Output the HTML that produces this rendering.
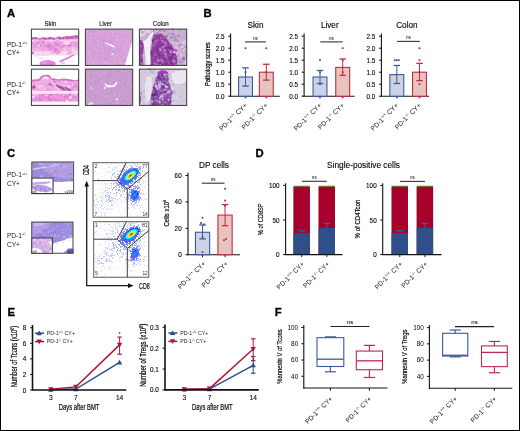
<!DOCTYPE html>
<html><head><meta charset="utf-8"><style>
html,body{margin:0;padding:0;background:#fff;}
svg{display:block;font-family:"Liberation Sans", sans-serif;will-change:transform;}
</style></head><body>
<svg width="520" height="431" viewBox="0 0 520 431">
<defs><filter id="nz" x="0" y="0" width="100%" height="100%"><feTurbulence type="fractalNoise" baseFrequency="0.42" numOctaves="2" seed="4"/><feColorMatrix type="matrix" values="0 0 0 0 1  0 0 0 0 1  0 0 0 0 1  1.6 0 0 0 -0.75"/></filter><filter id="nzd" x="0" y="0" width="100%" height="100%"><feTurbulence type="fractalNoise" baseFrequency="0.7" numOctaves="2" seed="9"/><feColorMatrix type="matrix" values="0 0 0 0 0.35  0 0 0 0 0.05  0 0 0 0 0.4  1.8 0 0 0 -0.95"/></filter><clipPath id="c1"><rect x="30.9" y="28.6" width="48.3" height="37.4"/></clipPath><clipPath id="c2"><rect x="84.9" y="28.6" width="48.3" height="37.4"/></clipPath><clipPath id="d2"><path d="M84.9,28.6 L133.2,28.6 L133.2,38.1 L124.5,66 L84.9,66 Z"/></clipPath><clipPath id="c3"><rect x="138.9" y="28.6" width="48.3" height="37.4"/></clipPath><clipPath id="c4"><rect x="30.9" y="68.6" width="48.3" height="37.4"/></clipPath><clipPath id="c5"><rect x="84.9" y="68.6" width="48.3" height="37.4"/></clipPath><clipPath id="d5"><path d="M84.9,68.6 L133.2,68.6 L133.2,106 L84.9,106 Z"/></clipPath><clipPath id="c6"><rect x="138.9" y="68.6" width="48.3" height="37.4"/></clipPath><clipPath id="c7"><rect x="31.3" y="161.5" width="42.8" height="32.6"/></clipPath><clipPath id="c8"><rect x="31.3" y="177.5" width="22.3" height="16.6"/></clipPath><clipPath id="c9"><rect x="31.2" y="221.6" width="42.3" height="32.2"/></clipPath><clipPath id="c10"><rect x="31.2" y="237.3" width="21.7" height="16.6"/></clipPath></defs>
<rect x="0" y="0" width="520" height="431" fill="#fff"/>
<text x="7" y="17" font-size="11.3" text-anchor="start" font-weight="bold" fill="#000" stroke="#000" stroke-width="0.3">A</text>
<text x="203.5" y="17.4" font-size="11.3" text-anchor="start" font-weight="bold" fill="#000" stroke="#000" stroke-width="0.3">B</text>
<text x="7" y="157.1" font-size="11.3" text-anchor="start" font-weight="bold" fill="#000" stroke="#000" stroke-width="0.3">C</text>
<text x="255.4" y="157.2" font-size="11.3" text-anchor="start" font-weight="bold" fill="#000" stroke="#000" stroke-width="0.3">D</text>
<text x="7.4" y="316.2" font-size="11.3" text-anchor="start" font-weight="bold" fill="#000" stroke="#000" stroke-width="0.3">E</text>
<text x="274.8" y="316.3" font-size="11.3" text-anchor="start" font-weight="bold" fill="#000" stroke="#000" stroke-width="0.3">F</text>
<line x1="230.6" y1="33.4" x2="230.6" y2="96.7" stroke="#111" stroke-width="1.1"/>
<line x1="230.1" y1="96.2" x2="279.8" y2="96.2" stroke="#111" stroke-width="1.1"/>
<line x1="228.1" y1="96.2" x2="230.6" y2="96.2" stroke="#111" stroke-width="1"/>
<text x="224.6" y="98.75" font-size="6.7" text-anchor="end" textLength="8.85" lengthAdjust="spacingAndGlyphs" stroke="#111" stroke-width="0.12">0.0</text>
<line x1="228.1" y1="84.2" x2="230.6" y2="84.2" stroke="#111" stroke-width="1"/>
<text x="224.6" y="86.75" font-size="6.7" text-anchor="end" textLength="8.85" lengthAdjust="spacingAndGlyphs" stroke="#111" stroke-width="0.12">0.5</text>
<line x1="228.1" y1="72.2" x2="230.6" y2="72.2" stroke="#111" stroke-width="1"/>
<text x="224.6" y="74.75" font-size="6.7" text-anchor="end" textLength="8.85" lengthAdjust="spacingAndGlyphs" stroke="#111" stroke-width="0.12">1.0</text>
<line x1="228.1" y1="60.2" x2="230.6" y2="60.2" stroke="#111" stroke-width="1"/>
<text x="224.6" y="62.75" font-size="6.7" text-anchor="end" textLength="8.85" lengthAdjust="spacingAndGlyphs" stroke="#111" stroke-width="0.12">1.5</text>
<line x1="228.1" y1="48.2" x2="230.6" y2="48.2" stroke="#111" stroke-width="1"/>
<text x="224.6" y="50.75" font-size="6.7" text-anchor="end" textLength="8.85" lengthAdjust="spacingAndGlyphs" stroke="#111" stroke-width="0.12">2.0</text>
<line x1="228.1" y1="36.2" x2="230.6" y2="36.2" stroke="#111" stroke-width="1"/>
<text x="224.6" y="38.75" font-size="6.7" text-anchor="end" textLength="8.85" lengthAdjust="spacingAndGlyphs" stroke="#111" stroke-width="0.12">2.5</text>
<text x="255.5" y="27.8" font-size="8.2" text-anchor="middle" stroke="#111" stroke-width="0.12">Skin</text>
<rect x="238.55" y="77" width="13.9" height="19.2" fill="#cdd2e6" stroke="#3b5b9b" stroke-width="1.1"/>
<line x1="245.5" y1="86.12" x2="245.5" y2="67.88" stroke="#3b5b9b" stroke-width="1"/>
<line x1="242.25" y1="86.12" x2="248.75" y2="86.12" stroke="#3b5b9b" stroke-width="1.3"/>
<line x1="242.25" y1="67.88" x2="248.75" y2="67.88" stroke="#3b5b9b" stroke-width="1.3"/>
<rect x="244.6" y="47.3" width="1.8" height="1.8" fill="#3b5b9b"/>
<rect x="244.6" y="71.3" width="1.8" height="1.8" fill="#3b5b9b"/>
<rect x="244.6" y="96.5" width="1.8" height="1.8" fill="#3b5b9b"/>
<rect x="259.35" y="72.2" width="13.9" height="24" fill="#e9c4bf" stroke="#bf2e48" stroke-width="1.1"/>
<line x1="266.3" y1="80.12" x2="266.3" y2="64.28" stroke="#bf2e48" stroke-width="1"/>
<line x1="263.05" y1="80.12" x2="269.55" y2="80.12" stroke="#bf2e48" stroke-width="1.3"/>
<line x1="263.05" y1="64.28" x2="269.55" y2="64.28" stroke="#bf2e48" stroke-width="1.3"/>
<rect x="265.4" y="47.3" width="1.8" height="1.8" fill="#bf2e48"/>
<rect x="265.4" y="71.3" width="1.8" height="1.8" fill="#bf2e48"/>
<rect x="265.4" y="96.5" width="1.8" height="1.8" fill="#bf2e48"/>
<line x1="245" y1="41.9" x2="265.9" y2="41.9" stroke="#333" stroke-width="1.1"/>
<text x="255.45" y="39.7" font-size="4.6" text-anchor="middle">ns</text>
<text x="247.5" y="105.8" font-size="6.7" text-anchor="end" fill="#111" transform="rotate(-45 247.5 105.8)">PD-1<tspan font-size="4.02" dy="-2.68">+/+</tspan><tspan dy="2.68"> CY+</tspan></text>
<text x="268.3" y="105.8" font-size="6.7" text-anchor="end" fill="#111" transform="rotate(-45 268.3 105.8)">PD-1<tspan font-size="4.02" dy="-2.68">-/-</tspan><tspan dy="2.68"> CY+</tspan></text>
<line x1="304.1" y1="33.4" x2="304.1" y2="96.7" stroke="#111" stroke-width="1.1"/>
<line x1="303.6" y1="96.2" x2="354.6" y2="96.2" stroke="#111" stroke-width="1.1"/>
<line x1="301.6" y1="96.2" x2="304.1" y2="96.2" stroke="#111" stroke-width="1"/>
<text x="298.1" y="98.75" font-size="6.7" text-anchor="end" textLength="8.85" lengthAdjust="spacingAndGlyphs" stroke="#111" stroke-width="0.12">0.0</text>
<line x1="301.6" y1="84.2" x2="304.1" y2="84.2" stroke="#111" stroke-width="1"/>
<text x="298.1" y="86.75" font-size="6.7" text-anchor="end" textLength="8.85" lengthAdjust="spacingAndGlyphs" stroke="#111" stroke-width="0.12">0.5</text>
<line x1="301.6" y1="72.2" x2="304.1" y2="72.2" stroke="#111" stroke-width="1"/>
<text x="298.1" y="74.75" font-size="6.7" text-anchor="end" textLength="8.85" lengthAdjust="spacingAndGlyphs" stroke="#111" stroke-width="0.12">1.0</text>
<line x1="301.6" y1="60.2" x2="304.1" y2="60.2" stroke="#111" stroke-width="1"/>
<text x="298.1" y="62.75" font-size="6.7" text-anchor="end" textLength="8.85" lengthAdjust="spacingAndGlyphs" stroke="#111" stroke-width="0.12">1.5</text>
<line x1="301.6" y1="48.2" x2="304.1" y2="48.2" stroke="#111" stroke-width="1"/>
<text x="298.1" y="50.75" font-size="6.7" text-anchor="end" textLength="8.85" lengthAdjust="spacingAndGlyphs" stroke="#111" stroke-width="0.12">2.0</text>
<line x1="301.6" y1="36.2" x2="304.1" y2="36.2" stroke="#111" stroke-width="1"/>
<text x="298.1" y="38.75" font-size="6.7" text-anchor="end" textLength="8.85" lengthAdjust="spacingAndGlyphs" stroke="#111" stroke-width="0.12">2.5</text>
<text x="329.75" y="27.8" font-size="8.2" text-anchor="middle" stroke="#111" stroke-width="0.12">Liver</text>
<rect x="313.05" y="77" width="13.9" height="19.2" fill="#cdd2e6" stroke="#3b5b9b" stroke-width="1.1"/>
<line x1="320" y1="83.48" x2="320" y2="70.52" stroke="#3b5b9b" stroke-width="1"/>
<line x1="316.75" y1="83.48" x2="323.25" y2="83.48" stroke="#3b5b9b" stroke-width="1.3"/>
<line x1="316.75" y1="70.52" x2="323.25" y2="70.52" stroke="#3b5b9b" stroke-width="1.3"/>
<rect x="319.1" y="59.3" width="1.8" height="1.8" fill="#3b5b9b"/>
<rect x="319.1" y="71.3" width="1.8" height="1.8" fill="#3b5b9b"/>
<rect x="319.1" y="83.3" width="1.8" height="1.8" fill="#3b5b9b"/>
<rect x="319.1" y="96.5" width="1.8" height="1.8" fill="#3b5b9b"/>
<rect x="335.75" y="67.4" width="13.9" height="28.8" fill="#e9c4bf" stroke="#bf2e48" stroke-width="1.1"/>
<line x1="342.7" y1="75.32" x2="342.7" y2="59" stroke="#bf2e48" stroke-width="1"/>
<line x1="339.45" y1="75.32" x2="345.95" y2="75.32" stroke="#bf2e48" stroke-width="1.3"/>
<line x1="339.45" y1="59" x2="345.95" y2="59" stroke="#bf2e48" stroke-width="1.3"/>
<rect x="341.8" y="47.3" width="1.8" height="1.8" fill="#bf2e48"/>
<rect x="341.8" y="59.3" width="1.8" height="1.8" fill="#bf2e48"/>
<rect x="341.8" y="71.3" width="1.8" height="1.8" fill="#bf2e48"/>
<rect x="341.8" y="96.5" width="1.8" height="1.8" fill="#bf2e48"/>
<line x1="320.3" y1="41.9" x2="342.6" y2="41.9" stroke="#333" stroke-width="1.1"/>
<text x="331.45" y="39.7" font-size="4.6" text-anchor="middle">ns</text>
<text x="322" y="105.8" font-size="6.7" text-anchor="end" fill="#111" transform="rotate(-45 322 105.8)">PD-1<tspan font-size="4.02" dy="-2.68">+/+</tspan><tspan dy="2.68"> CY+</tspan></text>
<text x="344.7" y="105.8" font-size="6.7" text-anchor="end" fill="#111" transform="rotate(-45 344.7 105.8)">PD-1<tspan font-size="4.02" dy="-2.68">-/-</tspan><tspan dy="2.68"> CY+</tspan></text>
<line x1="381.4" y1="33.4" x2="381.4" y2="96.7" stroke="#111" stroke-width="1.1"/>
<line x1="380.9" y1="96.2" x2="429" y2="96.2" stroke="#111" stroke-width="1.1"/>
<line x1="378.9" y1="96.2" x2="381.4" y2="96.2" stroke="#111" stroke-width="1"/>
<text x="375.4" y="98.75" font-size="6.7" text-anchor="end" textLength="8.85" lengthAdjust="spacingAndGlyphs" stroke="#111" stroke-width="0.12">0.0</text>
<line x1="378.9" y1="84.2" x2="381.4" y2="84.2" stroke="#111" stroke-width="1"/>
<text x="375.4" y="86.75" font-size="6.7" text-anchor="end" textLength="8.85" lengthAdjust="spacingAndGlyphs" stroke="#111" stroke-width="0.12">0.5</text>
<line x1="378.9" y1="72.2" x2="381.4" y2="72.2" stroke="#111" stroke-width="1"/>
<text x="375.4" y="74.75" font-size="6.7" text-anchor="end" textLength="8.85" lengthAdjust="spacingAndGlyphs" stroke="#111" stroke-width="0.12">1.0</text>
<line x1="378.9" y1="60.2" x2="381.4" y2="60.2" stroke="#111" stroke-width="1"/>
<text x="375.4" y="62.75" font-size="6.7" text-anchor="end" textLength="8.85" lengthAdjust="spacingAndGlyphs" stroke="#111" stroke-width="0.12">1.5</text>
<line x1="378.9" y1="48.2" x2="381.4" y2="48.2" stroke="#111" stroke-width="1"/>
<text x="375.4" y="50.75" font-size="6.7" text-anchor="end" textLength="8.85" lengthAdjust="spacingAndGlyphs" stroke="#111" stroke-width="0.12">2.0</text>
<line x1="378.9" y1="36.2" x2="381.4" y2="36.2" stroke="#111" stroke-width="1"/>
<text x="375.4" y="38.75" font-size="6.7" text-anchor="end" textLength="8.85" lengthAdjust="spacingAndGlyphs" stroke="#111" stroke-width="0.12">2.5</text>
<text x="406.9" y="27.8" font-size="8.2" text-anchor="middle" stroke="#111" stroke-width="0.12">Colon</text>
<rect x="389.85" y="74.6" width="13.9" height="21.6" fill="#cdd2e6" stroke="#3b5b9b" stroke-width="1.1"/>
<line x1="396.8" y1="83.48" x2="396.8" y2="65.48" stroke="#3b5b9b" stroke-width="1"/>
<line x1="393.55" y1="83.48" x2="400.05" y2="83.48" stroke="#3b5b9b" stroke-width="1.3"/>
<line x1="393.55" y1="65.48" x2="400.05" y2="65.48" stroke="#3b5b9b" stroke-width="1.3"/>
<rect x="393.9" y="59.3" width="1.8" height="1.8" fill="#3b5b9b"/>
<rect x="395.9" y="59.3" width="1.8" height="1.8" fill="#3b5b9b"/>
<rect x="397.9" y="59.3" width="1.8" height="1.8" fill="#3b5b9b"/>
<rect x="395.9" y="96.5" width="1.8" height="1.8" fill="#3b5b9b"/>
<rect x="412.55" y="72.2" width="13.9" height="24" fill="#e9c4bf" stroke="#bf2e48" stroke-width="1.1"/>
<line x1="419.5" y1="80.6" x2="419.5" y2="63.32" stroke="#bf2e48" stroke-width="1"/>
<line x1="416.25" y1="80.6" x2="422.75" y2="80.6" stroke="#bf2e48" stroke-width="1.3"/>
<line x1="416.25" y1="63.32" x2="422.75" y2="63.32" stroke="#bf2e48" stroke-width="1.3"/>
<rect x="418.6" y="47.3" width="1.8" height="1.8" fill="#bf2e48"/>
<rect x="418.6" y="59.3" width="1.8" height="1.8" fill="#bf2e48"/>
<rect x="418.6" y="71.3" width="1.8" height="1.8" fill="#bf2e48"/>
<rect x="418.6" y="83.3" width="1.8" height="1.8" fill="#bf2e48"/>
<rect x="418.6" y="96.5" width="1.8" height="1.8" fill="#bf2e48"/>
<line x1="397.1" y1="41.4" x2="419.8" y2="41.4" stroke="#333" stroke-width="1.1"/>
<text x="408.45" y="39.2" font-size="4.6" text-anchor="middle">ns</text>
<text x="398.8" y="105.8" font-size="6.7" text-anchor="end" fill="#111" transform="rotate(-45 398.8 105.8)">PD-1<tspan font-size="4.02" dy="-2.68">+/+</tspan><tspan dy="2.68"> CY+</tspan></text>
<text x="421.5" y="105.8" font-size="6.7" text-anchor="end" fill="#111" transform="rotate(-45 421.5 105.8)">PD-1<tspan font-size="4.02" dy="-2.68">-/-</tspan><tspan dy="2.68"> CY+</tspan></text>
<text x="210.2" y="64.1" font-size="7.5" text-anchor="middle" textLength="43.6" lengthAdjust="spacingAndGlyphs" transform="rotate(-90 210.2 64.1)" stroke="#111" stroke-width="0.25">Pathology scores</text>
<text x="44.6" y="25.6" font-size="6.8" text-anchor="start" textLength="11.6" lengthAdjust="spacingAndGlyphs" stroke="#111" stroke-width="0.1">Skin</text>
<text x="99.3" y="25.6" font-size="6.8" text-anchor="start" textLength="12.6" lengthAdjust="spacingAndGlyphs" stroke="#111" stroke-width="0.1">Liver</text>
<text x="152.7" y="25.6" font-size="6.8" text-anchor="start" textLength="16.1" lengthAdjust="spacingAndGlyphs" stroke="#111" stroke-width="0.1">Colon</text>
<text x="6.9" y="47.2" font-size="6.6" fill="#111">PD-1<tspan font-size="4" dy="-2.8">+/+</tspan></text>
<text x="6.9" y="54.8" font-size="6.6" text-anchor="start">CY+</text>
<text x="6.9" y="87" font-size="6.6" fill="#111">PD-1<tspan font-size="4" dy="-2.8">-/-</tspan></text>
<text x="6.9" y="94.6" font-size="6.6" text-anchor="start">CY+</text>
<g clip-path="url(#c1)">
<rect x="30.9" y="28.6" width="48.3" height="37.4" fill="#ffffff"/><path d="M30.9,37.6 L33.9,37 L36.9,37.4 L39.9,38.2 L42.9,37.2 L46.9,37.8 L50.9,37 L54.9,38 L57.9,36.6 L61.9,37.2 L65.9,36 L69.9,36.4 L73.9,35.6 L76.9,35.2 L79.2,35.8 L79.2,55.6 L30.9,55.6 Z" fill="#f7d6f0"/><path d="M30.9,37.6 L33.9,37 L36.9,37.4 L39.9,38.2 L42.9,37.2 L46.9,37.8 L50.9,37 L54.9,38 L57.9,36.6 L61.9,37.2 L65.9,36 L69.9,36.4 L73.9,35.6 L76.9,35.2 L79.2,35.8 L79.2,50.6 L60.9,51.1 L30.9,51.6 Z" fill="#f0b2e2"/><path d="M30.9,41.6 L79.2,41.1 L79.2,48.1 L30.9,48.6 Z" fill="#e99cdc" opacity="0.9"/><path d="M30.9,37.6 L33.9,37 L36.9,37.4 L39.9,38.2 L42.9,37.2 L46.9,37.8 L50.9,37 L54.9,38 L57.9,36.6 L61.9,37.2 L65.9,36 L69.9,36.4 L73.9,35.6 L76.9,35.2 L79.2,35.8 L79.2,38.4 L74.9,38.8 L70.9,39 L66.9,39.2 L61.9,39.6 L57.9,39.2 L54.9,40 L50.9,39.4 L46.9,40 L42.9,39.4 L39.9,40.2 L36.9,39.6 L33.9,39.4 L30.9,39.8 Z" fill="#d070c6"/><ellipse cx="31.9" cy="38.4" rx="1.2" ry="0.9" fill="#a844a6" opacity="0.75"/><ellipse cx="35.9" cy="38.2" rx="1.5" ry="0.9" fill="#a844a6" opacity="0.75"/><ellipse cx="40.9" cy="38.8" rx="1" ry="0.9" fill="#a844a6" opacity="0.75"/><ellipse cx="44.9" cy="38.6" rx="1.2" ry="0.9" fill="#a844a6" opacity="0.75"/><ellipse cx="49.9" cy="38.2" rx="1.4" ry="0.9" fill="#a844a6" opacity="0.75"/><ellipse cx="53.9" cy="39" rx="1" ry="0.9" fill="#a844a6" opacity="0.75"/><ellipse cx="59.9" cy="38.2" rx="1.5" ry="0.9" fill="#a844a6" opacity="0.75"/><ellipse cx="63.9" cy="37.8" rx="1.2" ry="0.9" fill="#a844a6" opacity="0.75"/><ellipse cx="67.9" cy="37.4" rx="1.8" ry="0.9" fill="#a844a6" opacity="0.75"/><ellipse cx="71.9" cy="37.2" rx="1.6" ry="0.9" fill="#a844a6" opacity="0.75"/><ellipse cx="75.9" cy="36.6" rx="1.8" ry="0.9" fill="#a844a6" opacity="0.75"/><ellipse cx="34.9" cy="45.1" rx="1.7" ry="0.9" fill="#b46cc6" opacity="0.6"/><ellipse cx="39.9" cy="46.1" rx="1.7" ry="0.9" fill="#b46cc6" opacity="0.6"/><ellipse cx="45.9" cy="45.4" rx="1.7" ry="0.9" fill="#b46cc6" opacity="0.6"/><ellipse cx="51.9" cy="46.2" rx="1.7" ry="0.9" fill="#b46cc6" opacity="0.6"/><ellipse cx="57.9" cy="45.2" rx="1.7" ry="0.9" fill="#b46cc6" opacity="0.6"/><ellipse cx="63.9" cy="46" rx="1.7" ry="0.9" fill="#b46cc6" opacity="0.6"/><ellipse cx="69.9" cy="45.4" rx="1.7" ry="0.9" fill="#b46cc6" opacity="0.6"/><ellipse cx="74.9" cy="46.2" rx="1.7" ry="0.9" fill="#b46cc6" opacity="0.6"/><ellipse cx="37.9" cy="42.8" rx="1.7" ry="0.9" fill="#b46cc6" opacity="0.6"/><ellipse cx="55.9" cy="42.6" rx="1.7" ry="0.9" fill="#b46cc6" opacity="0.6"/><ellipse cx="70.9" cy="43" rx="1.7" ry="0.9" fill="#b46cc6" opacity="0.6"/><rect x="30.9" y="39.8" width="48.3" height="1.6" fill="#f6d0ee" opacity="0.8"/><ellipse cx="46.54" cy="49.52" rx="1.22" ry="1.2" fill="#f8dcf2" opacity="0.59" transform="rotate(-19 46.54 49.52)"/><ellipse cx="55.64" cy="49.11" rx="2.21" ry="1.9" fill="#d878d0" opacity="0.83" transform="rotate(-11 55.64 49.11)"/><ellipse cx="67.64" cy="45.19" rx="1.53" ry="0.78" fill="#e48ad8" opacity="0.64" transform="rotate(-7 67.64 45.19)"/><ellipse cx="40.07" cy="41.98" rx="2.98" ry="1.72" fill="#e48ad8" opacity="0.84" transform="rotate(-25 40.07 41.98)"/><ellipse cx="42.96" cy="41.96" rx="1.69" ry="1.36" fill="#d878d0" opacity="0.6" transform="rotate(-25 42.96 41.96)"/><ellipse cx="43.04" cy="42.93" rx="1.26" ry="0.41" fill="#e48ad8" opacity="0.6" transform="rotate(-12 43.04 42.93)"/><ellipse cx="53.97" cy="51.94" rx="2.39" ry="1.24" fill="#e48ad8" opacity="0.57" transform="rotate(-6 53.97 51.94)"/><ellipse cx="41.33" cy="48.81" rx="2.15" ry="1.06" fill="#e48ad8" opacity="0.74" transform="rotate(-6 41.33 48.81)"/><ellipse cx="67.87" cy="43.73" rx="2.69" ry="0.72" fill="#f8dcf2" opacity="0.58" transform="rotate(-15 67.87 43.73)"/><ellipse cx="64.76" cy="47.67" rx="2.21" ry="1.06" fill="#f8dcf2" opacity="0.59" transform="rotate(-21 64.76 47.67)"/><ellipse cx="78.37" cy="47.6" rx="2.13" ry="0.74" fill="#e48ad8" opacity="0.57" transform="rotate(-5 78.37 47.6)"/><ellipse cx="52.18" cy="52.75" rx="2.05" ry="0.91" fill="#eeb0e4" opacity="0.69" transform="rotate(-15 52.18 52.75)"/><ellipse cx="61.01" cy="48.41" rx="2.99" ry="0.76" fill="#eeb0e4" opacity="0.58" transform="rotate(-16 61.01 48.41)"/><ellipse cx="62.05" cy="47.62" rx="2.54" ry="1.19" fill="#e48ad8" opacity="0.52" transform="rotate(-12 62.05 47.62)"/><ellipse cx="34.01" cy="43.57" rx="2.4" ry="1.84" fill="#eeb0e4" opacity="0.74" transform="rotate(-8 34.01 43.57)"/><ellipse cx="71.03" cy="49.09" rx="1.3" ry="0.7" fill="#d878d0" opacity="0.61" transform="rotate(-8 71.03 49.09)"/><ellipse cx="56.5" cy="44.55" rx="2.9" ry="0.77" fill="#d878d0" opacity="0.63" transform="rotate(-12 56.5 44.55)"/><ellipse cx="63.39" cy="43.64" rx="3.16" ry="1.04" fill="#eeb0e4" opacity="0.71" transform="rotate(-23 63.39 43.64)"/><ellipse cx="66.85" cy="43.67" rx="1.52" ry="1.23" fill="#eeb0e4" opacity="0.64" transform="rotate(-11 66.85 43.67)"/><ellipse cx="62.89" cy="46.82" rx="2.43" ry="0.84" fill="#e48ad8" opacity="0.69" transform="rotate(-11 62.89 46.82)"/><ellipse cx="42.34" cy="50" rx="1.54" ry="1.52" fill="#e48ad8" opacity="0.63" transform="rotate(-25 42.34 50)"/><ellipse cx="54.18" cy="50.81" rx="1.46" ry="1.2" fill="#e48ad8" opacity="0.84" transform="rotate(-10 54.18 50.81)"/><ellipse cx="48.82" cy="45.98" rx="2.46" ry="2.22" fill="#d878d0" opacity="0.7" transform="rotate(-15 48.82 45.98)"/><ellipse cx="69.99" cy="52.24" rx="2.62" ry="1.37" fill="#d878d0" opacity="0.57" transform="rotate(-6 69.99 52.24)"/><ellipse cx="67.93" cy="53.52" rx="2.27" ry="1.06" fill="#e48ad8" opacity="0.52" transform="rotate(-16 67.93 53.52)"/><ellipse cx="49.55" cy="48.62" rx="2.49" ry="1.89" fill="#d878d0" opacity="0.77" transform="rotate(-24 49.55 48.62)"/><ellipse cx="58.43" cy="52.63" rx="1.66" ry="0.77" fill="#d878d0" opacity="0.61" transform="rotate(-15 58.43 52.63)"/><ellipse cx="66.07" cy="47.46" rx="1.34" ry="1.23" fill="#eeb0e4" opacity="0.79" transform="rotate(-13 66.07 47.46)"/><ellipse cx="57.51" cy="41.38" rx="1.78" ry="1.04" fill="#d878d0" opacity="0.67" transform="rotate(-9 57.51 41.38)"/><ellipse cx="57.8" cy="51.79" rx="2.88" ry="2.66" fill="#d878d0" opacity="0.6" transform="rotate(-23 57.8 51.79)"/><ellipse cx="38.75" cy="45.86" rx="1.37" ry="1.23" fill="#f8dcf2" opacity="0.69" transform="rotate(-18 38.75 45.86)"/><ellipse cx="36.35" cy="54.52" rx="2.54" ry="2.42" fill="#f8dcf2" opacity="0.73" transform="rotate(-9 36.35 54.52)"/><ellipse cx="68.61" cy="42.52" rx="2.41" ry="1.71" fill="#f8dcf2" opacity="0.8" transform="rotate(-14 68.61 42.52)"/><ellipse cx="41.09" cy="49.63" rx="1.29" ry="0.5" fill="#e48ad8" opacity="0.77" transform="rotate(-13 41.09 49.63)"/><ellipse cx="41.86" cy="49.17" rx="1.69" ry="0.71" fill="#eeb0e4" opacity="0.7" transform="rotate(-22 41.86 49.17)"/><ellipse cx="40.53" cy="50.08" rx="1.6" ry="0.6" fill="#f8dcf2" opacity="0.84" transform="rotate(-5 40.53 50.08)"/><ellipse cx="70.13" cy="53.75" rx="1.55" ry="1.03" fill="#eeb0e4" opacity="0.79" transform="rotate(-14 70.13 53.75)"/><ellipse cx="73.25" cy="47.74" rx="2.18" ry="2.11" fill="#f8dcf2" opacity="0.56" transform="rotate(-17 73.25 47.74)"/><ellipse cx="72.48" cy="50.34" rx="1.93" ry="1.26" fill="#f8dcf2" opacity="0.61" transform="rotate(-16 72.48 50.34)"/><ellipse cx="32.61" cy="43.68" rx="1.75" ry="1.57" fill="#e48ad8" opacity="0.65" transform="rotate(-8 32.61 43.68)"/><ellipse cx="52.41" cy="47.89" rx="3.09" ry="2.73" fill="#e48ad8" opacity="0.81" transform="rotate(-19 52.41 47.89)"/><ellipse cx="56.88" cy="40.49" rx="2.34" ry="2.22" fill="#eeb0e4" opacity="0.71" transform="rotate(-25 56.88 40.49)"/><ellipse cx="55.72" cy="46.76" rx="2.04" ry="0.87" fill="#eeb0e4" opacity="0.77" transform="rotate(-14 55.72 46.76)"/><ellipse cx="66.68" cy="40.1" rx="1.63" ry="0.5" fill="#e48ad8" opacity="0.82" transform="rotate(-23 66.68 40.1)"/><ellipse cx="66" cy="42.85" rx="2.52" ry="2.2" fill="#f8dcf2" opacity="0.82" transform="rotate(-14 66 42.85)"/><path d="M30.9,51.8 L33.6,52 L33.9,53.9 L30.9,54.1 Z" fill="#b050b8" opacity="0.8"/><path d="M35.9,49.6 L44.9,49.1 L52.9,50.1 L44.9,50.8 Z" fill="#e8a0dc" opacity="0.8"/><path d="M34.9,54.6 L42.9,54.1 L50.9,55.1 L40.9,55.6 Z" fill="#f2c4ea" opacity="0.8"/><path d="M58.9,61.1 L66.9,57.6 L72.9,54.4 L74.9,53.9 L73.9,55.4 L67.9,59.1 L59.9,62.4 Z" fill="#e068cc" opacity="0.95"/><path d="M39.5,66 L39.9,62.1 L43.9,60.4 L48.9,60 L52.9,60.9 L55.4,62.6 L55.9,66 Z" fill="#e67ed8"/><ellipse cx="62.9" cy="63.1" rx="2.5" ry="1" fill="#f0b0e4" opacity="0.8"/><ellipse cx="40.9" cy="58.1" rx="4" ry="0.6" fill="#f4c8ee" opacity="0.8"/><ellipse cx="70.9" cy="61.1" rx="3" ry="0.6" fill="#f4c8ee" opacity="0.8"/>
<rect x="30.9" y="28.6" width="48.3" height="37.4" filter="url(#nz)" opacity="0.6"/>
</g>
<rect x="31.45" y="29.15" width="47.2" height="36.3" fill="none" stroke="#4a4a4a" stroke-width="1.1"/>
<g clip-path="url(#c2)">
<rect x="84.9" y="28.6" width="48.3" height="37.4" fill="#d9a2dc"/><ellipse cx="100.9" cy="48.6" rx="14" ry="12" fill="#d29cd8" opacity="0.6"/><path d="M133.2,38.1 L133.2,66 L124.5,66 Z" fill="#ffffff"/><path d="M104.5,42.2 L109.9,44.1 L113.9,45.8 L114.9,47 L113.5,47.4 L109.4,45.2 L104.5,43 Z" fill="#ffffff"/><ellipse cx="112.2" cy="53.9" rx="0.9" ry="0.9" fill="#ffffff"/>
<rect x="84.9" y="28.6" width="48.3" height="37.4" filter="url(#nz)" opacity="0.35"/>
<rect x="84.9" y="28.6" width="48.3" height="37.4" filter="url(#nzd)" opacity="0.35" clip-path="url(#d2)"/>
</g>
<rect x="85.45" y="29.15" width="47.2" height="36.3" fill="none" stroke="#4a4a4a" stroke-width="1.1"/>
<g clip-path="url(#c3)">
<rect x="138.9" y="28.6" width="48.3" height="37.4" fill="#c8aed0"/><ellipse cx="157.66" cy="32.81" rx="0.88" ry="0.8" fill="#9a6aae" opacity="0.84" transform="rotate(8 157.66 32.81)"/><ellipse cx="175.61" cy="33.71" rx="1.24" ry="0.99" fill="#e8e0ec" opacity="0.53" transform="rotate(151 175.61 33.71)"/><ellipse cx="156.09" cy="29.36" rx="1.73" ry="1.34" fill="#9a6aae" opacity="0.53" transform="rotate(100 156.09 29.36)"/><ellipse cx="185.61" cy="59.97" rx="1.03" ry="0.72" fill="#e8e0ec" opacity="0.46" transform="rotate(135 185.61 59.97)"/><ellipse cx="182.68" cy="52.95" rx="0.86" ry="0.8" fill="#dccfe2" opacity="0.53" transform="rotate(164 182.68 52.95)"/><ellipse cx="180.99" cy="46.63" rx="0.92" ry="0.67" fill="#b890c4" opacity="0.61" transform="rotate(165 180.99 46.63)"/><ellipse cx="175.22" cy="40.43" rx="0.86" ry="0.78" fill="#a57ab8" opacity="0.77" transform="rotate(78 175.22 40.43)"/><ellipse cx="183.65" cy="49.54" rx="1.72" ry="1.62" fill="#dccfe2" opacity="0.49" transform="rotate(49 183.65 49.54)"/><ellipse cx="175.87" cy="39.25" rx="0.97" ry="0.91" fill="#9a6aae" opacity="0.5" transform="rotate(51 175.87 39.25)"/><ellipse cx="180.36" cy="45.23" rx="1.55" ry="1.29" fill="#a57ab8" opacity="0.56" transform="rotate(163 180.36 45.23)"/><ellipse cx="182.2" cy="46.39" rx="1.2" ry="1.1" fill="#dccfe2" opacity="0.79" transform="rotate(156 182.2 46.39)"/><ellipse cx="182.21" cy="46.75" rx="1.56" ry="1.33" fill="#e8e0ec" opacity="0.84" transform="rotate(6 182.21 46.75)"/><ellipse cx="186.69" cy="41.64" rx="0.61" ry="0.47" fill="#dccfe2" opacity="0.63" transform="rotate(11 186.69 41.64)"/><ellipse cx="183.32" cy="58.11" rx="1.74" ry="1.65" fill="#9a6aae" opacity="0.67" transform="rotate(142 183.32 58.11)"/><ellipse cx="176.74" cy="48.21" rx="1.63" ry="1.27" fill="#b890c4" opacity="0.53" transform="rotate(157 176.74 48.21)"/><ellipse cx="168.91" cy="33.6" rx="0.75" ry="0.69" fill="#9a6aae" opacity="0.83" transform="rotate(176 168.91 33.6)"/><ellipse cx="178.03" cy="36.37" rx="0.89" ry="0.86" fill="#9a6aae" opacity="0.62" transform="rotate(78 178.03 36.37)"/><ellipse cx="171.48" cy="37.68" rx="1.53" ry="1.38" fill="#a57ab8" opacity="0.46" transform="rotate(157 171.48 37.68)"/><ellipse cx="181.3" cy="38.85" rx="1.24" ry="0.98" fill="#dccfe2" opacity="0.53" transform="rotate(8 181.3 38.85)"/><ellipse cx="180.94" cy="42.97" rx="0.84" ry="0.59" fill="#dccfe2" opacity="0.57" transform="rotate(94 180.94 42.97)"/><ellipse cx="186.14" cy="61.69" rx="1.43" ry="1.37" fill="#e8e0ec" opacity="0.82" transform="rotate(71 186.14 61.69)"/><ellipse cx="175.48" cy="44.22" rx="0.68" ry="0.47" fill="#e8e0ec" opacity="0.78" transform="rotate(0 175.48 44.22)"/><ellipse cx="183.56" cy="64.85" rx="0.89" ry="0.6" fill="#b890c4" opacity="0.76" transform="rotate(24 183.56 64.85)"/><ellipse cx="169.79" cy="40.05" rx="1.16" ry="1.14" fill="#dccfe2" opacity="0.57" transform="rotate(99 169.79 40.05)"/><ellipse cx="166.55" cy="36.58" rx="1.66" ry="1.52" fill="#a57ab8" opacity="0.78" transform="rotate(62 166.55 36.58)"/><ellipse cx="185.8" cy="37.55" rx="1.62" ry="1.26" fill="#dccfe2" opacity="0.56" transform="rotate(27 185.8 37.55)"/><ellipse cx="180.22" cy="30.91" rx="0.9" ry="0.73" fill="#e8e0ec" opacity="0.51" transform="rotate(12 180.22 30.91)"/><ellipse cx="184.95" cy="37.03" rx="1.63" ry="1.36" fill="#a57ab8" opacity="0.46" transform="rotate(121 184.95 37.03)"/><ellipse cx="183.8" cy="59.53" rx="1.47" ry="1.11" fill="#9a6aae" opacity="0.85" transform="rotate(119 183.8 59.53)"/><ellipse cx="182.37" cy="30.73" rx="1.28" ry="1.24" fill="#dccfe2" opacity="0.7" transform="rotate(51 182.37 30.73)"/><ellipse cx="180.91" cy="56.1" rx="1.69" ry="1.53" fill="#dccfe2" opacity="0.62" transform="rotate(142 180.91 56.1)"/><ellipse cx="161.73" cy="32" rx="0.67" ry="0.63" fill="#dccfe2" opacity="0.8" transform="rotate(50 161.73 32)"/><ellipse cx="185.81" cy="44.35" rx="0.98" ry="0.71" fill="#e8e0ec" opacity="0.78" transform="rotate(107 185.81 44.35)"/><ellipse cx="164.65" cy="35.57" rx="0.87" ry="0.63" fill="#9a6aae" opacity="0.5" transform="rotate(27 164.65 35.57)"/><ellipse cx="177.2" cy="40.2" rx="1.4" ry="1.11" fill="#9a6aae" opacity="0.48" transform="rotate(24 177.2 40.2)"/><ellipse cx="182.75" cy="46.43" rx="0.77" ry="0.61" fill="#9a6aae" opacity="0.47" transform="rotate(153 182.75 46.43)"/><ellipse cx="163.46" cy="30.81" rx="0.99" ry="0.87" fill="#b890c4" opacity="0.78" transform="rotate(178 163.46 30.81)"/><ellipse cx="183.23" cy="49.22" rx="1.31" ry="1.2" fill="#dccfe2" opacity="0.51" transform="rotate(77 183.23 49.22)"/><ellipse cx="179.89" cy="50.83" rx="1.25" ry="1.18" fill="#dccfe2" opacity="0.75" transform="rotate(165 179.89 50.83)"/><ellipse cx="173.94" cy="34.15" rx="1.76" ry="1.42" fill="#b890c4" opacity="0.74" transform="rotate(36 173.94 34.15)"/><ellipse cx="176.3" cy="50.46" rx="1.56" ry="1.26" fill="#9a6aae" opacity="0.78" transform="rotate(86 176.3 50.46)"/><ellipse cx="179.05" cy="55.55" rx="1.18" ry="0.87" fill="#9a6aae" opacity="0.73" transform="rotate(118 179.05 55.55)"/><ellipse cx="173.19" cy="41.53" rx="1.63" ry="1.5" fill="#a57ab8" opacity="0.75" transform="rotate(162 173.19 41.53)"/><ellipse cx="155.13" cy="29.3" rx="0.66" ry="0.66" fill="#b890c4" opacity="0.52" transform="rotate(18 155.13 29.3)"/><ellipse cx="166.62" cy="32.28" rx="0.72" ry="0.49" fill="#dccfe2" opacity="0.51" transform="rotate(9 166.62 32.28)"/><ellipse cx="179.22" cy="55.99" rx="0.72" ry="0.52" fill="#b890c4" opacity="0.64" transform="rotate(91 179.22 55.99)"/><ellipse cx="186.95" cy="52.83" rx="1.77" ry="1.58" fill="#b890c4" opacity="0.55" transform="rotate(54 186.95 52.83)"/><ellipse cx="172.38" cy="34.16" rx="1.43" ry="1.24" fill="#a57ab8" opacity="0.81" transform="rotate(71 172.38 34.16)"/><ellipse cx="175.54" cy="46.95" rx="1.01" ry="0.69" fill="#e8e0ec" opacity="0.73" transform="rotate(59 175.54 46.95)"/><ellipse cx="185.73" cy="38.56" rx="1.66" ry="1.25" fill="#e8e0ec" opacity="0.53" transform="rotate(106 185.73 38.56)"/><ellipse cx="185.5" cy="46.26" rx="0.7" ry="0.59" fill="#b890c4" opacity="0.83" transform="rotate(118 185.5 46.26)"/><ellipse cx="171.86" cy="28.63" rx="1.2" ry="0.78" fill="#e8e0ec" opacity="0.83" transform="rotate(72 171.86 28.63)"/><ellipse cx="178.74" cy="43.45" rx="0.7" ry="0.51" fill="#e8e0ec" opacity="0.69" transform="rotate(100 178.74 43.45)"/><ellipse cx="178.3" cy="48.64" rx="1.01" ry="0.73" fill="#dccfe2" opacity="0.73" transform="rotate(160 178.3 48.64)"/><ellipse cx="182.43" cy="29.56" rx="1.08" ry="0.69" fill="#b890c4" opacity="0.49" transform="rotate(29 182.43 29.56)"/><ellipse cx="185.61" cy="46.08" rx="1.41" ry="1.29" fill="#9a6aae" opacity="0.48" transform="rotate(94 185.61 46.08)"/><ellipse cx="185.48" cy="51.27" rx="1.05" ry="1" fill="#a57ab8" opacity="0.51" transform="rotate(145 185.48 51.27)"/><ellipse cx="169.6" cy="39.99" rx="1.13" ry="0.81" fill="#a57ab8" opacity="0.75" transform="rotate(97 169.6 39.99)"/><ellipse cx="170.84" cy="30.72" rx="0.64" ry="0.45" fill="#dccfe2" opacity="0.5" transform="rotate(142 170.84 30.72)"/><ellipse cx="155.66" cy="31" rx="1.61" ry="1.2" fill="#dccfe2" opacity="0.58" transform="rotate(94 155.66 31)"/><ellipse cx="180.93" cy="65.86" rx="0.66" ry="0.45" fill="#e8e0ec" opacity="0.79" transform="rotate(138 180.93 65.86)"/><ellipse cx="187.2" cy="47.17" rx="1.38" ry="1.27" fill="#9a6aae" opacity="0.68" transform="rotate(165 187.2 47.17)"/><ellipse cx="181.2" cy="59.11" rx="1.44" ry="1.34" fill="#b890c4" opacity="0.66" transform="rotate(159 181.2 59.11)"/><ellipse cx="160.51" cy="30.71" rx="1.7" ry="1.43" fill="#b890c4" opacity="0.8" transform="rotate(28 160.51 30.71)"/><ellipse cx="176.59" cy="43.27" rx="1.3" ry="0.85" fill="#dccfe2" opacity="0.64" transform="rotate(135 176.59 43.27)"/><ellipse cx="180.16" cy="53.34" rx="1.32" ry="1.02" fill="#dccfe2" opacity="0.49" transform="rotate(143 180.16 53.34)"/><ellipse cx="184.09" cy="59.09" rx="0.9" ry="0.73" fill="#9a6aae" opacity="0.72" transform="rotate(150 184.09 59.09)"/><ellipse cx="180.42" cy="54.93" rx="1.01" ry="0.94" fill="#dccfe2" opacity="0.72" transform="rotate(101 180.42 54.93)"/><ellipse cx="170.79" cy="42.52" rx="1.66" ry="1.16" fill="#e8e0ec" opacity="0.68" transform="rotate(164 170.79 42.52)"/><ellipse cx="180.2" cy="61.77" rx="1.57" ry="1.31" fill="#a57ab8" opacity="0.8" transform="rotate(9 180.2 61.77)"/><ellipse cx="176.9" cy="47.84" rx="1.32" ry="0.95" fill="#dccfe2" opacity="0.83" transform="rotate(111 176.9 47.84)"/><ellipse cx="172.84" cy="28.91" rx="1.33" ry="1.23" fill="#9a6aae" opacity="0.85" transform="rotate(144 172.84 28.91)"/><ellipse cx="186.69" cy="50.88" rx="1.5" ry="1.06" fill="#e8e0ec" opacity="0.73" transform="rotate(121 186.69 50.88)"/><ellipse cx="178.18" cy="35.25" rx="1.33" ry="1.24" fill="#a57ab8" opacity="0.54" transform="rotate(21 178.18 35.25)"/><ellipse cx="183.67" cy="42.98" rx="1.12" ry="0.92" fill="#e8e0ec" opacity="0.72" transform="rotate(136 183.67 42.98)"/><ellipse cx="171.65" cy="37.51" rx="1.69" ry="1.32" fill="#a57ab8" opacity="0.65" transform="rotate(64 171.65 37.51)"/><ellipse cx="181.81" cy="61.45" rx="1.48" ry="1.41" fill="#b890c4" opacity="0.74" transform="rotate(86 181.81 61.45)"/><ellipse cx="177.65" cy="52.63" rx="1.04" ry="0.72" fill="#dccfe2" opacity="0.71" transform="rotate(165 177.65 52.63)"/><ellipse cx="179.44" cy="45.04" rx="1.48" ry="1.23" fill="#b890c4" opacity="0.67" transform="rotate(172 179.44 45.04)"/><ellipse cx="185.83" cy="39.33" rx="1.16" ry="0.92" fill="#a57ab8" opacity="0.73" transform="rotate(130 185.83 39.33)"/><ellipse cx="181.59" cy="38.11" rx="1.09" ry="1.07" fill="#dccfe2" opacity="0.46" transform="rotate(48 181.59 38.11)"/><ellipse cx="176.9" cy="39.28" rx="0.77" ry="0.51" fill="#9a6aae" opacity="0.46" transform="rotate(121 176.9 39.28)"/><ellipse cx="181.65" cy="57.1" rx="0.89" ry="0.65" fill="#dccfe2" opacity="0.56" transform="rotate(36 181.65 57.1)"/><ellipse cx="183.55" cy="47.08" rx="0.76" ry="0.63" fill="#e8e0ec" opacity="0.79" transform="rotate(49 183.55 47.08)"/><ellipse cx="178.93" cy="51.08" rx="0.94" ry="0.91" fill="#dccfe2" opacity="0.65" transform="rotate(167 178.93 51.08)"/><ellipse cx="183.38" cy="48.48" rx="0.66" ry="0.48" fill="#a57ab8" opacity="0.69" transform="rotate(52 183.38 48.48)"/><ellipse cx="180.5" cy="30.37" rx="1.49" ry="0.99" fill="#9a6aae" opacity="0.45" transform="rotate(91 180.5 30.37)"/><ellipse cx="186.55" cy="44.9" rx="1.69" ry="1.48" fill="#e8e0ec" opacity="0.52" transform="rotate(117 186.55 44.9)"/><ellipse cx="173.22" cy="41.99" rx="1.53" ry="1.43" fill="#dccfe2" opacity="0.69" transform="rotate(34 173.22 41.99)"/><ellipse cx="186.89" cy="54.03" rx="0.89" ry="0.71" fill="#e8e0ec" opacity="0.84" transform="rotate(96 186.89 54.03)"/><ellipse cx="182.89" cy="48.5" rx="1.28" ry="0.84" fill="#b890c4" opacity="0.81" transform="rotate(125 182.89 48.5)"/><ellipse cx="185.16" cy="41.69" rx="1.63" ry="1.63" fill="#dccfe2" opacity="0.75" transform="rotate(116 185.16 41.69)"/><ellipse cx="183.78" cy="64.91" rx="1.09" ry="0.96" fill="#b890c4" opacity="0.68" transform="rotate(13 183.78 64.91)"/><ellipse cx="180.63" cy="64.32" rx="1.07" ry="0.69" fill="#b890c4" opacity="0.84" transform="rotate(163 180.63 64.32)"/><ellipse cx="185.39" cy="63.53" rx="0.84" ry="0.83" fill="#e8e0ec" opacity="0.84" transform="rotate(113 185.39 63.53)"/><ellipse cx="179.88" cy="37.26" rx="0.72" ry="0.67" fill="#9a6aae" opacity="0.52" transform="rotate(24 179.88 37.26)"/><ellipse cx="164.77" cy="30.92" rx="1.59" ry="1.32" fill="#a57ab8" opacity="0.66" transform="rotate(156 164.77 30.92)"/><ellipse cx="178.62" cy="58.27" rx="1.05" ry="0.85" fill="#b890c4" opacity="0.74" transform="rotate(41 178.62 58.27)"/><ellipse cx="184.14" cy="60.76" rx="1.07" ry="0.7" fill="#9a6aae" opacity="0.53" transform="rotate(98 184.14 60.76)"/><ellipse cx="177.15" cy="37.46" rx="1.06" ry="0.82" fill="#dccfe2" opacity="0.72" transform="rotate(18 177.15 37.46)"/><ellipse cx="171.34" cy="41.69" rx="0.74" ry="0.59" fill="#b890c4" opacity="0.65" transform="rotate(7 171.34 41.69)"/><ellipse cx="182.09" cy="38.05" rx="1.46" ry="0.93" fill="#a57ab8" opacity="0.46" transform="rotate(141 182.09 38.05)"/><ellipse cx="184.28" cy="60.18" rx="0.66" ry="0.62" fill="#a57ab8" opacity="0.67" transform="rotate(75 184.28 60.18)"/><ellipse cx="186.92" cy="28.88" rx="1.53" ry="1.29" fill="#dccfe2" opacity="0.79" transform="rotate(111 186.92 28.88)"/><ellipse cx="153.75" cy="30.85" rx="1.01" ry="0.74" fill="#9a6aae" opacity="0.58" transform="rotate(83 153.75 30.85)"/><ellipse cx="162.25" cy="28.84" rx="1.35" ry="1.18" fill="#b890c4" opacity="0.57" transform="rotate(115 162.25 28.84)"/><ellipse cx="187.05" cy="55.3" rx="1.48" ry="1.13" fill="#9a6aae" opacity="0.55" transform="rotate(147 187.05 55.3)"/><ellipse cx="168.62" cy="34.06" rx="1.56" ry="1.24" fill="#b890c4" opacity="0.56" transform="rotate(93 168.62 34.06)"/><ellipse cx="183.33" cy="41.81" rx="0.99" ry="0.79" fill="#e8e0ec" opacity="0.65" transform="rotate(78 183.33 41.81)"/><ellipse cx="175.32" cy="37.62" rx="1.74" ry="1.66" fill="#a57ab8" opacity="0.5" transform="rotate(52 175.32 37.62)"/><path d="M138.9,28.6 L152.9,28.6 L150.9,31.6 L146.9,34.6 L142.9,36.6 L138.9,37.6 Z" fill="#ddd0e2" opacity="0.9"/><ellipse cx="139.98" cy="30.52" rx="0.87" ry="0.84" fill="#f2eef4" opacity="0.51" transform="rotate(9 139.98 30.52)"/><ellipse cx="140.3" cy="33.18" rx="1.36" ry="1.12" fill="#f2eef4" opacity="0.65" transform="rotate(0 140.3 33.18)"/><ellipse cx="146.25" cy="32.97" rx="1.3" ry="0.91" fill="#f2eef4" opacity="0.88" transform="rotate(51 146.25 32.97)"/><ellipse cx="145.15" cy="31.61" rx="0.63" ry="0.52" fill="#c8a8d4" opacity="0.56" transform="rotate(5 145.15 31.61)"/><ellipse cx="146.68" cy="30.64" rx="1.02" ry="0.92" fill="#f2eef4" opacity="0.57" transform="rotate(76 146.68 30.64)"/><ellipse cx="146.86" cy="33.78" rx="1.29" ry="1.09" fill="#b088c0" opacity="0.62" transform="rotate(20 146.86 33.78)"/><ellipse cx="142.32" cy="32.21" rx="1.49" ry="1.17" fill="#b088c0" opacity="0.82" transform="rotate(2 142.32 32.21)"/><ellipse cx="148.73" cy="29.42" rx="0.66" ry="0.57" fill="#b088c0" opacity="0.72" transform="rotate(37 148.73 29.42)"/><ellipse cx="144.28" cy="30.34" rx="0.63" ry="0.4" fill="#c8a8d4" opacity="0.78" transform="rotate(92 144.28 30.34)"/><ellipse cx="146.25" cy="33.18" rx="0.8" ry="0.62" fill="#c8a8d4" opacity="0.65" transform="rotate(130 146.25 33.18)"/><ellipse cx="140.7" cy="34.76" rx="0.92" ry="0.7" fill="#c8a8d4" opacity="0.6" transform="rotate(0 140.7 34.76)"/><ellipse cx="145.89" cy="29.57" rx="0.6" ry="0.57" fill="#b088c0" opacity="0.81" transform="rotate(80 145.89 29.57)"/><ellipse cx="149.79" cy="32.35" rx="0.8" ry="0.62" fill="#f2eef4" opacity="0.67" transform="rotate(93 149.79 32.35)"/><ellipse cx="140.72" cy="34.83" rx="0.84" ry="0.74" fill="#f2eef4" opacity="0.65" transform="rotate(8 140.72 34.83)"/><ellipse cx="151.27" cy="29.03" rx="1.14" ry="0.8" fill="#c8a8d4" opacity="0.81" transform="rotate(96 151.27 29.03)"/><ellipse cx="141.99" cy="32.2" rx="0.77" ry="0.67" fill="#b088c0" opacity="0.59" transform="rotate(113 141.99 32.2)"/><ellipse cx="139.71" cy="34.73" rx="0.62" ry="0.5" fill="#f2eef4" opacity="0.51" transform="rotate(17 139.71 34.73)"/><ellipse cx="140.71" cy="29.36" rx="1.39" ry="1.13" fill="#c8a8d4" opacity="0.85" transform="rotate(163 140.71 29.36)"/><path d="M150.5,66 L150.9,58.6 L150.4,53.6 L151.7,46.6 L152.4,40.6 L153.4,35.3 L154.9,33.8 L157.4,34.4 L158.9,33.4 L161.9,33.8 L163.9,36.1 L165.9,37.6 L167.9,40.6 L169.9,43.1 L171.9,45.6 L173.9,49.1 L175.9,50.6 L175.4,53.6 L176.9,56.6 L177.4,60.6 L176.9,66 Z" fill="#8a3a9c"/><ellipse cx="165.8" cy="54.01" rx="1.76" ry="1.28" fill="#d08ad0" opacity="0.85" transform="rotate(136 165.8 54.01)"/><ellipse cx="168" cy="53.52" rx="1.35" ry="1.34" fill="#7a2a90" opacity="0.69" transform="rotate(72 168 53.52)"/><ellipse cx="158.53" cy="43.48" rx="1.34" ry="0.87" fill="#7a2a90" opacity="0.84" transform="rotate(173 158.53 43.48)"/><ellipse cx="161.91" cy="61" rx="1.91" ry="1.59" fill="#d08ad0" opacity="0.6" transform="rotate(14 161.91 61)"/><ellipse cx="159.02" cy="62.34" rx="1.99" ry="1.99" fill="#6a2080" opacity="0.8" transform="rotate(31 159.02 62.34)"/><ellipse cx="168.04" cy="58.49" rx="1.37" ry="1.02" fill="#b058bc" opacity="0.71" transform="rotate(77 168.04 58.49)"/><ellipse cx="165.39" cy="46.08" rx="1.59" ry="1.52" fill="#b058bc" opacity="0.85" transform="rotate(174 165.39 46.08)"/><ellipse cx="165.51" cy="37.44" rx="0.89" ry="0.6" fill="#b058bc" opacity="0.5" transform="rotate(104 165.51 37.44)"/><ellipse cx="157.84" cy="40.01" rx="0.95" ry="0.83" fill="#c070c8" opacity="0.74" transform="rotate(91 157.84 40.01)"/><ellipse cx="166.32" cy="48.21" rx="1.82" ry="1.47" fill="#6a2080" opacity="0.69" transform="rotate(97 166.32 48.21)"/><ellipse cx="170.86" cy="45.19" rx="1.57" ry="1.12" fill="#7a2a90" opacity="0.75" transform="rotate(80 170.86 45.19)"/><ellipse cx="173.96" cy="60.91" rx="1.82" ry="1.76" fill="#d08ad0" opacity="0.74" transform="rotate(8 173.96 60.91)"/><ellipse cx="169.05" cy="62.27" rx="1.91" ry="1.4" fill="#b058bc" opacity="0.67" transform="rotate(129 169.05 62.27)"/><ellipse cx="161.37" cy="48.8" rx="1.51" ry="1.37" fill="#c070c8" opacity="0.51" transform="rotate(101 161.37 48.8)"/><ellipse cx="158.98" cy="64.6" rx="0.92" ry="0.9" fill="#d08ad0" opacity="0.63" transform="rotate(73 158.98 64.6)"/><ellipse cx="169.95" cy="44.93" rx="1.26" ry="1.22" fill="#b058bc" opacity="0.87" transform="rotate(94 169.95 44.93)"/><ellipse cx="170.66" cy="52.52" rx="1.36" ry="1.29" fill="#d08ad0" opacity="0.86" transform="rotate(3 170.66 52.52)"/><ellipse cx="156.55" cy="36.41" rx="1.05" ry="0.89" fill="#7a2a90" opacity="0.55" transform="rotate(48 156.55 36.41)"/><ellipse cx="155.77" cy="53.25" rx="0.78" ry="0.69" fill="#6a2080" opacity="0.73" transform="rotate(135 155.77 53.25)"/><ellipse cx="175.15" cy="59.93" rx="0.88" ry="0.56" fill="#6a2080" opacity="0.74" transform="rotate(53 175.15 59.93)"/><ellipse cx="153.44" cy="45.35" rx="1.74" ry="1.57" fill="#b058bc" opacity="0.89" transform="rotate(171 153.44 45.35)"/><ellipse cx="167.11" cy="44.05" rx="0.87" ry="0.65" fill="#b058bc" opacity="0.65" transform="rotate(115 167.11 44.05)"/><ellipse cx="157.72" cy="61.68" rx="1.39" ry="1.3" fill="#b058bc" opacity="0.54" transform="rotate(106 157.72 61.68)"/><ellipse cx="164.7" cy="37.88" rx="1.33" ry="1.06" fill="#b058bc" opacity="0.76" transform="rotate(60 164.7 37.88)"/><ellipse cx="154.43" cy="39.47" rx="1.66" ry="1.18" fill="#7a2a90" opacity="0.83" transform="rotate(2 154.43 39.47)"/><ellipse cx="163.79" cy="52.93" rx="1.44" ry="1.42" fill="#b058bc" opacity="0.59" transform="rotate(10 163.79 52.93)"/><ellipse cx="158.12" cy="46.24" rx="0.74" ry="0.48" fill="#5e1c78" opacity="0.76" transform="rotate(98 158.12 46.24)"/><ellipse cx="159.35" cy="59.81" rx="0.75" ry="0.54" fill="#5e1c78" opacity="0.71" transform="rotate(98 159.35 59.81)"/><ellipse cx="167.04" cy="57.91" rx="1.8" ry="1.46" fill="#5e1c78" opacity="0.85" transform="rotate(110 167.04 57.91)"/><ellipse cx="173.55" cy="56.49" rx="1.07" ry="0.82" fill="#b058bc" opacity="0.75" transform="rotate(60 173.55 56.49)"/><ellipse cx="166.26" cy="56.44" rx="1.19" ry="0.95" fill="#d08ad0" opacity="0.66" transform="rotate(25 166.26 56.44)"/><ellipse cx="160.36" cy="47.77" rx="1.06" ry="0.99" fill="#6a2080" opacity="0.57" transform="rotate(98 160.36 47.77)"/><ellipse cx="159.3" cy="63.11" rx="1.78" ry="1.2" fill="#5e1c78" opacity="0.54" transform="rotate(34 159.3 63.11)"/><ellipse cx="154.37" cy="63.28" rx="1.35" ry="1.25" fill="#c070c8" opacity="0.9" transform="rotate(144 154.37 63.28)"/><ellipse cx="164.74" cy="45.87" rx="1.46" ry="1.35" fill="#c070c8" opacity="0.7" transform="rotate(129 164.74 45.87)"/><ellipse cx="166.5" cy="63.38" rx="1.58" ry="1.23" fill="#6a2080" opacity="0.62" transform="rotate(123 166.5 63.38)"/><ellipse cx="158.59" cy="60.36" rx="1.91" ry="1.82" fill="#d08ad0" opacity="0.58" transform="rotate(115 158.59 60.36)"/><ellipse cx="151.46" cy="64.75" rx="1.03" ry="0.81" fill="#7a2a90" opacity="0.87" transform="rotate(89 151.46 64.75)"/><ellipse cx="162.05" cy="41.3" rx="1.64" ry="1.42" fill="#d08ad0" opacity="0.8" transform="rotate(151 162.05 41.3)"/><ellipse cx="159.27" cy="54.59" rx="1.16" ry="0.85" fill="#6a2080" opacity="0.57" transform="rotate(131 159.27 54.59)"/><ellipse cx="161.68" cy="43.72" rx="1.87" ry="1.48" fill="#7a2a90" opacity="0.77" transform="rotate(65 161.68 43.72)"/><ellipse cx="159.87" cy="64.74" rx="1.47" ry="1.22" fill="#c070c8" opacity="0.8" transform="rotate(171 159.87 64.74)"/><ellipse cx="152.82" cy="48.03" rx="1.09" ry="0.82" fill="#7a2a90" opacity="0.63" transform="rotate(45 152.82 48.03)"/><ellipse cx="160.87" cy="38.13" rx="1.1" ry="0.98" fill="#c070c8" opacity="0.82" transform="rotate(95 160.87 38.13)"/><ellipse cx="159.88" cy="57.85" rx="1.07" ry="0.94" fill="#6a2080" opacity="0.62" transform="rotate(151 159.88 57.85)"/><ellipse cx="170.16" cy="61.3" rx="0.94" ry="0.64" fill="#c070c8" opacity="0.76" transform="rotate(105 170.16 61.3)"/><ellipse cx="156.86" cy="64.87" rx="1.83" ry="1.55" fill="#c070c8" opacity="0.71" transform="rotate(51 156.86 64.87)"/><ellipse cx="168.69" cy="49.37" rx="0.86" ry="0.74" fill="#7a2a90" opacity="0.58" transform="rotate(86 168.69 49.37)"/><ellipse cx="165.23" cy="42.46" rx="1.5" ry="1.2" fill="#d08ad0" opacity="0.64" transform="rotate(70 165.23 42.46)"/><ellipse cx="155.09" cy="55.08" rx="0.81" ry="0.67" fill="#d08ad0" opacity="0.51" transform="rotate(43 155.09 55.08)"/><ellipse cx="171.06" cy="51.32" rx="1.22" ry="1.05" fill="#d08ad0" opacity="0.69" transform="rotate(51 171.06 51.32)"/><ellipse cx="169.68" cy="57.7" rx="1.92" ry="1.65" fill="#7a2a90" opacity="0.8" transform="rotate(97 169.68 57.7)"/><ellipse cx="151.24" cy="51.22" rx="0.73" ry="0.58" fill="#6a2080" opacity="0.86" transform="rotate(38 151.24 51.22)"/><ellipse cx="169.1" cy="49.64" rx="1.08" ry="0.93" fill="#b058bc" opacity="0.8" transform="rotate(132 169.1 49.64)"/><ellipse cx="170.84" cy="63.05" rx="0.97" ry="0.66" fill="#6a2080" opacity="0.63" transform="rotate(63 170.84 63.05)"/><ellipse cx="153.13" cy="40.76" rx="1.22" ry="0.97" fill="#6a2080" opacity="0.78" transform="rotate(92 153.13 40.76)"/><ellipse cx="157.44" cy="44.41" rx="1.36" ry="0.88" fill="#b058bc" opacity="0.56" transform="rotate(70 157.44 44.41)"/><ellipse cx="155.71" cy="41.34" rx="1.99" ry="1.73" fill="#c070c8" opacity="0.55" transform="rotate(139 155.71 41.34)"/><ellipse cx="169.7" cy="60.03" rx="1.43" ry="1.22" fill="#6a2080" opacity="0.51" transform="rotate(140 169.7 60.03)"/><ellipse cx="160.99" cy="41.75" rx="1.17" ry="1.12" fill="#5e1c78" opacity="0.7" transform="rotate(133 160.99 41.75)"/><ellipse cx="159.44" cy="38.92" rx="0.73" ry="0.71" fill="#7a2a90" opacity="0.6" transform="rotate(135 159.44 38.92)"/><ellipse cx="173.43" cy="51.92" rx="1.26" ry="1.15" fill="#c070c8" opacity="0.66" transform="rotate(126 173.43 51.92)"/><ellipse cx="173.42" cy="50.58" rx="1.26" ry="0.86" fill="#b058bc" opacity="0.83" transform="rotate(44 173.42 50.58)"/><ellipse cx="160.6" cy="53.57" rx="0.86" ry="0.63" fill="#b058bc" opacity="0.81" transform="rotate(47 160.6 53.57)"/><ellipse cx="170.74" cy="62.94" rx="1.47" ry="1.14" fill="#7a2a90" opacity="0.88" transform="rotate(57 170.74 62.94)"/><ellipse cx="164.63" cy="50.26" rx="1.68" ry="1.39" fill="#d08ad0" opacity="0.71" transform="rotate(130 164.63 50.26)"/><ellipse cx="172.59" cy="54.9" rx="1.68" ry="1.6" fill="#7a2a90" opacity="0.83" transform="rotate(41 172.59 54.9)"/><ellipse cx="166.37" cy="44.65" rx="1.5" ry="1.29" fill="#b058bc" opacity="0.5" transform="rotate(1 166.37 44.65)"/><ellipse cx="176.76" cy="63.66" rx="1.45" ry="0.98" fill="#b058bc" opacity="0.53" transform="rotate(52 176.76 63.66)"/><ellipse cx="167.12" cy="58.03" rx="1.9" ry="1.42" fill="#b058bc" opacity="0.86" transform="rotate(69 167.12 58.03)"/><ellipse cx="169.68" cy="48" rx="1.83" ry="1.62" fill="#6a2080" opacity="0.81" transform="rotate(5 169.68 48)"/><ellipse cx="157.36" cy="65.67" rx="1.71" ry="1.16" fill="#b058bc" opacity="0.85" transform="rotate(122 157.36 65.67)"/><ellipse cx="152.57" cy="40.07" rx="1.84" ry="1.23" fill="#5e1c78" opacity="0.53" transform="rotate(122 152.57 40.07)"/><ellipse cx="159.31" cy="57.74" rx="0.76" ry="0.52" fill="#7a2a90" opacity="0.9" transform="rotate(15 159.31 57.74)"/><ellipse cx="150.44" cy="53.55" rx="0.88" ry="0.83" fill="#7a2a90" opacity="0.78" transform="rotate(100 150.44 53.55)"/><ellipse cx="174.94" cy="63.86" rx="0.92" ry="0.6" fill="#7a2a90" opacity="0.69" transform="rotate(119 174.94 63.86)"/><ellipse cx="162.34" cy="46.92" rx="1.65" ry="1.26" fill="#c070c8" opacity="0.85" transform="rotate(172 162.34 46.92)"/><ellipse cx="170.3" cy="57.35" rx="0.87" ry="0.76" fill="#5e1c78" opacity="0.86" transform="rotate(95 170.3 57.35)"/><ellipse cx="158.02" cy="50.23" rx="1.88" ry="1.32" fill="#5e1c78" opacity="0.64" transform="rotate(167 158.02 50.23)"/><ellipse cx="159.41" cy="65.44" rx="1.22" ry="1.04" fill="#6a2080" opacity="0.53" transform="rotate(86 159.41 65.44)"/><ellipse cx="153.07" cy="38.39" rx="1.23" ry="1.05" fill="#c070c8" opacity="0.61" transform="rotate(88 153.07 38.39)"/><ellipse cx="155.69" cy="34.98" rx="1.18" ry="1.14" fill="#b058bc" opacity="0.53" transform="rotate(177 155.69 34.98)"/><ellipse cx="161.2" cy="45.73" rx="1.24" ry="0.94" fill="#6a2080" opacity="0.62" transform="rotate(169 161.2 45.73)"/><ellipse cx="161.1" cy="58.36" rx="0.72" ry="0.55" fill="#d08ad0" opacity="0.85" transform="rotate(73 161.1 58.36)"/><ellipse cx="170.35" cy="58.63" rx="1.19" ry="0.76" fill="#5e1c78" opacity="0.75" transform="rotate(124 170.35 58.63)"/><ellipse cx="175.81" cy="64.55" rx="1.16" ry="1.07" fill="#d08ad0" opacity="0.67" transform="rotate(85 175.81 64.55)"/><ellipse cx="160.19" cy="49.66" rx="1.91" ry="1.33" fill="#d08ad0" opacity="0.74" transform="rotate(57 160.19 49.66)"/><ellipse cx="161.34" cy="42.64" rx="1.06" ry="0.81" fill="#c070c8" opacity="0.53" transform="rotate(62 161.34 42.64)"/><ellipse cx="152.89" cy="64.48" rx="0.86" ry="0.83" fill="#7a2a90" opacity="0.69" transform="rotate(143 152.89 64.48)"/><ellipse cx="155.81" cy="54.03" rx="1.01" ry="0.94" fill="#b058bc" opacity="0.53" transform="rotate(62 155.81 54.03)"/><path d="M138.9,40.6 L140.9,40.1 L143.4,41.6 L143.9,46.6 L143.7,50.6 L142.4,55.6 L142.9,60.6 L143.4,66 L138.9,66 Z" fill="#8e3ea0"/><ellipse cx="141.54" cy="55.27" rx="1.27" ry="1.23" fill="#b060c0" opacity="0.65" transform="rotate(16 141.54 55.27)"/><ellipse cx="141.02" cy="48.03" rx="0.68" ry="0.55" fill="#6a2080" opacity="0.54" transform="rotate(88 141.02 48.03)"/><ellipse cx="141.95" cy="60.21" rx="1.2" ry="0.79" fill="#6a2080" opacity="0.65" transform="rotate(141 141.95 60.21)"/><ellipse cx="142.42" cy="41.65" rx="0.91" ry="0.63" fill="#c070c8" opacity="0.62" transform="rotate(97 142.42 41.65)"/><ellipse cx="140.47" cy="45.44" rx="1.03" ry="0.88" fill="#c070c8" opacity="0.79" transform="rotate(139 140.47 45.44)"/><ellipse cx="141.02" cy="46.53" rx="1.25" ry="1.06" fill="#c070c8" opacity="0.53" transform="rotate(113 141.02 46.53)"/><ellipse cx="140.3" cy="43.13" rx="0.83" ry="0.8" fill="#6a2080" opacity="0.66" transform="rotate(87 140.3 43.13)"/><ellipse cx="141.16" cy="63.6" rx="1.02" ry="0.95" fill="#b060c0" opacity="0.67" transform="rotate(118 141.16 63.6)"/><ellipse cx="140.71" cy="51.6" rx="0.71" ry="0.49" fill="#b060c0" opacity="0.53" transform="rotate(76 140.71 51.6)"/><ellipse cx="141.49" cy="55.24" rx="0.84" ry="0.82" fill="#b060c0" opacity="0.88" transform="rotate(79 141.49 55.24)"/><ellipse cx="142.71" cy="63.88" rx="1.18" ry="0.89" fill="#c070c8" opacity="0.74" transform="rotate(116 142.71 63.88)"/><ellipse cx="139.23" cy="59.11" rx="0.87" ry="0.65" fill="#6a2080" opacity="0.8" transform="rotate(87 139.23 59.11)"/><ellipse cx="141.31" cy="57.25" rx="0.6" ry="0.54" fill="#c070c8" opacity="0.6" transform="rotate(136 141.31 57.25)"/><ellipse cx="142.84" cy="44.27" rx="0.69" ry="0.5" fill="#6a2080" opacity="0.84" transform="rotate(140 142.84 44.27)"/><path d="M142.7,41.6 L144.9,40.6 L146.9,39.1 L147.9,37.6 L149.9,34.6 L152.4,32.1 L153.7,33.1 L151.7,37.6 L150.9,42.6 L150.1,48.6 L150.1,56.6 L150.3,66 L145.6,66 L145.5,58.6 L145.1,52.6 L144.4,47.6 L143.4,43.6 Z" fill="#f2f0f4"/><ellipse cx="148.74" cy="57.54" rx="1.02" ry="0.97" fill="#ffffff" opacity="0.67" transform="rotate(64 148.74 57.54)"/><ellipse cx="148.93" cy="57.44" rx="1.03" ry="1" fill="#ffffff" opacity="0.76" transform="rotate(149 148.93 57.44)"/><ellipse cx="150.74" cy="43.66" rx="0.85" ry="0.54" fill="#ffffff" opacity="0.53" transform="rotate(87 150.74 43.66)"/><ellipse cx="152.01" cy="34.92" rx="0.61" ry="0.4" fill="#dcd0e4" opacity="0.72" transform="rotate(112 152.01 34.92)"/><ellipse cx="147.04" cy="45.28" rx="0.69" ry="0.58" fill="#ffffff" opacity="0.7" transform="rotate(11 147.04 45.28)"/><ellipse cx="150.08" cy="50.69" rx="0.57" ry="0.44" fill="#dcd0e4" opacity="0.68" transform="rotate(174 150.08 50.69)"/><ellipse cx="150.65" cy="40.46" rx="0.91" ry="0.62" fill="#dcd0e4" opacity="0.54" transform="rotate(179 150.65 40.46)"/><ellipse cx="150.98" cy="42.01" rx="0.81" ry="0.63" fill="#dcd0e4" opacity="0.78" transform="rotate(133 150.98 42.01)"/><ellipse cx="150.8" cy="41.45" rx="0.85" ry="0.64" fill="#ffffff" opacity="0.62" transform="rotate(174 150.8 41.45)"/><ellipse cx="146.56" cy="47.68" rx="0.98" ry="0.91" fill="#dcd0e4" opacity="0.68" transform="rotate(156 146.56 47.68)"/><ellipse cx="174.4" cy="52.1" rx="1.3" ry="0.9" fill="#f2eff4"/><ellipse cx="180.4" cy="51.1" rx="2.2" ry="2.2" fill="#d8a0cc" opacity="0.8"/>
<rect x="138.9" y="28.6" width="48.3" height="37.4" filter="url(#nz)" opacity="0.35"/>
</g>
<rect x="139.45" y="29.15" width="47.2" height="36.3" fill="none" stroke="#4a4a4a" stroke-width="1.1"/>
<g clip-path="url(#c4)">
<rect x="30.9" y="68.6" width="48.3" height="37.4" fill="#ffffff"/><path d="M30.9,80.1 L34.9,79.4 L38.9,79.2 L40.9,76.6 L42.9,75.2 L46.9,74.8 L49.9,75.6 L51.3,78.1 L54.9,78.8 L58.9,79.4 L62.9,78.4 L66.9,79 L70.9,79.6 L74.9,80.2 L79.2,79.4 L79.2,101.6 L30.9,101.6 Z" fill="#f6d0ee"/><path d="M30.9,80.1 L34.9,79.4 L38.9,79.2 L40.9,76.6 L42.9,75.2 L46.9,74.8 L49.9,75.6 L51.3,78.1 L54.9,78.8 L58.9,79.4 L62.9,78.4 L66.9,79 L70.9,79.6 L74.9,80.2 L79.2,79.4 L79.2,91.1 L60.9,91.6 L30.9,91.1 Z" fill="#eeaae2"/><path d="M30.9,80.1 L34.9,79.4 L38.9,79.2 L40.9,76.6 L42.9,75.2 L46.9,74.8 L49.9,75.6 L51.3,78.1 L54.9,78.8 L58.9,79.4 L62.9,78.4 L66.9,79 L70.9,79.6 L74.9,80.2 L79.2,79.4 L79.2,81 L70.9,81.4 L62.9,80.4 L54.9,80.6 L51.3,79.9 L49.9,77.4 L46.9,76.4 L42.9,76.8 L40.9,78.9 L38.9,81 L30.9,81.4 Z" fill="#d468ca"/><path d="M42.9,77 L46.9,76.6 L48.9,78.1 L47.9,79.6 L45.4,78.6 L43.9,79.6 Z" fill="#ffffff" opacity="0.8"/><ellipse cx="42.66" cy="86.12" rx="1.03" ry="0.92" fill="#f6d0ee" opacity="0.73" transform="rotate(65 42.66 86.12)"/><ellipse cx="75.64" cy="85.18" rx="2.16" ry="1.81" fill="#d070c8" opacity="0.63" transform="rotate(92 75.64 85.18)"/><ellipse cx="49.58" cy="84.1" rx="1.78" ry="0.72" fill="#e088d6" opacity="0.41" transform="rotate(66 49.58 84.1)"/><ellipse cx="32.47" cy="87.68" rx="2.12" ry="1.29" fill="#d070c8" opacity="0.55" transform="rotate(166 32.47 87.68)"/><ellipse cx="40.24" cy="88.44" rx="1.41" ry="1.28" fill="#f8e0f4" opacity="0.41" transform="rotate(15 40.24 88.44)"/><ellipse cx="78.53" cy="89.02" rx="1.96" ry="1.74" fill="#e088d6" opacity="0.47" transform="rotate(118 78.53 89.02)"/><ellipse cx="75.91" cy="87.75" rx="2.11" ry="1.99" fill="#d070c8" opacity="0.44" transform="rotate(140 75.91 87.75)"/><ellipse cx="68.47" cy="86.9" rx="2.19" ry="1.52" fill="#f8e0f4" opacity="0.66" transform="rotate(111 68.47 86.9)"/><ellipse cx="70.98" cy="88.67" rx="2.2" ry="2.11" fill="#e088d6" opacity="0.61" transform="rotate(78 70.98 88.67)"/><ellipse cx="75.59" cy="89.07" rx="1.97" ry="0.82" fill="#f8e0f4" opacity="0.61" transform="rotate(149 75.59 89.07)"/><ellipse cx="72.59" cy="85.28" rx="2.05" ry="1.16" fill="#f8e0f4" opacity="0.63" transform="rotate(54 72.59 85.28)"/><ellipse cx="70.06" cy="86.46" rx="1.25" ry="0.73" fill="#f8e0f4" opacity="0.79" transform="rotate(141 70.06 86.46)"/><ellipse cx="47.92" cy="88.03" rx="1.15" ry="1" fill="#f8e0f4" opacity="0.75" transform="rotate(45 47.92 88.03)"/><ellipse cx="36.33" cy="85.78" rx="2.14" ry="0.87" fill="#f6d0ee" opacity="0.67" transform="rotate(19 36.33 85.78)"/><ellipse cx="57.82" cy="86.11" rx="2.14" ry="1.22" fill="#f8e0f4" opacity="0.69" transform="rotate(122 57.82 86.11)"/><ellipse cx="49.32" cy="87.36" rx="1.76" ry="0.85" fill="#f8e0f4" opacity="0.56" transform="rotate(163 49.32 87.36)"/><ellipse cx="49.54" cy="84.48" rx="1.6" ry="1.27" fill="#d070c8" opacity="0.62" transform="rotate(104 49.54 84.48)"/><ellipse cx="55.59" cy="86.93" rx="1.47" ry="0.7" fill="#f6d0ee" opacity="0.56" transform="rotate(55 55.59 86.93)"/><ellipse cx="69.92" cy="83.95" rx="1.35" ry="0.99" fill="#e088d6" opacity="0.61" transform="rotate(8 69.92 83.95)"/><ellipse cx="75.85" cy="88.4" rx="0.8" ry="0.78" fill="#e088d6" opacity="0.64" transform="rotate(136 75.85 88.4)"/><ellipse cx="73.38" cy="86.57" rx="1.29" ry="1.22" fill="#e088d6" opacity="0.7" transform="rotate(128 73.38 86.57)"/><ellipse cx="59.4" cy="81.62" rx="1.73" ry="1.15" fill="#e088d6" opacity="0.75" transform="rotate(164 59.4 81.62)"/><ellipse cx="65.89" cy="81.69" rx="1.54" ry="1.29" fill="#f6d0ee" opacity="0.8" transform="rotate(148 65.89 81.69)"/><ellipse cx="53.96" cy="82.81" rx="1.95" ry="1.41" fill="#f8e0f4" opacity="0.48" transform="rotate(13 53.96 82.81)"/><ellipse cx="71.77" cy="85.73" rx="0.91" ry="0.9" fill="#e088d6" opacity="0.52" transform="rotate(19 71.77 85.73)"/><ellipse cx="58.2" cy="89.3" rx="1.72" ry="1.31" fill="#f6d0ee" opacity="0.79" transform="rotate(112 58.2 89.3)"/><ellipse cx="48.11" cy="88.75" rx="2.13" ry="1.47" fill="#e088d6" opacity="0.67" transform="rotate(123 48.11 88.75)"/><ellipse cx="77.63" cy="83.47" rx="1.93" ry="0.99" fill="#f6d0ee" opacity="0.44" transform="rotate(143 77.63 83.47)"/><ellipse cx="35.33" cy="85.85" rx="1.93" ry="1.38" fill="#e088d6" opacity="0.48" transform="rotate(84 35.33 85.85)"/><ellipse cx="71.05" cy="84.3" rx="0.92" ry="0.66" fill="#d070c8" opacity="0.44" transform="rotate(2 71.05 84.3)"/><ellipse cx="39.86" cy="85.87" rx="1.89" ry="0.85" fill="#f8e0f4" opacity="0.52" transform="rotate(162 39.86 85.87)"/><ellipse cx="55.24" cy="85.3" rx="1.75" ry="0.77" fill="#f6d0ee" opacity="0.42" transform="rotate(77 55.24 85.3)"/><ellipse cx="54.41" cy="82.13" rx="1.55" ry="1.02" fill="#d070c8" opacity="0.76" transform="rotate(163 54.41 82.13)"/><ellipse cx="75.37" cy="85.92" rx="0.94" ry="0.7" fill="#f8e0f4" opacity="0.6" transform="rotate(74 75.37 85.92)"/><ellipse cx="71.4" cy="87.73" rx="0.84" ry="0.54" fill="#f6d0ee" opacity="0.47" transform="rotate(123 71.4 87.73)"/><ellipse cx="63.17" cy="88.37" rx="1.86" ry="1.58" fill="#d070c8" opacity="0.72" transform="rotate(128 63.17 88.37)"/><ellipse cx="74.1" cy="90.37" rx="0.84" ry="0.54" fill="#d070c8" opacity="0.69" transform="rotate(58 74.1 90.37)"/><ellipse cx="46.89" cy="84.35" rx="1.7" ry="1.27" fill="#e088d6" opacity="0.42" transform="rotate(25 46.89 84.35)"/><ellipse cx="67.88" cy="89.99" rx="1.03" ry="0.43" fill="#d070c8" opacity="0.78" transform="rotate(55 67.88 89.99)"/><ellipse cx="39.01" cy="87.84" rx="1.22" ry="0.75" fill="#f6d0ee" opacity="0.49" transform="rotate(23 39.01 87.84)"/><ellipse cx="60.9" cy="87.6" rx="6" ry="1.3" fill="#8c3a9e" opacity="0.85" transform="rotate(28 60.9 87.6)"/><ellipse cx="67.9" cy="89.1" rx="4" ry="1.1" fill="#8c3a9e" opacity="0.8" transform="rotate(30 67.9 89.1)"/><ellipse cx="50.9" cy="84.6" rx="3" ry="1" fill="#a050b0" opacity="0.6" transform="rotate(30 50.9 84.6)"/><ellipse cx="33.9" cy="87.1" rx="1.6" ry="1.6" fill="#9a3aa2" opacity="0.85"/><rect x="30.9" y="91.1" width="48.3" height="2.8" fill="#fbeaf8" opacity="0.9"/><rect x="30.9" y="93.9" width="48.3" height="7.8" fill="#e87cd8" opacity="0.85"/><ellipse cx="78.15" cy="94.32" rx="1.47" ry="1.02" fill="#dc5cc8" opacity="0.66" transform="rotate(35 78.15 94.32)"/><ellipse cx="38.59" cy="101.56" rx="1.1" ry="0.56" fill="#dc5cc8" opacity="0.68" transform="rotate(0 38.59 101.56)"/><ellipse cx="32.55" cy="96.88" rx="0.61" ry="0.27" fill="#fbe0f6" opacity="0.69" transform="rotate(160 32.55 96.88)"/><ellipse cx="44.15" cy="99.89" rx="1.1" ry="1.01" fill="#f0a8e2" opacity="0.88" transform="rotate(147 44.15 99.89)"/><ellipse cx="49.98" cy="100.77" rx="1.04" ry="0.5" fill="#f0a8e2" opacity="0.71" transform="rotate(135 49.98 100.77)"/><ellipse cx="64.88" cy="96.06" rx="0.99" ry="0.86" fill="#f0a8e2" opacity="0.82" transform="rotate(168 64.88 96.06)"/><ellipse cx="65.47" cy="98.51" rx="0.84" ry="0.44" fill="#f0a8e2" opacity="0.68" transform="rotate(43 65.47 98.51)"/><ellipse cx="65.83" cy="99.77" rx="0.7" ry="0.55" fill="#fbe0f6" opacity="0.62" transform="rotate(142 65.83 99.77)"/><ellipse cx="58.42" cy="94.46" rx="0.8" ry="0.66" fill="#fbe0f6" opacity="0.56" transform="rotate(59 58.42 94.46)"/><ellipse cx="70.5" cy="97.39" rx="1.74" ry="1.55" fill="#fbe0f6" opacity="0.71" transform="rotate(172 70.5 97.39)"/><ellipse cx="67.26" cy="100.83" rx="1.23" ry="0.99" fill="#ffffff" opacity="0.77" transform="rotate(37 67.26 100.83)"/><ellipse cx="32.94" cy="98.69" rx="0.6" ry="0.34" fill="#f0a8e2" opacity="0.52" transform="rotate(132 32.94 98.69)"/><ellipse cx="75.48" cy="94.72" rx="1.48" ry="0.93" fill="#ffffff" opacity="0.56" transform="rotate(117 75.48 94.72)"/><ellipse cx="78.52" cy="95.33" rx="0.78" ry="0.38" fill="#ffffff" opacity="0.78" transform="rotate(63 78.52 95.33)"/><ellipse cx="46.53" cy="95.5" rx="0.9" ry="0.81" fill="#ffffff" opacity="0.8" transform="rotate(66 46.53 95.5)"/><ellipse cx="33.89" cy="94.6" rx="1.42" ry="1.24" fill="#fbe0f6" opacity="0.72" transform="rotate(81 33.89 94.6)"/><ellipse cx="48.41" cy="96.73" rx="0.61" ry="0.49" fill="#dc5cc8" opacity="0.53" transform="rotate(57 48.41 96.73)"/><ellipse cx="70.39" cy="94.27" rx="1.5" ry="1.24" fill="#dc5cc8" opacity="0.6" transform="rotate(110 70.39 94.27)"/><ellipse cx="63.94" cy="98.18" rx="1.38" ry="1.03" fill="#f0a8e2" opacity="0.61" transform="rotate(167 63.94 98.18)"/><ellipse cx="36.39" cy="94.37" rx="1.43" ry="0.99" fill="#fbe0f6" opacity="0.89" transform="rotate(17 36.39 94.37)"/><ellipse cx="65.15" cy="95.9" rx="1.71" ry="1.63" fill="#dc5cc8" opacity="0.81" transform="rotate(67 65.15 95.9)"/><ellipse cx="71.54" cy="95.22" rx="0.62" ry="0.44" fill="#fbe0f6" opacity="0.55" transform="rotate(87 71.54 95.22)"/><ellipse cx="53.05" cy="95.67" rx="1.03" ry="0.5" fill="#ffffff" opacity="0.71" transform="rotate(129 53.05 95.67)"/><ellipse cx="68.47" cy="95.94" rx="1.24" ry="1" fill="#dc5cc8" opacity="0.9" transform="rotate(20 68.47 95.94)"/><ellipse cx="77.55" cy="94.86" rx="0.63" ry="0.47" fill="#fbe0f6" opacity="0.61" transform="rotate(62 77.55 94.86)"/><ellipse cx="77.85" cy="99.72" rx="0.85" ry="0.43" fill="#f0a8e2" opacity="0.67" transform="rotate(39 77.85 99.72)"/><ellipse cx="38.61" cy="97.17" rx="0.86" ry="0.78" fill="#f0a8e2" opacity="0.69" transform="rotate(112 38.61 97.17)"/><ellipse cx="67.87" cy="94.53" rx="1.17" ry="1.1" fill="#f0a8e2" opacity="0.88" transform="rotate(176 67.87 94.53)"/><ellipse cx="74.38" cy="100.09" rx="1.38" ry="0.64" fill="#ffffff" opacity="0.62" transform="rotate(78 74.38 100.09)"/><ellipse cx="64.59" cy="100.5" rx="0.74" ry="0.71" fill="#dc5cc8" opacity="0.87" transform="rotate(165 64.59 100.5)"/><ellipse cx="51.38" cy="95.11" rx="1.24" ry="1.16" fill="#dc5cc8" opacity="0.79" transform="rotate(0 51.38 95.11)"/><ellipse cx="65.34" cy="95.28" rx="1.73" ry="1.19" fill="#f0a8e2" opacity="0.57" transform="rotate(50 65.34 95.28)"/><ellipse cx="49.59" cy="100.07" rx="1.71" ry="1.16" fill="#dc5cc8" opacity="0.69" transform="rotate(31 49.59 100.07)"/><ellipse cx="69.29" cy="96.46" rx="1.11" ry="0.83" fill="#f0a8e2" opacity="0.62" transform="rotate(113 69.29 96.46)"/><ellipse cx="39.5" cy="95.11" rx="1.68" ry="0.98" fill="#f0a8e2" opacity="0.5" transform="rotate(22 39.5 95.11)"/><ellipse cx="36.87" cy="95.84" rx="0.85" ry="0.36" fill="#fbe0f6" opacity="0.88" transform="rotate(145 36.87 95.84)"/><ellipse cx="63.82" cy="95.35" rx="0.73" ry="0.62" fill="#ffffff" opacity="0.74" transform="rotate(157 63.82 95.35)"/><ellipse cx="33.26" cy="97.05" rx="1.79" ry="1.14" fill="#fbe0f6" opacity="0.88" transform="rotate(170 33.26 97.05)"/><ellipse cx="49.38" cy="97.85" rx="0.75" ry="0.65" fill="#dc5cc8" opacity="0.88" transform="rotate(173 49.38 97.85)"/><ellipse cx="72.09" cy="94.28" rx="0.86" ry="0.67" fill="#ffffff" opacity="0.52" transform="rotate(87 72.09 94.28)"/><ellipse cx="57.72" cy="94.46" rx="1.24" ry="0.68" fill="#dc5cc8" opacity="0.73" transform="rotate(97 57.72 94.46)"/><ellipse cx="71.3" cy="94" rx="0.7" ry="0.55" fill="#fbe0f6" opacity="0.75" transform="rotate(87 71.3 94)"/><ellipse cx="49.33" cy="97.87" rx="0.64" ry="0.32" fill="#f0a8e2" opacity="0.67" transform="rotate(99 49.33 97.87)"/><ellipse cx="56.14" cy="97.58" rx="0.79" ry="0.39" fill="#ffffff" opacity="0.66" transform="rotate(67 56.14 97.58)"/><ellipse cx="40.33" cy="98.61" rx="1.78" ry="1.11" fill="#dc5cc8" opacity="0.77" transform="rotate(116 40.33 98.61)"/><rect x="30.9" y="101.7" width="48.3" height="4.3" fill="#fdf4fb" opacity="0.95"/>
<rect x="30.9" y="68.6" width="48.3" height="37.4" filter="url(#nz)" opacity="0.55"/>
</g>
<rect x="31.45" y="69.15" width="47.2" height="36.3" fill="none" stroke="#4a4a4a" stroke-width="1.1"/>
<g clip-path="url(#c5)">
<rect x="84.9" y="68.6" width="48.3" height="37.4" fill="#c99cd0"/><path d="M104.8,82.6 L106.3,84.6 L108.2,85.1 L113.1,85.6 L116.6,82.1 L118,81.6 L116.6,84.6 L114.1,87 L108.2,87.5 L105.8,86.5 L104.8,84.6 Z" fill="#ffffff"/><ellipse cx="104.8" cy="88" rx="1" ry="1" fill="#ffffff"/><ellipse cx="91.1" cy="88" rx="0.8" ry="0.8" fill="#ffffff"/><ellipse cx="117.1" cy="99.3" rx="1.2" ry="0.8" fill="#ffffff" transform="rotate(-20 117.1 99.3)"/><ellipse cx="90.9" cy="103.6" rx="3" ry="1.4" fill="#efe4d8" opacity="0.95" transform="rotate(-15 90.9 103.6)"/>
<rect x="84.9" y="68.6" width="48.3" height="37.4" filter="url(#nz)" opacity="0.35"/>
<rect x="84.9" y="68.6" width="48.3" height="37.4" filter="url(#nzd)" opacity="0.35" clip-path="url(#d5)"/>
</g>
<rect x="85.45" y="69.15" width="47.2" height="36.3" fill="none" stroke="#4a4a4a" stroke-width="1.1"/>
<g clip-path="url(#c6)">
<rect x="138.9" y="68.6" width="48.3" height="37.4" fill="#d3c8df"/><ellipse cx="157.3" cy="77.23" rx="1.03" ry="1" fill="#e6e2ec" opacity="0.62" transform="rotate(98 157.3 77.23)"/><ellipse cx="180.05" cy="97.15" rx="0.81" ry="0.58" fill="#bca8cc" opacity="0.58" transform="rotate(39 180.05 97.15)"/><ellipse cx="186.56" cy="105.25" rx="1.25" ry="0.9" fill="#bca8cc" opacity="0.45" transform="rotate(150 186.56 105.25)"/><ellipse cx="140.49" cy="101.02" rx="1.98" ry="1.4" fill="#e6e2ec" opacity="0.69" transform="rotate(32 140.49 101.02)"/><ellipse cx="165.72" cy="69.29" rx="0.94" ry="0.64" fill="#c8b4d6" opacity="0.42" transform="rotate(81 165.72 69.29)"/><ellipse cx="149.78" cy="69.58" rx="1.61" ry="1.27" fill="#bca8cc" opacity="0.52" transform="rotate(37 149.78 69.58)"/><ellipse cx="144.05" cy="72.1" rx="0.83" ry="0.72" fill="#a890c0" opacity="0.49" transform="rotate(21 144.05 72.1)"/><ellipse cx="145.42" cy="85.74" rx="1.82" ry="1.43" fill="#e6e2ec" opacity="0.62" transform="rotate(3 145.42 85.74)"/><ellipse cx="170.54" cy="80.64" rx="0.99" ry="0.65" fill="#bca8cc" opacity="0.69" transform="rotate(174 170.54 80.64)"/><ellipse cx="181.14" cy="96.7" rx="0.95" ry="0.83" fill="#c8b4d6" opacity="0.76" transform="rotate(105 181.14 96.7)"/><ellipse cx="170.56" cy="96.64" rx="1.65" ry="1.29" fill="#bca8cc" opacity="0.78" transform="rotate(61 170.56 96.64)"/><ellipse cx="149.56" cy="82.18" rx="1.44" ry="1.29" fill="#a890c0" opacity="0.43" transform="rotate(171 149.56 82.18)"/><ellipse cx="152.23" cy="76.51" rx="1.76" ry="1.28" fill="#e6e2ec" opacity="0.72" transform="rotate(159 152.23 76.51)"/><ellipse cx="157.24" cy="101.7" rx="1.85" ry="1.67" fill="#c8b4d6" opacity="0.62" transform="rotate(54 157.24 101.7)"/><ellipse cx="140.4" cy="75.36" rx="1.73" ry="1.13" fill="#c8b4d6" opacity="0.62" transform="rotate(159 140.4 75.36)"/><ellipse cx="146.39" cy="80.91" rx="1.12" ry="0.98" fill="#bca8cc" opacity="0.73" transform="rotate(114 146.39 80.91)"/><ellipse cx="167.82" cy="95.27" rx="1.57" ry="1.28" fill="#e6e2ec" opacity="0.76" transform="rotate(90 167.82 95.27)"/><ellipse cx="140.34" cy="90.65" rx="2.12" ry="1.83" fill="#c8b4d6" opacity="0.56" transform="rotate(18 140.34 90.65)"/><ellipse cx="140.93" cy="93.53" rx="1.77" ry="1.25" fill="#a890c0" opacity="0.77" transform="rotate(78 140.93 93.53)"/><ellipse cx="152.61" cy="78.29" rx="1.33" ry="0.95" fill="#bca8cc" opacity="0.75" transform="rotate(71 152.61 78.29)"/><ellipse cx="168.93" cy="84.18" rx="1.36" ry="1.1" fill="#c8b4d6" opacity="0.44" transform="rotate(120 168.93 84.18)"/><ellipse cx="167.6" cy="77.32" rx="1.06" ry="0.85" fill="#bca8cc" opacity="0.5" transform="rotate(120 167.6 77.32)"/><ellipse cx="184.3" cy="99.49" rx="0.88" ry="0.82" fill="#bca8cc" opacity="0.7" transform="rotate(161 184.3 99.49)"/><ellipse cx="148.34" cy="98.63" rx="1.25" ry="0.95" fill="#c8b4d6" opacity="0.57" transform="rotate(4 148.34 98.63)"/><ellipse cx="149.61" cy="101.24" rx="1.52" ry="1.03" fill="#a890c0" opacity="0.41" transform="rotate(69 149.61 101.24)"/><ellipse cx="168.95" cy="89.43" rx="1.54" ry="1.1" fill="#c8b4d6" opacity="0.42" transform="rotate(83 168.95 89.43)"/><ellipse cx="167.22" cy="94.39" rx="1.49" ry="1.24" fill="#bca8cc" opacity="0.48" transform="rotate(46 167.22 94.39)"/><ellipse cx="152.26" cy="71.87" rx="1.72" ry="1.68" fill="#a890c0" opacity="0.41" transform="rotate(79 152.26 71.87)"/><ellipse cx="144.03" cy="83.14" rx="0.89" ry="0.84" fill="#e6e2ec" opacity="0.67" transform="rotate(95 144.03 83.14)"/><ellipse cx="163.63" cy="75.3" rx="0.9" ry="0.69" fill="#c8b4d6" opacity="0.75" transform="rotate(44 163.63 75.3)"/><ellipse cx="151.66" cy="102.8" rx="0.89" ry="0.56" fill="#e6e2ec" opacity="0.76" transform="rotate(80 151.66 102.8)"/><ellipse cx="154.52" cy="69.19" rx="0.87" ry="0.68" fill="#bca8cc" opacity="0.76" transform="rotate(38 154.52 69.19)"/><ellipse cx="185.45" cy="78.9" rx="1.99" ry="1.83" fill="#e6e2ec" opacity="0.79" transform="rotate(120 185.45 78.9)"/><ellipse cx="176.16" cy="97.48" rx="1.37" ry="1.19" fill="#e6e2ec" opacity="0.63" transform="rotate(41 176.16 97.48)"/><ellipse cx="182.56" cy="77.8" rx="1.94" ry="1.76" fill="#bca8cc" opacity="0.48" transform="rotate(170 182.56 77.8)"/><ellipse cx="154.43" cy="79.21" rx="2.1" ry="1.54" fill="#e6e2ec" opacity="0.44" transform="rotate(67 154.43 79.21)"/><ellipse cx="186.95" cy="80.02" rx="1.37" ry="1.13" fill="#bca8cc" opacity="0.55" transform="rotate(59 186.95 80.02)"/><ellipse cx="156.95" cy="98.08" rx="1.64" ry="1.43" fill="#a890c0" opacity="0.66" transform="rotate(9 156.95 98.08)"/><ellipse cx="178.84" cy="70.89" rx="1.66" ry="1.05" fill="#a890c0" opacity="0.57" transform="rotate(22 178.84 70.89)"/><ellipse cx="163.53" cy="89.59" rx="1.46" ry="1.35" fill="#bca8cc" opacity="0.79" transform="rotate(30 163.53 89.59)"/><ellipse cx="169.53" cy="85.7" rx="0.92" ry="0.88" fill="#bca8cc" opacity="0.73" transform="rotate(178 169.53 85.7)"/><ellipse cx="185.85" cy="97.39" rx="0.82" ry="0.81" fill="#e6e2ec" opacity="0.58" transform="rotate(110 185.85 97.39)"/><ellipse cx="157.64" cy="102.09" rx="1.01" ry="0.93" fill="#bca8cc" opacity="0.77" transform="rotate(137 157.64 102.09)"/><ellipse cx="158.45" cy="81.86" rx="1.08" ry="0.97" fill="#bca8cc" opacity="0.76" transform="rotate(133 158.45 81.86)"/><ellipse cx="172.5" cy="74.55" rx="1.77" ry="1.24" fill="#e6e2ec" opacity="0.72" transform="rotate(124 172.5 74.55)"/><ellipse cx="162.68" cy="71.9" rx="1.53" ry="1.05" fill="#bca8cc" opacity="0.44" transform="rotate(68 162.68 71.9)"/><ellipse cx="184.13" cy="80.79" rx="1.15" ry="1.09" fill="#c8b4d6" opacity="0.79" transform="rotate(37 184.13 80.79)"/><ellipse cx="147.17" cy="90.43" rx="1.9" ry="1.24" fill="#bca8cc" opacity="0.62" transform="rotate(28 147.17 90.43)"/><ellipse cx="176.66" cy="92.83" rx="0.93" ry="0.92" fill="#e6e2ec" opacity="0.5" transform="rotate(19 176.66 92.83)"/><ellipse cx="145.94" cy="79.78" rx="2.13" ry="1.93" fill="#c8b4d6" opacity="0.69" transform="rotate(61 145.94 79.78)"/><ellipse cx="165.1" cy="78.02" rx="1.11" ry="0.73" fill="#a890c0" opacity="0.6" transform="rotate(114 165.1 78.02)"/><ellipse cx="162.07" cy="81.56" rx="1.34" ry="1.22" fill="#c8b4d6" opacity="0.78" transform="rotate(5 162.07 81.56)"/><ellipse cx="160.49" cy="79.43" rx="1.47" ry="1.39" fill="#a890c0" opacity="0.73" transform="rotate(81 160.49 79.43)"/><ellipse cx="150.04" cy="81.55" rx="0.96" ry="0.7" fill="#e6e2ec" opacity="0.74" transform="rotate(85 150.04 81.55)"/><ellipse cx="149.22" cy="68.82" rx="1.69" ry="1.45" fill="#a890c0" opacity="0.7" transform="rotate(171 149.22 68.82)"/><ellipse cx="173.62" cy="84.51" rx="0.9" ry="0.8" fill="#a890c0" opacity="0.49" transform="rotate(25 173.62 84.51)"/><ellipse cx="168.5" cy="74.38" rx="1.7" ry="1.41" fill="#bca8cc" opacity="0.41" transform="rotate(112 168.5 74.38)"/><ellipse cx="167.59" cy="75.88" rx="2.14" ry="1.61" fill="#a890c0" opacity="0.49" transform="rotate(106 167.59 75.88)"/><ellipse cx="182.01" cy="79.45" rx="1.36" ry="1.07" fill="#e6e2ec" opacity="0.48" transform="rotate(88 182.01 79.45)"/><ellipse cx="147.85" cy="94.06" rx="1.68" ry="1.07" fill="#e6e2ec" opacity="0.63" transform="rotate(102 147.85 94.06)"/><ellipse cx="172.82" cy="101.04" rx="0.87" ry="0.74" fill="#a890c0" opacity="0.51" transform="rotate(42 172.82 101.04)"/><ellipse cx="171.3" cy="85.21" rx="1.43" ry="1.3" fill="#c8b4d6" opacity="0.72" transform="rotate(129 171.3 85.21)"/><ellipse cx="175.63" cy="71.98" rx="1.01" ry="0.65" fill="#e6e2ec" opacity="0.72" transform="rotate(169 175.63 71.98)"/><ellipse cx="171.74" cy="88.08" rx="1.63" ry="1.63" fill="#e6e2ec" opacity="0.73" transform="rotate(82 171.74 88.08)"/><ellipse cx="156.84" cy="77.1" rx="0.9" ry="0.75" fill="#bca8cc" opacity="0.4" transform="rotate(139 156.84 77.1)"/><ellipse cx="158.3" cy="98.91" rx="1.79" ry="1.43" fill="#bca8cc" opacity="0.61" transform="rotate(155 158.3 98.91)"/><ellipse cx="173.86" cy="92.46" rx="2.19" ry="1.77" fill="#a890c0" opacity="0.42" transform="rotate(161 173.86 92.46)"/><ellipse cx="143.96" cy="92.03" rx="0.98" ry="0.86" fill="#c8b4d6" opacity="0.67" transform="rotate(47 143.96 92.03)"/><ellipse cx="144.05" cy="97.24" rx="2.04" ry="1.58" fill="#c8b4d6" opacity="0.46" transform="rotate(23 144.05 97.24)"/><ellipse cx="147.46" cy="105.24" rx="0.85" ry="0.53" fill="#a890c0" opacity="0.53" transform="rotate(141 147.46 105.24)"/><path d="M145.6,77.6 L149.9,76.6 L152.4,80.6 L151.4,92.6 L149.9,101.6 L145.9,101.6 L144.9,90.6 Z" fill="#e9e6ee" opacity="0.9"/><path d="M171.9,73.6 L176.9,70.4 L185.8,70.6 L185.8,81.6 L180.9,84.1 L174.9,84.1 L171.9,78.6 Z" fill="#eae8ee" opacity="0.95"/><path d="M149.5,106 L150.4,100.6 L150.9,96.6 L151.9,92.6 L152.9,88.6 L153.9,84.6 L154.9,80.6 L156.4,76.6 L157.3,73.6 L158.9,71.6 L160.9,70.6 L163.9,70.4 L166.4,71.1 L167.9,72.6 L168.4,75.6 L168.9,78.6 L168.4,81.6 L169.9,84.6 L170.9,88.6 L171.9,92.6 L171.4,96.6 L171.1,101.6 L171.1,106 Z" fill="#8a50a6"/><ellipse cx="163.82" cy="71.29" rx="0.98" ry="0.69" fill="#f0e6f4" opacity="0.59" transform="rotate(139 163.82 71.29)"/><ellipse cx="160.82" cy="71.34" rx="0.9" ry="0.78" fill="#b080cc" opacity="0.72" transform="rotate(114 160.82 71.34)"/><ellipse cx="162.7" cy="99.22" rx="0.71" ry="0.66" fill="#f0e6f4" opacity="0.72" transform="rotate(71 162.7 99.22)"/><ellipse cx="152.98" cy="104.48" rx="1.04" ry="0.68" fill="#62208a" opacity="0.69" transform="rotate(88 152.98 104.48)"/><ellipse cx="163.02" cy="99.13" rx="1.43" ry="1.18" fill="#e0c8ec" opacity="0.58" transform="rotate(75 163.02 99.13)"/><ellipse cx="168.08" cy="92.42" rx="1.56" ry="1.31" fill="#f0e6f4" opacity="0.58" transform="rotate(169 168.08 92.42)"/><ellipse cx="163.74" cy="83.39" rx="1.07" ry="0.75" fill="#d0b0e0" opacity="0.83" transform="rotate(174 163.74 83.39)"/><ellipse cx="164.02" cy="92.09" rx="0.87" ry="0.78" fill="#6c2a90" opacity="0.73" transform="rotate(69 164.02 92.09)"/><ellipse cx="171.67" cy="93.18" rx="1.26" ry="1.11" fill="#62208a" opacity="0.64" transform="rotate(8 171.67 93.18)"/><ellipse cx="167.53" cy="84.68" rx="0.77" ry="0.74" fill="#b080cc" opacity="0.9" transform="rotate(80 167.53 84.68)"/><ellipse cx="154.26" cy="88.17" rx="1.58" ry="1.37" fill="#6c2a90" opacity="0.66" transform="rotate(63 154.26 88.17)"/><ellipse cx="166.19" cy="89.59" rx="1.45" ry="1.14" fill="#b080cc" opacity="0.71" transform="rotate(56 166.19 89.59)"/><ellipse cx="160.55" cy="97.31" rx="1.56" ry="1.07" fill="#6c2a90" opacity="0.87" transform="rotate(108 160.55 97.31)"/><ellipse cx="162.86" cy="84.1" rx="1.3" ry="1.04" fill="#d0b0e0" opacity="0.94" transform="rotate(2 162.86 84.1)"/><ellipse cx="164.74" cy="74.48" rx="1.58" ry="1.44" fill="#f0e6f4" opacity="0.69" transform="rotate(75 164.74 74.48)"/><ellipse cx="159.24" cy="86.55" rx="1.65" ry="1.58" fill="#d0b0e0" opacity="0.94" transform="rotate(45 159.24 86.55)"/><ellipse cx="160.87" cy="74.19" rx="1.33" ry="1.25" fill="#b080cc" opacity="0.79" transform="rotate(39 160.87 74.19)"/><ellipse cx="157.88" cy="76.15" rx="1.65" ry="1.61" fill="#62208a" opacity="0.79" transform="rotate(125 157.88 76.15)"/><ellipse cx="149.94" cy="103.48" rx="1.58" ry="1.48" fill="#d0b0e0" opacity="0.65" transform="rotate(61 149.94 103.48)"/><ellipse cx="169.17" cy="104.11" rx="0.79" ry="0.63" fill="#62208a" opacity="0.94" transform="rotate(136 169.17 104.11)"/><ellipse cx="166.65" cy="74.97" rx="1.18" ry="0.98" fill="#d0b0e0" opacity="0.76" transform="rotate(155 166.65 74.97)"/><ellipse cx="158.98" cy="77.94" rx="1.24" ry="1.11" fill="#6c2a90" opacity="0.84" transform="rotate(102 158.98 77.94)"/><ellipse cx="159.31" cy="88.83" rx="0.82" ry="0.58" fill="#d0b0e0" opacity="0.56" transform="rotate(141 159.31 88.83)"/><ellipse cx="154.63" cy="102.63" rx="1.56" ry="1.02" fill="#6c2a90" opacity="0.66" transform="rotate(124 154.63 102.63)"/><ellipse cx="170.46" cy="90.73" rx="1.17" ry="1.08" fill="#e0c8ec" opacity="0.63" transform="rotate(24 170.46 90.73)"/><ellipse cx="164.26" cy="83.01" rx="1.11" ry="1.05" fill="#62208a" opacity="0.82" transform="rotate(165 164.26 83.01)"/><ellipse cx="157.1" cy="101.08" rx="0.95" ry="0.66" fill="#e0c8ec" opacity="0.61" transform="rotate(46 157.1 101.08)"/><ellipse cx="155.74" cy="79.29" rx="1.62" ry="1.28" fill="#b080cc" opacity="0.59" transform="rotate(166 155.74 79.29)"/><ellipse cx="168.51" cy="76.32" rx="1.19" ry="0.84" fill="#e0c8ec" opacity="0.91" transform="rotate(42 168.51 76.32)"/><ellipse cx="157.99" cy="105.48" rx="0.97" ry="0.89" fill="#e0c8ec" opacity="0.66" transform="rotate(178 157.99 105.48)"/><ellipse cx="170.94" cy="105.84" rx="1.26" ry="1.12" fill="#6c2a90" opacity="0.63" transform="rotate(55 170.94 105.84)"/><ellipse cx="171.2" cy="91.02" rx="1.24" ry="1.12" fill="#62208a" opacity="0.57" transform="rotate(122 171.2 91.02)"/><ellipse cx="160.76" cy="100.76" rx="0.86" ry="0.84" fill="#62208a" opacity="0.89" transform="rotate(17 160.76 100.76)"/><ellipse cx="162.83" cy="94.44" rx="0.94" ry="0.63" fill="#b080cc" opacity="0.65" transform="rotate(152 162.83 94.44)"/><ellipse cx="164.23" cy="90.52" rx="1.02" ry="0.73" fill="#f0e6f4" opacity="0.84" transform="rotate(61 164.23 90.52)"/><ellipse cx="163.96" cy="86.68" rx="1.63" ry="1.59" fill="#62208a" opacity="0.73" transform="rotate(144 163.96 86.68)"/><ellipse cx="170.41" cy="101.76" rx="1.58" ry="1.21" fill="#6c2a90" opacity="0.73" transform="rotate(139 170.41 101.76)"/><ellipse cx="165.26" cy="92.18" rx="1.69" ry="1.47" fill="#62208a" opacity="0.82" transform="rotate(141 165.26 92.18)"/><ellipse cx="156.21" cy="94.02" rx="1.64" ry="1.11" fill="#62208a" opacity="0.91" transform="rotate(141 156.21 94.02)"/><ellipse cx="164.9" cy="100.76" rx="1.21" ry="0.87" fill="#62208a" opacity="0.59" transform="rotate(108 164.9 100.76)"/><ellipse cx="156.97" cy="75.06" rx="1.68" ry="1.15" fill="#e0c8ec" opacity="0.77" transform="rotate(109 156.97 75.06)"/><ellipse cx="162.06" cy="74.38" rx="1.65" ry="1.45" fill="#6c2a90" opacity="0.77" transform="rotate(94 162.06 74.38)"/><ellipse cx="162.55" cy="75.67" rx="0.83" ry="0.61" fill="#62208a" opacity="0.91" transform="rotate(53 162.55 75.67)"/><ellipse cx="164.78" cy="94.14" rx="1.05" ry="0.88" fill="#e0c8ec" opacity="0.94" transform="rotate(39 164.78 94.14)"/><ellipse cx="153.14" cy="98.88" rx="0.88" ry="0.68" fill="#6c2a90" opacity="0.84" transform="rotate(85 153.14 98.88)"/><ellipse cx="167.03" cy="85.06" rx="1.37" ry="1.23" fill="#6c2a90" opacity="0.66" transform="rotate(179 167.03 85.06)"/><ellipse cx="151.92" cy="101.45" rx="1.56" ry="1.1" fill="#e0c8ec" opacity="0.69" transform="rotate(58 151.92 101.45)"/><ellipse cx="154.49" cy="93.9" rx="1.1" ry="0.8" fill="#62208a" opacity="0.94" transform="rotate(71 154.49 93.9)"/><ellipse cx="157.37" cy="88.53" rx="1.38" ry="1.3" fill="#d0b0e0" opacity="0.93" transform="rotate(29 157.37 88.53)"/><ellipse cx="162.51" cy="105.41" rx="0.74" ry="0.63" fill="#d0b0e0" opacity="0.84" transform="rotate(80 162.51 105.41)"/><ellipse cx="159.28" cy="105.44" rx="0.82" ry="0.78" fill="#6c2a90" opacity="0.65" transform="rotate(111 159.28 105.44)"/><ellipse cx="161.56" cy="96.01" rx="1.44" ry="1.26" fill="#d0b0e0" opacity="0.72" transform="rotate(170 161.56 96.01)"/><ellipse cx="170.13" cy="92.58" rx="1.36" ry="0.92" fill="#d0b0e0" opacity="0.75" transform="rotate(170 170.13 92.58)"/><ellipse cx="158.65" cy="84.73" rx="1" ry="0.67" fill="#e0c8ec" opacity="0.82" transform="rotate(97 158.65 84.73)"/><ellipse cx="164.67" cy="102.54" rx="1.32" ry="0.97" fill="#b080cc" opacity="0.88" transform="rotate(77 164.67 102.54)"/><ellipse cx="155.93" cy="85.7" rx="1.28" ry="1.11" fill="#e0c8ec" opacity="0.73" transform="rotate(172 155.93 85.7)"/><ellipse cx="154.29" cy="87.25" rx="1.6" ry="1.48" fill="#6c2a90" opacity="0.81" transform="rotate(72 154.29 87.25)"/><ellipse cx="161.05" cy="92.93" rx="1.04" ry="0.96" fill="#6c2a90" opacity="0.82" transform="rotate(57 161.05 92.93)"/><ellipse cx="167.57" cy="75.65" rx="0.75" ry="0.74" fill="#b080cc" opacity="0.89" transform="rotate(18 167.57 75.65)"/><ellipse cx="159.7" cy="101.95" rx="1.28" ry="1.14" fill="#e0c8ec" opacity="0.75" transform="rotate(62 159.7 101.95)"/><ellipse cx="152.81" cy="94.88" rx="1.59" ry="1.51" fill="#62208a" opacity="0.86" transform="rotate(56 152.81 94.88)"/><ellipse cx="153.44" cy="104.5" rx="1.22" ry="0.78" fill="#6c2a90" opacity="0.92" transform="rotate(31 153.44 104.5)"/><ellipse cx="159.72" cy="98.93" rx="1.37" ry="1.36" fill="#b080cc" opacity="0.68" transform="rotate(113 159.72 98.93)"/><ellipse cx="163.22" cy="96.01" rx="1.2" ry="1.13" fill="#b080cc" opacity="0.73" transform="rotate(40 163.22 96.01)"/><ellipse cx="166.16" cy="87.3" rx="0.96" ry="0.69" fill="#f0e6f4" opacity="0.66" transform="rotate(133 166.16 87.3)"/><ellipse cx="160.35" cy="78.92" rx="1.14" ry="1.02" fill="#6c2a90" opacity="0.66" transform="rotate(81 160.35 78.92)"/><ellipse cx="158.79" cy="82.18" rx="1.17" ry="0.76" fill="#e0c8ec" opacity="0.71" transform="rotate(149 158.79 82.18)"/><ellipse cx="169.23" cy="90.89" rx="1.18" ry="1.15" fill="#d0b0e0" opacity="0.85" transform="rotate(107 169.23 90.89)"/><ellipse cx="161.56" cy="96.55" rx="1.5" ry="1.44" fill="#e0c8ec" opacity="0.64" transform="rotate(111 161.56 96.55)"/><ellipse cx="160.38" cy="84.24" rx="1.37" ry="1.27" fill="#f0e6f4" opacity="0.62" transform="rotate(119 160.38 84.24)"/><ellipse cx="170.1" cy="105.31" rx="1.23" ry="1.19" fill="#b080cc" opacity="0.78" transform="rotate(6 170.1 105.31)"/><ellipse cx="155.33" cy="82.05" rx="1.15" ry="0.87" fill="#e0c8ec" opacity="0.66" transform="rotate(107 155.33 82.05)"/><ellipse cx="164.06" cy="98.21" rx="1.35" ry="1.23" fill="#6c2a90" opacity="0.63" transform="rotate(5 164.06 98.21)"/><ellipse cx="163.42" cy="78.89" rx="1.17" ry="0.78" fill="#6c2a90" opacity="0.74" transform="rotate(65 163.42 78.89)"/><ellipse cx="166.68" cy="76.37" rx="1.31" ry="1.18" fill="#62208a" opacity="0.86" transform="rotate(41 166.68 76.37)"/><ellipse cx="164.67" cy="104.51" rx="1.1" ry="0.98" fill="#62208a" opacity="0.79" transform="rotate(160 164.67 104.51)"/><ellipse cx="154.94" cy="95.22" rx="1" ry="0.88" fill="#62208a" opacity="0.87" transform="rotate(144 154.94 95.22)"/><ellipse cx="167.03" cy="82.76" rx="1.13" ry="0.86" fill="#b080cc" opacity="0.81" transform="rotate(3 167.03 82.76)"/><ellipse cx="168.53" cy="99.67" rx="0.81" ry="0.79" fill="#f0e6f4" opacity="0.91" transform="rotate(117 168.53 99.67)"/><ellipse cx="165.34" cy="85.9" rx="1.43" ry="1.42" fill="#d0b0e0" opacity="0.8" transform="rotate(137 165.34 85.9)"/><ellipse cx="166.85" cy="86.95" rx="1.53" ry="1.29" fill="#d0b0e0" opacity="0.89" transform="rotate(22 166.85 86.95)"/><ellipse cx="155.75" cy="86.45" rx="1.45" ry="1.22" fill="#f0e6f4" opacity="0.7" transform="rotate(7 155.75 86.45)"/><ellipse cx="160.57" cy="81.97" rx="1.19" ry="0.9" fill="#d0b0e0" opacity="0.69" transform="rotate(152 160.57 81.97)"/><ellipse cx="165.21" cy="80.24" rx="0.71" ry="0.7" fill="#62208a" opacity="0.65" transform="rotate(104 165.21 80.24)"/><ellipse cx="160.44" cy="97.39" rx="1.39" ry="1.21" fill="#e0c8ec" opacity="0.73" transform="rotate(4 160.44 97.39)"/><ellipse cx="165" cy="81.3" rx="1.28" ry="1.03" fill="#b080cc" opacity="0.69" transform="rotate(140 165 81.3)"/><ellipse cx="156.91" cy="95.42" rx="0.97" ry="0.7" fill="#62208a" opacity="0.84" transform="rotate(80 156.91 95.42)"/><ellipse cx="166.57" cy="76.99" rx="0.92" ry="0.74" fill="#f0e6f4" opacity="0.79" transform="rotate(134 166.57 76.99)"/><ellipse cx="162.87" cy="105.31" rx="1.53" ry="1.13" fill="#d0b0e0" opacity="0.62" transform="rotate(3 162.87 105.31)"/><ellipse cx="165.36" cy="74.91" rx="0.75" ry="0.48" fill="#d0b0e0" opacity="0.83" transform="rotate(32 165.36 74.91)"/><ellipse cx="163.79" cy="97.2" rx="0.8" ry="0.51" fill="#d0b0e0" opacity="0.74" transform="rotate(112 163.79 97.2)"/><ellipse cx="157.13" cy="104.77" rx="0.95" ry="0.9" fill="#62208a" opacity="0.88" transform="rotate(102 157.13 104.77)"/><ellipse cx="160.52" cy="90.94" rx="1.39" ry="0.95" fill="#b080cc" opacity="0.93" transform="rotate(21 160.52 90.94)"/><ellipse cx="166.62" cy="91.98" rx="1.49" ry="1.06" fill="#b080cc" opacity="0.7" transform="rotate(113 166.62 91.98)"/><ellipse cx="156.16" cy="91.35" rx="1.13" ry="0.95" fill="#62208a" opacity="0.79" transform="rotate(25 156.16 91.35)"/><path d="M157.3,73.6 L158.9,71.6 L160.9,70.6 L163.9,70.4 L166.4,71.1 L167.9,72.6 L166.9,74.6 L162.9,73.1 L158.9,75.1 Z" fill="#a038b4" opacity="0.9"/><ellipse cx="139.9" cy="99.6" rx="1.4" ry="4" fill="#8a3da0" opacity="0.8"/>
<rect x="138.9" y="68.6" width="48.3" height="37.4" filter="url(#nz)" opacity="0.35"/>
</g>
<rect x="139.45" y="69.15" width="47.2" height="36.3" fill="none" stroke="#4a4a4a" stroke-width="1.1"/>
<text x="6.9" y="177.4" font-size="6.6" fill="#222">PD-1<tspan font-size="4" dy="-2.8">+/+</tspan></text>
<text x="6.9" y="186" font-size="6.6" text-anchor="start" fill="#222">CY+</text>
<text x="6.9" y="237.9" font-size="6.6" fill="#222">PD-1<tspan font-size="4" dy="-2.8">-/-</tspan></text>
<text x="6.9" y="246.5" font-size="6.6" text-anchor="start" fill="#222">CY+</text>
<g clip-path="url(#c7)">
<rect x="31.3" y="161.5" width="42.8" height="32.6" fill="#9a86da"/><path d="M39.3,162.5 L74.1,162.5 L74.1,176.5 L67.3,178.5 L59.3,177.5 L51.3,175.5 L45.3,171.5 L41.3,167.5 Z" fill="#b6a0e2" opacity="0.75"/><ellipse cx="52.46" cy="179.65" rx="1.75" ry="1.04" fill="#d4b8ec" opacity="0.72" transform="rotate(7 52.46 179.65)"/><ellipse cx="52.11" cy="173.21" rx="1.23" ry="0.73" fill="#8a76d4" opacity="0.53" transform="rotate(1 52.11 173.21)"/><ellipse cx="58.47" cy="172.5" rx="1.26" ry="0.61" fill="#a890e0" opacity="0.52" transform="rotate(74 58.47 172.5)"/><ellipse cx="50.16" cy="171.88" rx="1.18" ry="1.06" fill="#8a76d4" opacity="0.71" transform="rotate(157 50.16 171.88)"/><ellipse cx="42.38" cy="174.79" rx="0.87" ry="0.38" fill="#d4b8ec" opacity="0.59" transform="rotate(138 42.38 174.79)"/><ellipse cx="47.79" cy="189.21" rx="2" ry="1.31" fill="#c8b0ea" opacity="0.59" transform="rotate(16 47.79 189.21)"/><ellipse cx="48.15" cy="165.25" rx="1.16" ry="0.69" fill="#a890e0" opacity="0.51" transform="rotate(101 48.15 165.25)"/><ellipse cx="39.64" cy="163.84" rx="1.34" ry="1.29" fill="#d4b8ec" opacity="0.66" transform="rotate(160 39.64 163.84)"/><ellipse cx="72.99" cy="162.47" rx="1.81" ry="1.53" fill="#d4b8ec" opacity="0.73" transform="rotate(40 72.99 162.47)"/><ellipse cx="72.82" cy="177.91" rx="1.93" ry="0.86" fill="#c8b0ea" opacity="0.68" transform="rotate(45 72.82 177.91)"/><ellipse cx="36.59" cy="162.27" rx="1.22" ry="0.96" fill="#d4b8ec" opacity="0.74" transform="rotate(145 36.59 162.27)"/><ellipse cx="50.73" cy="171.92" rx="0.8" ry="0.74" fill="#8a76d4" opacity="0.44" transform="rotate(102 50.73 171.92)"/><ellipse cx="50.95" cy="171.82" rx="1.9" ry="0.93" fill="#d4b8ec" opacity="0.44" transform="rotate(153 50.95 171.82)"/><ellipse cx="58.96" cy="166.12" rx="0.84" ry="0.42" fill="#c8b0ea" opacity="0.57" transform="rotate(111 58.96 166.12)"/><ellipse cx="41.3" cy="176.7" rx="1.91" ry="1.43" fill="#c8b0ea" opacity="0.7" transform="rotate(34 41.3 176.7)"/><ellipse cx="63.8" cy="177.39" rx="1.36" ry="1.1" fill="#c8b0ea" opacity="0.42" transform="rotate(88 63.8 177.39)"/><ellipse cx="45.08" cy="188.04" rx="1.58" ry="0.9" fill="#a890e0" opacity="0.68" transform="rotate(35 45.08 188.04)"/><ellipse cx="55.36" cy="170.63" rx="1.4" ry="1.12" fill="#8a76d4" opacity="0.65" transform="rotate(79 55.36 170.63)"/><ellipse cx="39.11" cy="180.3" rx="1.94" ry="1.07" fill="#a890e0" opacity="0.71" transform="rotate(38 39.11 180.3)"/><ellipse cx="53.05" cy="186.96" rx="1.34" ry="0.75" fill="#a890e0" opacity="0.44" transform="rotate(171 53.05 186.96)"/><ellipse cx="56.37" cy="164.89" rx="1.19" ry="0.82" fill="#8a76d4" opacity="0.48" transform="rotate(177 56.37 164.89)"/><ellipse cx="50.85" cy="170.75" rx="1.47" ry="1.27" fill="#c8b0ea" opacity="0.59" transform="rotate(38 50.85 170.75)"/><ellipse cx="58.6" cy="178.32" rx="0.95" ry="0.43" fill="#c8b0ea" opacity="0.61" transform="rotate(71 58.6 178.32)"/><ellipse cx="37.57" cy="170.85" rx="0.74" ry="0.56" fill="#d4b8ec" opacity="0.49" transform="rotate(122 37.57 170.85)"/><ellipse cx="31.44" cy="177.82" rx="0.92" ry="0.82" fill="#d4b8ec" opacity="0.58" transform="rotate(156 31.44 177.82)"/><ellipse cx="44.68" cy="166.66" rx="1.47" ry="0.89" fill="#8a76d4" opacity="0.46" transform="rotate(95 44.68 166.66)"/><ellipse cx="71.89" cy="180.58" rx="1.66" ry="1.47" fill="#8a76d4" opacity="0.78" transform="rotate(54 71.89 180.58)"/><ellipse cx="34.54" cy="191.93" rx="1.27" ry="0.77" fill="#8a76d4" opacity="0.56" transform="rotate(22 34.54 191.93)"/><ellipse cx="43.58" cy="163.98" rx="0.96" ry="0.51" fill="#c8b0ea" opacity="0.43" transform="rotate(94 43.58 163.98)"/><ellipse cx="32.43" cy="168.09" rx="1.41" ry="1.12" fill="#a890e0" opacity="0.8" transform="rotate(144 32.43 168.09)"/><ellipse cx="64.6" cy="166.27" rx="1.76" ry="1.64" fill="#c8b0ea" opacity="0.63" transform="rotate(59 64.6 166.27)"/><ellipse cx="37.3" cy="193.12" rx="1.33" ry="0.95" fill="#d4b8ec" opacity="0.4" transform="rotate(26 37.3 193.12)"/><ellipse cx="41.97" cy="181.58" rx="1.65" ry="1.42" fill="#c8b0ea" opacity="0.73" transform="rotate(134 41.97 181.58)"/><ellipse cx="58.6" cy="181.16" rx="1.53" ry="0.62" fill="#c8b0ea" opacity="0.44" transform="rotate(61 58.6 181.16)"/><ellipse cx="32.39" cy="168.33" rx="1.15" ry="0.92" fill="#d4b8ec" opacity="0.64" transform="rotate(67 32.39 168.33)"/><ellipse cx="42" cy="188.49" rx="1.61" ry="1.5" fill="#8a76d4" opacity="0.73" transform="rotate(108 42 188.49)"/><ellipse cx="51.85" cy="168.72" rx="1.03" ry="0.47" fill="#c8b0ea" opacity="0.46" transform="rotate(162 51.85 168.72)"/><ellipse cx="48.63" cy="169.6" rx="1.48" ry="1.02" fill="#a890e0" opacity="0.43" transform="rotate(99 48.63 169.6)"/><ellipse cx="60.92" cy="165.49" rx="1.04" ry="0.64" fill="#8a76d4" opacity="0.65" transform="rotate(92 60.92 165.49)"/><ellipse cx="66.11" cy="162.33" rx="0.78" ry="0.56" fill="#8a76d4" opacity="0.51" transform="rotate(60 66.11 162.33)"/><ellipse cx="53.97" cy="178.83" rx="1.7" ry="1.46" fill="#8a76d4" opacity="0.45" transform="rotate(121 53.97 178.83)"/><ellipse cx="74.03" cy="179.31" rx="1.06" ry="0.58" fill="#c8b0ea" opacity="0.55" transform="rotate(21 74.03 179.31)"/><ellipse cx="33.3" cy="190.24" rx="1.68" ry="1.02" fill="#c8b0ea" opacity="0.55" transform="rotate(116 33.3 190.24)"/><ellipse cx="42.15" cy="192.51" rx="0.95" ry="0.77" fill="#c8b0ea" opacity="0.45" transform="rotate(128 42.15 192.51)"/><ellipse cx="47.57" cy="176.25" rx="1.35" ry="1.28" fill="#a890e0" opacity="0.5" transform="rotate(107 47.57 176.25)"/><ellipse cx="34.97" cy="191.71" rx="0.92" ry="0.76" fill="#d4b8ec" opacity="0.55" transform="rotate(45 34.97 191.71)"/><ellipse cx="55.03" cy="161.95" rx="0.74" ry="0.64" fill="#c8b0ea" opacity="0.78" transform="rotate(54 55.03 161.95)"/><ellipse cx="34.8" cy="191.84" rx="0.77" ry="0.71" fill="#8a76d4" opacity="0.57" transform="rotate(0 34.8 191.84)"/><ellipse cx="43.92" cy="186.9" rx="1.01" ry="0.55" fill="#d4b8ec" opacity="0.65" transform="rotate(34 43.92 186.9)"/><ellipse cx="67.76" cy="171.52" rx="1.25" ry="0.52" fill="#a890e0" opacity="0.5" transform="rotate(37 67.76 171.52)"/><ellipse cx="41.33" cy="187.82" rx="1.68" ry="1.3" fill="#8a76d4" opacity="0.45" transform="rotate(159 41.33 187.82)"/><ellipse cx="41.55" cy="161.88" rx="1.91" ry="1.25" fill="#c8b0ea" opacity="0.79" transform="rotate(111 41.55 161.88)"/><ellipse cx="45.76" cy="193.07" rx="1.76" ry="1.41" fill="#d4b8ec" opacity="0.53" transform="rotate(115 45.76 193.07)"/><ellipse cx="71.22" cy="169.53" rx="0.77" ry="0.34" fill="#8a76d4" opacity="0.65" transform="rotate(86 71.22 169.53)"/><ellipse cx="70.11" cy="174" rx="1.28" ry="0.82" fill="#8a76d4" opacity="0.72" transform="rotate(59 70.11 174)"/><ellipse cx="39.7" cy="191.59" rx="0.92" ry="0.92" fill="#8a76d4" opacity="0.5" transform="rotate(82 39.7 191.59)"/><ellipse cx="39.04" cy="193.24" rx="0.8" ry="0.4" fill="#a890e0" opacity="0.72" transform="rotate(152 39.04 193.24)"/><ellipse cx="50.78" cy="190.63" rx="0.89" ry="0.66" fill="#8a76d4" opacity="0.51" transform="rotate(163 50.78 190.63)"/><ellipse cx="47.83" cy="174.95" rx="1.11" ry="0.45" fill="#8a76d4" opacity="0.69" transform="rotate(77 47.83 174.95)"/><ellipse cx="47.83" cy="165.54" rx="0.84" ry="0.7" fill="#8a76d4" opacity="0.52" transform="rotate(146 47.83 165.54)"/><path d="M32.3,169 L37.3,167.7 L43.3,166.9 L48.3,166.5 L45.3,167.9 L39.3,168.8 L33.3,169.9 Z" fill="#e8dcf4" opacity="0.9"/><path d="M49.3,166 L55.3,164 L61.3,163.5 L57.3,165.5 L51.3,167 Z" fill="#d6c0ee" opacity="0.8"/><path d="M53.3,194.1 L53.3,181.7 L57.3,181.9 L61.3,182.1 L67.3,181.6 L74.1,181.3 L74.1,194.1 Z" fill="#ffffff"/>
<rect x="31.3" y="161.5" width="42.8" height="32.6" filter="url(#nz)" opacity="0.35"/>
</g>
<rect x="31.85" y="162.05" width="41.7" height="31.5" fill="none" stroke="#5a5a5a" stroke-width="1.1"/>
<g clip-path="url(#c8)">
<rect x="31.3" y="177.5" width="22.3" height="16.6" fill="#ffffff"/><path d="M32.3,182.7 L37.3,182.1 L43.3,181.7 L50.3,181.5 L50.8,182.7 L45.3,183.9 L39.3,184.5 L32.3,185.1 Z" fill="#c4a6ea"/><path d="M32.3,185.9 L37.3,185.1 L42.3,185.3 L46.3,186.1 L50.3,187.5 L52.3,189 L51.3,190.9 L46.3,192 L40.3,191.7 L35.3,189.9 L32.8,188.5 Z" fill="#b496e0"/><ellipse cx="41.6" cy="191.29" rx="0.96" ry="0.78" fill="#d0b8f0" opacity="0.4" transform="rotate(66 41.6 191.29)"/><ellipse cx="34.76" cy="188.36" rx="1.12" ry="1.02" fill="#9c80d8" opacity="0.78" transform="rotate(165 34.76 188.36)"/><ellipse cx="35.51" cy="186.57" rx="0.68" ry="0.56" fill="#c8a8ec" opacity="0.41" transform="rotate(101 35.51 186.57)"/><ellipse cx="39.15" cy="188.3" rx="1.55" ry="1.14" fill="#9c80d8" opacity="0.64" transform="rotate(60 39.15 188.3)"/><ellipse cx="46.1" cy="187.03" rx="0.77" ry="0.7" fill="#c8a8ec" opacity="0.63" transform="rotate(51 46.1 187.03)"/><ellipse cx="32.57" cy="186.82" rx="0.7" ry="0.53" fill="#9c80d8" opacity="0.8" transform="rotate(51 32.57 186.82)"/><ellipse cx="39.69" cy="189" rx="1.5" ry="1.13" fill="#9c80d8" opacity="0.62" transform="rotate(99 39.69 189)"/><ellipse cx="39.15" cy="188.37" rx="0.96" ry="0.9" fill="#c8a8ec" opacity="0.43" transform="rotate(4 39.15 188.37)"/><ellipse cx="47.18" cy="188.24" rx="1.32" ry="1.29" fill="#c8a8ec" opacity="0.61" transform="rotate(87 47.18 188.24)"/><ellipse cx="45.98" cy="191.38" rx="1.56" ry="1.03" fill="#9c80d8" opacity="0.5" transform="rotate(102 45.98 191.38)"/><ellipse cx="43.72" cy="190.88" rx="1.01" ry="0.65" fill="#c8a8ec" opacity="0.5" transform="rotate(96 43.72 190.88)"/><ellipse cx="46.14" cy="188.99" rx="0.77" ry="0.64" fill="#c8a8ec" opacity="0.41" transform="rotate(103 46.14 188.99)"/><ellipse cx="39.16" cy="187.92" rx="0.95" ry="0.61" fill="#d0b8f0" opacity="0.67" transform="rotate(19 39.16 187.92)"/><ellipse cx="47.79" cy="190.39" rx="0.84" ry="0.76" fill="#d0b8f0" opacity="0.72" transform="rotate(172 47.79 190.39)"/><ellipse cx="44.54" cy="185.79" rx="1.08" ry="1.07" fill="#c8a8ec" opacity="0.76" transform="rotate(102 44.54 185.79)"/><ellipse cx="39.24" cy="188.71" rx="0.76" ry="0.72" fill="#c8a8ec" opacity="0.57" transform="rotate(66 39.24 188.71)"/>
<rect x="31.3" y="177.5" width="22.3" height="16.6" filter="url(#nz)" opacity="0.25"/>
</g>
<rect x="31.85" y="178.05" width="21.2" height="15.5" fill="none" stroke="#3a3a3a" stroke-width="1.1"/>
<text x="32.7" y="193" font-size="3.8" text-anchor="start" fill="#222">x8</text>
<text x="73" y="193" font-size="3.8" text-anchor="end" fill="#222">x200</text>
<g clip-path="url(#c9)">
<rect x="31.2" y="221.6" width="42.3" height="32.2" fill="#9a8ade"/><ellipse cx="50.03" cy="231.07" rx="1.88" ry="1.3" fill="#b8a0e8" opacity="0.55" transform="rotate(20 50.03 231.07)"/><ellipse cx="34.39" cy="228.12" rx="0.8" ry="0.62" fill="#b8a0e8" opacity="0.49" transform="rotate(32 34.39 228.12)"/><ellipse cx="45.08" cy="230.42" rx="1.58" ry="1.55" fill="#8878d8" opacity="0.49" transform="rotate(156 45.08 230.42)"/><ellipse cx="54.7" cy="235.49" rx="1.17" ry="0.96" fill="#b8a0e8" opacity="0.76" transform="rotate(9 54.7 235.49)"/><ellipse cx="32.12" cy="251.22" rx="0.92" ry="0.37" fill="#a898e4" opacity="0.74" transform="rotate(13 32.12 251.22)"/><ellipse cx="46.87" cy="233.48" rx="1.15" ry="0.51" fill="#b8a0e8" opacity="0.48" transform="rotate(57 46.87 233.48)"/><ellipse cx="55.46" cy="234.8" rx="1.56" ry="0.77" fill="#b8a0e8" opacity="0.72" transform="rotate(54 55.46 234.8)"/><ellipse cx="48.22" cy="232.58" rx="1.4" ry="0.81" fill="#b8a0e8" opacity="0.77" transform="rotate(108 48.22 232.58)"/><ellipse cx="36.87" cy="233.23" rx="0.87" ry="0.37" fill="#8878d8" opacity="0.41" transform="rotate(106 36.87 233.23)"/><ellipse cx="52.36" cy="239.11" rx="0.83" ry="0.74" fill="#b8a0e8" opacity="0.49" transform="rotate(148 52.36 239.11)"/><ellipse cx="58.29" cy="236.83" rx="0.78" ry="0.64" fill="#a898e4" opacity="0.55" transform="rotate(40 58.29 236.83)"/><ellipse cx="41.09" cy="251.04" rx="1.04" ry="0.63" fill="#c8b0ec" opacity="0.64" transform="rotate(21 41.09 251.04)"/><ellipse cx="43.94" cy="227.28" rx="1.3" ry="0.95" fill="#c8b0ec" opacity="0.56" transform="rotate(126 43.94 227.28)"/><ellipse cx="67.92" cy="233.44" rx="1.17" ry="1.16" fill="#a898e4" opacity="0.56" transform="rotate(36 67.92 233.44)"/><ellipse cx="51.97" cy="235.94" rx="1.12" ry="0.57" fill="#c8b0ec" opacity="0.57" transform="rotate(19 51.97 235.94)"/><ellipse cx="32.71" cy="233.14" rx="1.11" ry="0.71" fill="#b8a0e8" opacity="0.62" transform="rotate(24 32.71 233.14)"/><ellipse cx="47.3" cy="241.61" rx="1.09" ry="0.97" fill="#8878d8" opacity="0.48" transform="rotate(168 47.3 241.61)"/><ellipse cx="58.07" cy="227.53" rx="1.14" ry="0.74" fill="#8878d8" opacity="0.78" transform="rotate(96 58.07 227.53)"/><ellipse cx="49.15" cy="240.24" rx="1.7" ry="0.87" fill="#c8b0ec" opacity="0.64" transform="rotate(152 49.15 240.24)"/><ellipse cx="58.73" cy="235.9" rx="1.2" ry="1.03" fill="#c8b0ec" opacity="0.75" transform="rotate(160 58.73 235.9)"/><ellipse cx="62.55" cy="232.57" rx="1.72" ry="0.81" fill="#c8b0ec" opacity="0.44" transform="rotate(165 62.55 232.57)"/><ellipse cx="41.04" cy="236.99" rx="1.96" ry="1.32" fill="#8878d8" opacity="0.57" transform="rotate(158 41.04 236.99)"/><ellipse cx="34.6" cy="245.22" rx="1.48" ry="0.85" fill="#c8b0ec" opacity="0.64" transform="rotate(27 34.6 245.22)"/><ellipse cx="43.77" cy="235.16" rx="1.54" ry="1.3" fill="#a898e4" opacity="0.41" transform="rotate(135 43.77 235.16)"/><ellipse cx="62.91" cy="237.72" rx="0.99" ry="0.41" fill="#a898e4" opacity="0.65" transform="rotate(28 62.91 237.72)"/><ellipse cx="67.95" cy="223.81" rx="1.34" ry="0.78" fill="#c8b0ec" opacity="0.51" transform="rotate(29 67.95 223.81)"/><ellipse cx="55.76" cy="242.87" rx="1.73" ry="1.04" fill="#a898e4" opacity="0.54" transform="rotate(86 55.76 242.87)"/><ellipse cx="45.72" cy="226.24" rx="0.87" ry="0.7" fill="#b8a0e8" opacity="0.47" transform="rotate(171 45.72 226.24)"/><ellipse cx="69.22" cy="237.84" rx="1.32" ry="0.75" fill="#c8b0ec" opacity="0.57" transform="rotate(100 69.22 237.84)"/><ellipse cx="43.91" cy="221.75" rx="1.36" ry="1.08" fill="#a898e4" opacity="0.66" transform="rotate(39 43.91 221.75)"/><ellipse cx="54.42" cy="224.51" rx="1.35" ry="1.23" fill="#8878d8" opacity="0.77" transform="rotate(64 54.42 224.51)"/><ellipse cx="31.36" cy="227.85" rx="1.12" ry="1.07" fill="#a898e4" opacity="0.44" transform="rotate(160 31.36 227.85)"/><ellipse cx="42.75" cy="236.87" rx="1.44" ry="1.05" fill="#8878d8" opacity="0.47" transform="rotate(2 42.75 236.87)"/><ellipse cx="43.34" cy="252.01" rx="2" ry="1.62" fill="#b8a0e8" opacity="0.59" transform="rotate(161 43.34 252.01)"/><ellipse cx="71.88" cy="223.75" rx="1.93" ry="1.29" fill="#b8a0e8" opacity="0.42" transform="rotate(175 71.88 223.75)"/><ellipse cx="56.14" cy="241.61" rx="0.96" ry="0.48" fill="#a898e4" opacity="0.75" transform="rotate(80 56.14 241.61)"/><ellipse cx="48.39" cy="246.35" rx="1.31" ry="1.16" fill="#b8a0e8" opacity="0.61" transform="rotate(18 48.39 246.35)"/><ellipse cx="42.19" cy="234.31" rx="0.78" ry="0.63" fill="#a898e4" opacity="0.48" transform="rotate(146 42.19 234.31)"/><ellipse cx="49.43" cy="224.32" rx="1.59" ry="0.65" fill="#8878d8" opacity="0.52" transform="rotate(58 49.43 224.32)"/><ellipse cx="64.08" cy="237.19" rx="1.53" ry="1.44" fill="#c8b0ec" opacity="0.47" transform="rotate(95 64.08 237.19)"/><ellipse cx="41.42" cy="235.4" rx="1.5" ry="0.9" fill="#8878d8" opacity="0.72" transform="rotate(76 41.42 235.4)"/><ellipse cx="44.93" cy="242.95" rx="1.27" ry="1.23" fill="#c8b0ec" opacity="0.71" transform="rotate(155 44.93 242.95)"/><ellipse cx="43.49" cy="252.17" rx="1.5" ry="0.83" fill="#c8b0ec" opacity="0.64" transform="rotate(46 43.49 252.17)"/><ellipse cx="50.88" cy="241.6" rx="0.76" ry="0.47" fill="#8878d8" opacity="0.46" transform="rotate(51 50.88 241.6)"/><ellipse cx="67.81" cy="223.62" rx="1.17" ry="1.16" fill="#b8a0e8" opacity="0.78" transform="rotate(161 67.81 223.62)"/><ellipse cx="51.55" cy="242.73" rx="1.44" ry="0.7" fill="#c8b0ec" opacity="0.54" transform="rotate(169 51.55 242.73)"/><ellipse cx="69.83" cy="231.65" rx="0.94" ry="0.77" fill="#b8a0e8" opacity="0.41" transform="rotate(38 69.83 231.65)"/><ellipse cx="40.07" cy="246.7" rx="1.86" ry="1.25" fill="#c8b0ec" opacity="0.45" transform="rotate(157 40.07 246.7)"/><ellipse cx="48.39" cy="251.55" rx="1.23" ry="1.06" fill="#c8b0ec" opacity="0.44" transform="rotate(127 48.39 251.55)"/><ellipse cx="37.89" cy="251.41" rx="1.68" ry="1.61" fill="#b8a0e8" opacity="0.41" transform="rotate(12 37.89 251.41)"/><ellipse cx="54.46" cy="232.31" rx="1.59" ry="1.57" fill="#8878d8" opacity="0.53" transform="rotate(12 54.46 232.31)"/><ellipse cx="57.06" cy="225.61" rx="1.99" ry="0.86" fill="#a898e4" opacity="0.5" transform="rotate(98 57.06 225.61)"/><ellipse cx="41.82" cy="231.48" rx="0.75" ry="0.4" fill="#c8b0ec" opacity="0.68" transform="rotate(52 41.82 231.48)"/><ellipse cx="37.47" cy="232.69" rx="1.94" ry="1.56" fill="#a898e4" opacity="0.55" transform="rotate(169 37.47 232.69)"/><ellipse cx="31.55" cy="248.73" rx="1.54" ry="1.32" fill="#a898e4" opacity="0.59" transform="rotate(67 31.55 248.73)"/><ellipse cx="32.41" cy="248.6" rx="1.15" ry="0.71" fill="#b8a0e8" opacity="0.7" transform="rotate(68 32.41 248.6)"/><ellipse cx="45.25" cy="228.22" rx="1.65" ry="0.85" fill="#a898e4" opacity="0.71" transform="rotate(4 45.25 228.22)"/><ellipse cx="70.64" cy="235.72" rx="1.72" ry="0.92" fill="#c8b0ec" opacity="0.7" transform="rotate(40 70.64 235.72)"/><ellipse cx="39.8" cy="252.45" rx="0.73" ry="0.38" fill="#8878d8" opacity="0.6" transform="rotate(25 39.8 252.45)"/><ellipse cx="40.56" cy="232.1" rx="1.44" ry="1.08" fill="#c8b0ec" opacity="0.71" transform="rotate(40 40.56 232.1)"/><path d="M31.2,221.6 L53.2,221.6 L49.2,226.6 L43.2,230.6 L37.2,233.6 L33.2,237.6 L31.2,238.6 Z" fill="#b49ee6" opacity="0.7"/><path d="M33.2,223.6 L41.2,222.6 L47.2,223.6 L41.2,225.6 L35.2,226.6 Z" fill="#d8c0ee" opacity="0.7"/><path d="M52.2,253.8 L52.7,245.6 L54.2,243.1 L57.2,242.1 L61.2,241.1 L64.2,240.2 L67.2,238.6 L70.2,238.1 L73.5,237.4 L73.5,248.6 L69.2,250.1 L67.2,253.8 Z" fill="#ffffff"/><ellipse cx="63.77" cy="243.01" rx="0.64" ry="0.62" fill="#c8b8f0" opacity="0.58" transform="rotate(68 63.77 243.01)"/><ellipse cx="69.66" cy="240.01" rx="0.89" ry="0.78" fill="#c8b8f0" opacity="0.53" transform="rotate(106 69.66 240.01)"/><ellipse cx="56.71" cy="243.36" rx="0.4" ry="0.26" fill="#c8b8f0" opacity="0.73" transform="rotate(150 56.71 243.36)"/><ellipse cx="59.95" cy="242.37" rx="0.45" ry="0.29" fill="#e8e0f8" opacity="0.66" transform="rotate(54 59.95 242.37)"/><ellipse cx="62.88" cy="242.16" rx="0.85" ry="0.75" fill="#c8b8f0" opacity="0.52" transform="rotate(59 62.88 242.16)"/><ellipse cx="70.08" cy="240.69" rx="0.48" ry="0.32" fill="#c8b8f0" opacity="0.83" transform="rotate(85 70.08 240.69)"/><ellipse cx="56.17" cy="243.41" rx="0.59" ry="0.56" fill="#c8b8f0" opacity="0.83" transform="rotate(27 56.17 243.41)"/><ellipse cx="57.43" cy="243.11" rx="0.62" ry="0.56" fill="#c8b8f0" opacity="0.52" transform="rotate(169 57.43 243.11)"/><ellipse cx="70.5" cy="251.2" rx="4" ry="3" fill="#6e5cc8" opacity="0.95"/>
<rect x="31.2" y="221.6" width="42.3" height="32.2" filter="url(#nz)" opacity="0.35"/>
</g>
<rect x="31.75" y="222.15" width="41.2" height="31.1" fill="none" stroke="#5a5a5a" stroke-width="1.1"/>
<g clip-path="url(#c10)">
<rect x="31.2" y="237.3" width="21.7" height="16.6" fill="#ffffff"/><path d="M31.2,237.3 L52.9,237.3 L52.9,240.3 L48.2,241.8 L50.2,244.8 L51.7,248.3 L50.7,251.3 L47.2,253.9 L43.2,253.9 L40.2,249.3 L36.2,248.3 L31.2,247.8 Z" fill="#d8b0e8"/><ellipse cx="40.2" cy="242.08" rx="1.44" ry="1.14" fill="#b888dc" opacity="0.72" transform="rotate(86 40.2 242.08)"/><ellipse cx="49.12" cy="244.55" rx="0.83" ry="0.79" fill="#b888dc" opacity="0.61" transform="rotate(167 49.12 244.55)"/><ellipse cx="41.47" cy="248.84" rx="0.86" ry="0.59" fill="#c098e0" opacity="0.82" transform="rotate(31 41.47 248.84)"/><ellipse cx="34.17" cy="243.12" rx="1.18" ry="0.9" fill="#c098e0" opacity="0.89" transform="rotate(162 34.17 243.12)"/><ellipse cx="36.14" cy="244.76" rx="0.65" ry="0.44" fill="#eccaf0" opacity="0.81" transform="rotate(85 36.14 244.76)"/><ellipse cx="36.63" cy="242.6" rx="1.49" ry="0.94" fill="#b888dc" opacity="0.53" transform="rotate(140 36.63 242.6)"/><ellipse cx="40.59" cy="239.49" rx="1.59" ry="1.24" fill="#f4dcf6" opacity="0.59" transform="rotate(76 40.59 239.49)"/><ellipse cx="43.25" cy="240.53" rx="1.18" ry="1.05" fill="#eccaf0" opacity="0.62" transform="rotate(16 43.25 240.53)"/><ellipse cx="37.02" cy="244.83" rx="1.46" ry="1.39" fill="#c098e0" opacity="0.55" transform="rotate(70 37.02 244.83)"/><ellipse cx="47.55" cy="244.46" rx="1.31" ry="1.13" fill="#eccaf0" opacity="0.9" transform="rotate(166 47.55 244.46)"/><ellipse cx="43.55" cy="244.06" rx="0.76" ry="0.72" fill="#b888dc" opacity="0.85" transform="rotate(160 43.55 244.06)"/><ellipse cx="37.56" cy="242.79" rx="1.1" ry="0.96" fill="#f4dcf6" opacity="0.87" transform="rotate(152 37.56 242.79)"/><ellipse cx="41.51" cy="248.98" rx="0.62" ry="0.41" fill="#f4dcf6" opacity="0.72" transform="rotate(8 41.51 248.98)"/><ellipse cx="45.6" cy="240.84" rx="0.87" ry="0.8" fill="#f4dcf6" opacity="0.6" transform="rotate(101 45.6 240.84)"/><ellipse cx="34.57" cy="239.59" rx="1.4" ry="1.34" fill="#f4dcf6" opacity="0.76" transform="rotate(144 34.57 239.59)"/><ellipse cx="50.5" cy="249.02" rx="1.13" ry="1.12" fill="#c098e0" opacity="0.59" transform="rotate(134 50.5 249.02)"/><ellipse cx="44.74" cy="251.42" rx="1.34" ry="0.96" fill="#c098e0" opacity="0.79" transform="rotate(2 44.74 251.42)"/><ellipse cx="37.63" cy="241.96" rx="0.99" ry="0.77" fill="#eccaf0" opacity="0.77" transform="rotate(19 37.63 241.96)"/><ellipse cx="43.66" cy="244.25" rx="1.19" ry="0.99" fill="#f4dcf6" opacity="0.73" transform="rotate(14 43.66 244.25)"/><ellipse cx="37.1" cy="238" rx="1.43" ry="1.33" fill="#b888dc" opacity="0.56" transform="rotate(122 37.1 238)"/><ellipse cx="41.8" cy="248.18" rx="1.35" ry="1.31" fill="#c098e0" opacity="0.55" transform="rotate(28 41.8 248.18)"/><ellipse cx="45.5" cy="245.58" rx="0.96" ry="0.96" fill="#b888dc" opacity="0.69" transform="rotate(46 45.5 245.58)"/><ellipse cx="48.56" cy="241.51" rx="1.04" ry="0.75" fill="#eccaf0" opacity="0.54" transform="rotate(29 48.56 241.51)"/><ellipse cx="32.32" cy="240.64" rx="1.16" ry="1.07" fill="#eccaf0" opacity="0.78" transform="rotate(41 32.32 240.64)"/>
<rect x="31.2" y="237.3" width="21.7" height="16.6" filter="url(#nz)" opacity="0.25"/>
</g>
<rect x="31.75" y="237.85" width="20.6" height="15.5" fill="none" stroke="#3a3a3a" stroke-width="1.1"/>
<text x="32.6" y="252.6" font-size="3.8" text-anchor="start" fill="#222">x8</text>
<text x="72.6" y="252.6" font-size="3.8" text-anchor="end" fill="#222">x200</text>
<g><path d="M96 163h1v1h-1zM97 164h1v1h-1zM96 166h1v1h-1zM98 180h1v1h-1zM98 183h1v1h-1zM119 210h1v1h-1zM124 210h1v1h-1zM142 211h1v1h-1zM129 213h1v1h-1z" fill="#9999ff" opacity="0.4"/><path d="M125 163h1v1h-1zM140 163h1v1h-1zM145 163h1v1h-1zM146 163h1v1h-1zM106 164h1v1h-1zM110 164h1v1h-1zM124 164h1v1h-1zM125 164h1v1h-1zM142 164h1v1h-1zM101 165h1v1h-1zM118 165h1v1h-1zM123 165h1v1h-1zM116 166h1v1h-1zM144 166h1v1h-1zM108 167h1v1h-1zM109 167h1v1h-1zM114 167h1v1h-1zM115 167h1v1h-1zM101 168h1v1h-1zM113 168h1v1h-1zM116 168h1v1h-1zM146 168h1v1h-1zM105 169h1v1h-1zM112 169h1v1h-1zM114 169h1v1h-1zM112 170h1v1h-1zM95 171h1v1h-1zM108 171h1v1h-1zM110 171h1v1h-1zM148 171h1v1h-1zM107 172h1v1h-1zM145 172h1v1h-1zM97 173h1v1h-1zM105 174h1v1h-1zM145 174h1v1h-1zM147 175h1v1h-1zM144 176h1v1h-1zM146 176h1v1h-1zM102 177h1v1h-1zM98 178h1v1h-1zM148 178h1v1h-1zM98 179h1v1h-1zM143 180h1v1h-1zM145 181h1v1h-1zM146 181h1v1h-1zM143 182h1v1h-1zM101 183h1v1h-1zM104 183h1v1h-1zM106 183h1v1h-1zM143 183h1v1h-1zM105 184h1v1h-1zM147 184h1v1h-1zM102 185h1v1h-1zM105 185h1v1h-1zM144 186h1v1h-1zM105 187h1v1h-1zM142 187h1v1h-1zM145 187h1v1h-1zM100 189h1v1h-1zM102 189h1v1h-1zM105 189h1v1h-1zM101 192h1v1h-1zM146 193h1v1h-1zM95 194h1v1h-1zM95 195h1v1h-1zM144 195h1v1h-1zM97 198h1v1h-1zM144 198h1v1h-1zM96 199h1v1h-1zM145 199h1v1h-1zM146 199h1v1h-1zM93 200h1v1h-1zM94 200h1v1h-1zM121 200h1v1h-1zM143 200h1v1h-1zM116 202h1v1h-1zM121 202h1v1h-1zM124 202h1v1h-1zM94 203h1v1h-1zM96 204h1v1h-1zM111 204h1v1h-1zM112 204h1v1h-1zM95 205h1v1h-1zM111 205h1v1h-1zM113 205h1v1h-1zM117 205h1v1h-1zM129 205h1v1h-1zM139 205h1v1h-1zM141 205h1v1h-1zM95 206h1v1h-1zM96 207h1v1h-1zM100 207h1v1h-1zM104 207h1v1h-1zM128 207h1v1h-1zM133 207h1v1h-1zM140 207h1v1h-1zM142 207h1v1h-1zM97 208h1v1h-1zM102 208h1v1h-1zM106 208h1v1h-1zM108 208h1v1h-1zM110 208h1v1h-1zM124 208h1v1h-1zM128 208h1v1h-1zM134 208h1v1h-1zM139 208h1v1h-1zM95 209h1v1h-1zM103 209h1v1h-1zM106 209h1v1h-1zM111 209h1v1h-1zM112 209h1v1h-1zM127 209h1v1h-1zM93 210h1v1h-1zM98 210h1v1h-1zM107 210h1v1h-1zM101 212h1v1h-1zM105 212h1v1h-1zM101 213h1v1h-1zM104 213h1v1h-1zM101 215h1v1h-1zM104 215h1v1h-1zM105 215h1v1h-1z" fill="#8899ff" opacity="0.4"/><path d="M133 163h1v1h-1zM107 187h1v1h-1zM143 193h1v1h-1zM119 198h1v1h-1zM117 199h1v1h-1zM114 201h1v1h-1z" fill="#8888ff" opacity="0.5"/><path d="M135 164h1v1h-1zM137 164h1v1h-1zM130 165h1v1h-1zM131 165h1v1h-1zM134 165h1v1h-1zM137 165h1v1h-1zM126 166h1v1h-1zM140 166h1v1h-1zM141 166h1v1h-1zM125 167h1v1h-1zM122 168h1v1h-1zM123 168h1v1h-1zM142 168h1v1h-1zM122 169h1v1h-1zM117 170h1v1h-1zM120 170h1v1h-1zM142 170h1v1h-1zM119 171h1v1h-1zM142 171h1v1h-1zM114 173h1v1h-1zM141 173h1v1h-1zM113 174h1v1h-1zM114 176h1v1h-1zM115 177h1v1h-1zM140 177h1v1h-1zM141 178h1v1h-1zM139 179h1v1h-1zM140 179h1v1h-1zM112 180h1v1h-1zM139 180h1v1h-1zM138 181h1v1h-1zM139 181h1v1h-1zM138 182h1v1h-1zM139 182h1v1h-1zM111 183h1v1h-1zM113 183h1v1h-1zM113 184h1v1h-1zM140 184h1v1h-1zM111 185h1v1h-1zM111 187h1v1h-1zM108 188h1v1h-1zM109 188h1v1h-1zM112 189h1v1h-1zM107 190h1v1h-1zM112 190h1v1h-1zM142 190h1v1h-1zM107 192h1v1h-1zM108 192h1v1h-1zM110 192h1v1h-1zM122 192h1v1h-1zM110 193h1v1h-1zM113 193h1v1h-1zM114 193h1v1h-1zM116 193h1v1h-1zM119 193h1v1h-1zM141 193h1v1h-1zM106 194h1v1h-1zM107 194h1v1h-1zM120 194h1v1h-1zM121 194h1v1h-1zM123 194h1v1h-1zM126 194h1v1h-1zM142 194h1v1h-1zM105 195h1v1h-1zM108 195h1v1h-1zM109 195h1v1h-1zM116 195h1v1h-1zM121 195h1v1h-1zM105 196h1v1h-1zM106 196h1v1h-1zM107 196h1v1h-1zM109 196h1v1h-1zM115 196h1v1h-1zM120 196h1v1h-1zM121 196h1v1h-1zM101 197h1v1h-1zM103 197h1v1h-1zM105 197h1v1h-1zM108 197h1v1h-1zM109 197h1v1h-1zM111 197h1v1h-1zM112 197h1v1h-1zM124 197h1v1h-1zM126 197h1v1h-1zM108 198h1v1h-1zM110 198h1v1h-1zM113 198h1v1h-1zM115 198h1v1h-1zM125 198h1v1h-1zM102 199h1v1h-1zM106 199h1v1h-1zM108 199h1v1h-1zM109 199h1v1h-1zM112 199h1v1h-1zM126 199h1v1h-1zM127 199h1v1h-1zM141 199h1v1h-1zM101 200h1v1h-1zM107 200h1v1h-1zM109 200h1v1h-1zM110 200h1v1h-1zM111 200h1v1h-1zM112 200h1v1h-1zM127 200h1v1h-1zM139 200h1v1h-1zM101 201h1v1h-1zM105 201h1v1h-1zM106 201h1v1h-1zM109 201h1v1h-1zM110 201h1v1h-1zM128 201h1v1h-1zM108 202h1v1h-1zM138 202h1v1h-1zM102 203h1v1h-1zM131 203h1v1h-1zM131 204h1v1h-1zM133 204h1v1h-1zM134 204h1v1h-1zM137 204h1v1h-1zM132 205h1v1h-1z" fill="#7788ee" opacity="0.5"/><path d="M123 166h1v1h-1zM114 172h1v1h-1zM113 173h1v1h-1zM112 174h1v1h-1zM112 175h1v1h-1zM111 177h1v1h-1zM111 178h1v1h-1zM110 183h1v1h-1zM105 190h1v1h-1zM104 191h1v1h-1zM103 193h1v1h-1zM101 195h1v1h-1zM100 197h1v1h-1zM126 201h1v1h-1zM98 202h1v1h-1zM111 202h1v1h-1zM101 205h1v1h-1zM102 205h1v1h-1zM136 205h1v1h-1z" fill="#7788ff" opacity="0.5"/><path d="M131 166h1v1h-1zM139 166h1v1h-1zM127 167h1v1h-1zM140 167h1v1h-1zM123 169h1v1h-1zM120 171h1v1h-1zM117 174h1v1h-1zM140 175h1v1h-1zM139 178h1v1h-1zM137 182h1v1h-1zM114 183h1v1h-1zM137 185h1v1h-1zM138 186h1v1h-1zM114 187h1v1h-1zM139 187h1v1h-1zM113 188h1v1h-1zM140 189h1v1h-1zM120 191h1v1h-1zM122 191h1v1h-1zM124 191h1v1h-1zM116 192h1v1h-1zM117 192h1v1h-1zM126 192h1v1h-1zM127 195h1v1h-1zM127 197h1v1h-1zM140 198h1v1h-1zM128 199h1v1h-1zM135 203h1v1h-1z" fill="#6677ee" opacity="0.5"/><path d="M136 166h1v1h-1zM131 167h1v1h-1zM139 167h1v1h-1zM140 168h1v1h-1zM124 169h1v1h-1zM126 169h1v1h-1zM140 169h1v1h-1zM124 170h1v1h-1zM121 171h1v1h-1zM122 171h1v1h-1zM140 171h1v1h-1zM140 173h1v1h-1zM118 174h1v1h-1zM140 174h1v1h-1zM119 175h1v1h-1zM139 175h1v1h-1zM117 176h1v1h-1zM118 176h1v1h-1zM138 177h1v1h-1zM116 178h1v1h-1zM117 178h1v1h-1zM116 180h1v1h-1zM137 180h1v1h-1zM115 182h1v1h-1zM116 182h1v1h-1zM135 182h1v1h-1zM116 183h1v1h-1zM116 185h1v1h-1zM117 185h1v1h-1zM135 185h1v1h-1zM115 186h1v1h-1zM135 186h1v1h-1zM136 186h1v1h-1zM116 187h1v1h-1zM137 187h1v1h-1zM138 187h1v1h-1zM122 188h1v1h-1zM124 188h1v1h-1zM126 188h1v1h-1zM127 188h1v1h-1zM138 188h1v1h-1zM139 188h1v1h-1zM115 189h1v1h-1zM116 189h1v1h-1zM118 189h1v1h-1zM119 189h1v1h-1zM121 189h1v1h-1zM124 189h1v1h-1zM125 189h1v1h-1zM126 189h1v1h-1zM129 189h1v1h-1zM118 190h1v1h-1zM119 190h1v1h-1zM123 190h1v1h-1zM124 190h1v1h-1zM128 193h1v1h-1zM140 193h1v1h-1zM128 194h1v1h-1zM128 195h1v1h-1zM128 196h1v1h-1zM128 197h1v1h-1zM140 197h1v1h-1zM128 198h1v1h-1zM139 198h1v1h-1zM139 199h1v1h-1zM138 200h1v1h-1zM136 201h1v1h-1zM132 202h1v1h-1zM135 202h1v1h-1zM136 202h1v1h-1z" fill="#6677ee" opacity="0.6"/><path d="M132 167h1v1h-1zM138 167h1v1h-1zM129 168h1v1h-1zM139 168h1v1h-1zM123 171h1v1h-1zM139 173h1v1h-1zM120 175h1v1h-1zM119 176h1v1h-1zM135 180h1v1h-1zM135 181h1v1h-1zM134 182h1v1h-1zM117 183h1v1h-1zM117 184h1v1h-1zM118 184h1v1h-1zM118 185h1v1h-1zM130 185h1v1h-1zM132 185h1v1h-1zM119 186h1v1h-1zM128 186h1v1h-1zM129 186h1v1h-1zM130 186h1v1h-1zM133 186h1v1h-1zM134 186h1v1h-1zM121 187h1v1h-1zM123 187h1v1h-1zM124 187h1v1h-1zM126 187h1v1h-1zM127 187h1v1h-1zM129 187h1v1h-1zM130 187h1v1h-1zM131 187h1v1h-1zM135 187h1v1h-1zM136 187h1v1h-1zM137 188h1v1h-1zM130 189h1v1h-1zM130 190h1v1h-1zM139 190h1v1h-1zM129 191h1v1h-1zM139 191h1v1h-1zM129 192h1v1h-1zM129 194h1v1h-1zM129 195h1v1h-1zM139 196h1v1h-1zM139 197h1v1h-1zM130 200h1v1h-1zM132 201h1v1h-1z" fill="#5566ee" opacity="0.6"/><path d="M130 168h1v1h-1zM128 169h1v1h-1zM139 169h1v1h-1zM126 170h1v1h-1zM139 172h1v1h-1zM121 174h1v1h-1zM138 175h1v1h-1zM119 177h1v1h-1zM119 178h1v1h-1zM136 178h1v1h-1zM118 180h1v1h-1zM118 181h1v1h-1zM118 182h1v1h-1zM119 184h1v1h-1zM127 185h1v1h-1zM128 185h1v1h-1zM129 185h1v1h-1zM121 186h1v1h-1zM122 186h1v1h-1zM133 188h1v1h-1zM135 188h1v1h-1zM131 189h1v1h-1zM139 192h1v1h-1zM138 198h1v1h-1zM130 199h1v1h-1zM137 199h1v1h-1zM131 200h1v1h-1zM136 200h1v1h-1zM133 201h1v1h-1zM134 201h1v1h-1z" fill="#5566ee" opacity="0.7"/><path d="M131 168h1v1h-1zM132 168h1v1h-1zM137 168h1v1h-1zM129 169h1v1h-1zM127 170h1v1h-1zM126 171h1v1h-1zM124 172h1v1h-1zM123 173h1v1h-1zM138 173h1v1h-1zM137 176h1v1h-1zM136 177h1v1h-1zM120 178h1v1h-1zM119 179h1v1h-1zM119 180h1v1h-1zM133 181h1v1h-1zM119 182h1v1h-1zM132 182h1v1h-1zM119 183h1v1h-1zM120 183h1v1h-1zM130 183h1v1h-1zM120 184h1v1h-1zM121 184h1v1h-1zM127 184h1v1h-1zM128 184h1v1h-1zM122 185h1v1h-1zM123 185h1v1h-1zM124 185h1v1h-1zM133 189h1v1h-1zM132 190h1v1h-1zM131 191h1v1h-1zM138 191h1v1h-1zM138 192h1v1h-1zM130 195h1v1h-1zM130 196h1v1h-1zM138 196h1v1h-1zM130 197h1v1h-1zM138 197h1v1h-1zM137 198h1v1h-1zM136 199h1v1h-1zM133 200h1v1h-1zM134 200h1v1h-1zM135 200h1v1h-1z" fill="#4455ee" opacity="0.7"/><path d="M133 168h1v1h-1zM136 168h1v1h-1zM135 178h1v1h-1zM134 179h1v1h-1zM132 181h1v1h-1zM120 182h1v1h-1zM126 184h1v1h-1zM131 192h1v1h-1zM138 195h1v1h-1zM131 198h1v1h-1z" fill="#4455ee" opacity="0.8"/><path d="M134 168h1v1h-1zM135 168h1v1h-1zM130 169h1v1h-1zM138 170h1v1h-1zM125 172h1v1h-1zM122 175h1v1h-1zM120 179h1v1h-1zM123 184h1v1h-1zM125 184h1v1h-1zM138 193h1v1h-1zM138 194h1v1h-1zM132 199h1v1h-1z" fill="#3355ee" opacity="0.8"/><path d="M131 169h1v1h-1zM137 169h1v1h-1zM128 170h1v1h-1zM127 171h1v1h-1zM138 171h1v1h-1zM138 172h1v1h-1zM124 173h1v1h-1zM123 174h1v1h-1zM137 174h1v1h-1zM122 176h1v1h-1zM136 176h1v1h-1zM121 177h1v1h-1zM135 177h1v1h-1zM121 178h1v1h-1zM120 180h1v1h-1zM132 180h1v1h-1zM120 181h1v1h-1zM131 181h1v1h-1zM121 182h1v1h-1zM129 182h1v1h-1zM130 182h1v1h-1zM121 183h1v1h-1zM122 183h1v1h-1zM126 183h1v1h-1zM127 183h1v1h-1zM128 183h1v1h-1zM124 184h1v1h-1zM133 190h1v1h-1zM134 190h1v1h-1zM135 190h1v1h-1zM136 190h1v1h-1zM132 191h1v1h-1zM137 191h1v1h-1zM132 192h1v1h-1zM137 192h1v1h-1zM131 193h1v1h-1zM131 194h1v1h-1zM131 195h1v1h-1zM131 196h1v1h-1zM137 196h1v1h-1zM131 197h1v1h-1zM137 197h1v1h-1zM132 198h1v1h-1zM136 198h1v1h-1zM133 199h1v1h-1zM134 199h1v1h-1zM135 199h1v1h-1z" fill="#3344ee" opacity="0.8"/><path d="M132 169h1v1h-1zM133 169h1v1h-1zM135 169h1v1h-1zM136 169h1v1h-1zM129 170h1v1h-1zM130 170h1v1h-1zM131 170h1v1h-1zM132 170h1v1h-1zM137 170h1v1h-1zM128 171h1v1h-1zM137 171h1v1h-1zM126 172h1v1h-1zM127 172h1v1h-1zM137 172h1v1h-1zM125 173h1v1h-1zM126 173h1v1h-1zM137 173h1v1h-1zM124 174h1v1h-1zM125 174h1v1h-1zM136 174h1v1h-1zM123 175h1v1h-1zM124 175h1v1h-1zM136 175h1v1h-1zM123 176h1v1h-1zM124 176h1v1h-1zM135 176h1v1h-1zM122 177h1v1h-1zM123 177h1v1h-1zM133 177h1v1h-1zM134 177h1v1h-1zM122 178h1v1h-1zM133 178h1v1h-1zM134 178h1v1h-1zM121 179h1v1h-1zM122 179h1v1h-1zM123 179h1v1h-1zM131 179h1v1h-1zM132 179h1v1h-1zM121 180h1v1h-1zM122 180h1v1h-1zM130 180h1v1h-1zM131 180h1v1h-1zM121 181h1v1h-1zM122 181h1v1h-1zM123 181h1v1h-1zM124 181h1v1h-1zM126 181h1v1h-1zM127 181h1v1h-1zM128 181h1v1h-1zM129 181h1v1h-1zM130 181h1v1h-1zM122 182h1v1h-1zM123 182h1v1h-1zM124 182h1v1h-1zM125 182h1v1h-1zM126 182h1v1h-1zM127 182h1v1h-1zM128 182h1v1h-1zM123 183h1v1h-1zM124 183h1v1h-1zM125 183h1v1h-1zM133 191h1v1h-1zM134 191h1v1h-1zM136 191h1v1h-1zM133 192h1v1h-1zM136 192h1v1h-1zM132 193h1v1h-1zM133 193h1v1h-1zM136 193h1v1h-1zM132 194h1v1h-1zM133 194h1v1h-1zM136 194h1v1h-1zM137 195h1v1h-1zM132 196h1v1h-1zM132 197h1v1h-1zM133 197h1v1h-1zM135 197h1v1h-1zM136 197h1v1h-1zM133 198h1v1h-1zM135 198h1v1h-1z" fill="#2244ee" opacity="0.8"/><path d="M134 169h1v1h-1zM123 180h1v1h-1zM135 191h1v1h-1zM134 198h1v1h-1z" fill="#0044ff"/><path d="M133 170h1v1h-1zM134 170h1v1h-1zM124 179h1v1h-1zM130 179h1v1h-1zM125 180h1v1h-1zM134 194h1v1h-1zM134 195h1v1h-1z" fill="#00aaff"/><path d="M135 170h1v1h-1zM130 171h1v1h-1zM136 171h1v1h-1zM136 172h1v1h-1zM127 173h1v1h-1zM126 174h1v1h-1zM134 176h1v1h-1zM124 177h1v1h-1zM128 180h1v1h-1zM135 194h1v1h-1zM135 195h1v1h-1zM134 196h1v1h-1z" fill="#0099ff"/><path d="M136 170h1v1h-1zM129 180h1v1h-1zM134 192h1v1h-1zM135 192h1v1h-1zM134 197h1v1h-1z" fill="#0066ff"/><path d="M125 171h1v1h-1zM135 179h1v1h-1zM131 183h1v1h-1zM121 185h1v1h-1zM134 188h1v1h-1zM132 189h1v1h-1zM137 189h1v1h-1zM131 190h1v1h-1zM130 192h1v1h-1zM130 198h1v1h-1z" fill="#4466ee" opacity="0.7"/><path d="M129 171h1v1h-1zM123 178h1v1h-1zM125 181h1v1h-1zM132 195h1v1h-1zM136 196h1v1h-1z" fill="#0055ff"/><path d="M131 171h1v1h-1zM131 178h1v1h-1z" fill="#00eeff"/><path d="M132 171h1v1h-1zM134 171h1v1h-1zM127 174h1v1h-1zM133 176h1v1h-1zM125 177h1v1h-1zM132 177h1v1h-1z" fill="#11ffee"/><path d="M133 171h1v1h-1zM125 178h1v1h-1z" fill="#22ffdd"/><path d="M135 171h1v1h-1zM129 172h1v1h-1zM125 176h1v1h-1z" fill="#00ddff"/><path d="M128 172h1v1h-1zM135 175h1v1h-1zM136 195h1v1h-1zM133 196h1v1h-1z" fill="#0077ff"/><path d="M130 172h1v1h-1zM126 179h1v1h-1zM128 179h1v1h-1z" fill="#33ffcc"/><path d="M131 172h1v1h-1zM129 173h1v1h-1zM133 175h1v1h-1zM126 177h1v1h-1zM131 177h1v1h-1z" fill="#77ff88"/><path d="M132 172h1v1h-1zM127 178h1v1h-1z" fill="#99ff66"/><path d="M133 172h1v1h-1zM128 174h1v1h-1zM127 175h1v1h-1zM132 176h1v1h-1zM129 178h1v1h-1z" fill="#88ff77"/><path d="M134 172h1v1h-1zM126 176h1v1h-1z" fill="#55ffaa"/><path d="M135 172h1v1h-1zM128 173h1v1h-1zM135 173h1v1h-1zM126 175h1v1h-1zM134 175h1v1h-1zM125 179h1v1h-1zM129 179h1v1h-1z" fill="#00ffff"/><path d="M130 173h1v1h-1zM133 173h1v1h-1zM133 174h1v1h-1z" fill="#bbff44"/><path d="M131 173h1v1h-1zM131 176h1v1h-1z" fill="#ffee00"/><path d="M132 173h1v1h-1zM129 174h1v1h-1zM128 175h1v1h-1zM132 175h1v1h-1z" fill="#ffff00"/><path d="M134 173h1v1h-1zM126 178h1v1h-1z" fill="#66ff99"/><path d="M136 173h1v1h-1zM125 175h1v1h-1zM132 178h1v1h-1zM124 180h1v1h-1zM134 193h1v1h-1zM135 193h1v1h-1zM133 195h1v1h-1zM135 196h1v1h-1z" fill="#0088ff"/><path d="M130 174h1v1h-1z" fill="#ff8800"/><path d="M131 174h1v1h-1zM129 175h1v1h-1zM131 175h1v1h-1z" fill="#ff6600"/><path d="M132 174h1v1h-1z" fill="#ffcc00"/><path d="M134 174h1v1h-1zM130 178h1v1h-1zM127 179h1v1h-1z" fill="#44ffbb"/><path d="M135 174h1v1h-1zM126 180h1v1h-1z" fill="#00ccff"/><path d="M130 175h1v1h-1z" fill="#ff2200"/><path d="M127 176h1v1h-1zM130 177h1v1h-1z" fill="#ccff33"/><path d="M128 176h1v1h-1z" fill="#ffaa00"/><path d="M129 176h1v1h-1z" fill="#ff5500"/><path d="M130 176h1v1h-1z" fill="#ff7700"/><path d="M127 177h1v1h-1z" fill="#ddff22"/><path d="M128 177h1v1h-1zM129 177h1v1h-1z" fill="#ffdd00"/><path d="M124 178h1v1h-1zM127 180h1v1h-1z" fill="#00bbff"/><path d="M128 178h1v1h-1z" fill="#aaff55"/><path d="M117 180h1v1h-1zM119 187h1v1h-1zM129 188h1v1h-1zM138 199h1v1h-1z" fill="#5577ee" opacity="0.6"/><path d="M141 184h1v1h-1zM97 201h1v1h-1zM128 204h1v1h-1zM97 205h1v1h-1zM134 206h1v1h-1z" fill="#8888ff" opacity="0.4"/><path d="M113 187h1v1h-1z" fill="#7777ee" opacity="0.5"/><path d="M137 193h1v1h-1zM137 194h1v1h-1z" fill="#0033ff"/><path d="M144 210h1v1h-1zM120 214h1v1h-1zM148 214h1v1h-1zM137 215h1v1h-1z" fill="#99aaff" opacity="0.4"/></g>
<line x1="92.5" y1="180.6" x2="117.2" y2="180.6" stroke="#3a3a3a" stroke-width="1"/>
<line x1="117.2" y1="180.6" x2="126.6" y2="162.1" stroke="#3a3a3a" stroke-width="1"/>
<line x1="117.2" y1="180.6" x2="127.3" y2="189.2" stroke="#3a3a3a" stroke-width="1"/>
<line x1="127.3" y1="189.2" x2="149.2" y2="171.1" stroke="#3a3a3a" stroke-width="1"/>
<line x1="127.3" y1="189.2" x2="127.3" y2="217.8" stroke="#3a3a3a" stroke-width="1"/>
<rect x="93.05" y="162.65" width="55.6" height="54.6" fill="none" stroke="#6a6a6a" stroke-width="1.1"/>
<text x="94.6" y="168" font-size="4.8" text-anchor="start" fill="#333">2</text>
<text x="147.6" y="168" font-size="4.8" text-anchor="end" fill="#333">77</text>
<text x="94.6" y="216.2" font-size="4.8" text-anchor="start" fill="#333">7</text>
<text x="147.8" y="216.2" font-size="4.8" text-anchor="end" fill="#333">14</text>
<g><path d="M104 222h1v1h-1zM118 222h1v1h-1zM128 222h1v1h-1zM130 222h1v1h-1zM116 223h1v1h-1zM119 223h1v1h-1zM123 223h1v1h-1zM143 223h1v1h-1zM145 223h1v1h-1zM146 223h1v1h-1zM104 224h1v1h-1zM108 224h1v1h-1zM109 224h1v1h-1zM114 224h1v1h-1zM119 224h1v1h-1zM120 224h1v1h-1zM123 224h1v1h-1zM144 224h1v1h-1zM97 225h1v1h-1zM115 225h1v1h-1zM117 225h1v1h-1zM148 225h1v1h-1zM111 226h1v1h-1zM115 226h1v1h-1zM118 226h1v1h-1zM119 226h1v1h-1zM148 226h1v1h-1zM112 227h1v1h-1zM115 227h1v1h-1zM116 227h1v1h-1zM145 227h1v1h-1zM100 228h1v1h-1zM110 228h1v1h-1zM115 228h1v1h-1zM147 228h1v1h-1zM112 229h1v1h-1zM104 230h1v1h-1zM110 230h1v1h-1zM145 230h1v1h-1zM96 231h1v1h-1zM111 231h1v1h-1zM112 231h1v1h-1zM95 232h1v1h-1zM112 232h1v1h-1zM147 232h1v1h-1zM148 232h1v1h-1zM97 233h1v1h-1zM106 233h1v1h-1zM107 233h1v1h-1zM109 233h1v1h-1zM111 233h1v1h-1zM99 234h1v1h-1zM106 234h1v1h-1zM107 234h1v1h-1zM110 234h1v1h-1zM148 234h1v1h-1zM102 236h1v1h-1zM106 236h1v1h-1zM110 236h1v1h-1zM144 236h1v1h-1zM108 237h1v1h-1zM144 237h1v1h-1zM145 237h1v1h-1zM108 238h1v1h-1zM107 239h1v1h-1zM108 240h1v1h-1zM105 241h1v1h-1zM105 242h1v1h-1zM144 242h1v1h-1zM108 243h1v1h-1zM99 244h1v1h-1zM100 245h1v1h-1zM144 245h1v1h-1zM105 247h1v1h-1zM102 249h1v1h-1zM143 249h1v1h-1zM102 252h1v1h-1zM148 253h1v1h-1zM95 255h1v1h-1zM99 256h1v1h-1zM144 256h1v1h-1zM146 256h1v1h-1zM98 257h1v1h-1zM144 257h1v1h-1zM95 258h1v1h-1zM97 258h1v1h-1zM98 258h1v1h-1zM143 259h1v1h-1zM144 259h1v1h-1zM97 260h1v1h-1zM119 260h1v1h-1zM143 260h1v1h-1zM145 260h1v1h-1zM95 261h1v1h-1zM120 261h1v1h-1zM125 261h1v1h-1zM143 261h1v1h-1zM96 262h1v1h-1zM112 262h1v1h-1zM115 262h1v1h-1zM97 263h1v1h-1zM125 263h1v1h-1zM98 264h1v1h-1zM128 264h1v1h-1zM140 264h1v1h-1zM138 265h1v1h-1zM144 265h1v1h-1zM102 266h1v1h-1zM109 266h1v1h-1zM128 266h1v1h-1zM134 266h1v1h-1zM96 267h1v1h-1zM104 267h1v1h-1zM109 267h1v1h-1zM113 267h1v1h-1zM129 267h1v1h-1zM108 268h1v1h-1zM110 268h1v1h-1zM117 268h1v1h-1zM125 268h1v1h-1zM94 270h1v1h-1zM100 270h1v1h-1zM130 270h1v1h-1zM101 271h1v1h-1zM131 271h1v1h-1zM96 273h1v1h-1zM98 273h1v1h-1zM104 274h1v1h-1zM96 276h1v1h-1zM97 276h1v1h-1zM102 276h1v1h-1z" fill="#8899ff" opacity="0.4"/><path d="M132 222h1v1h-1zM136 222h1v1h-1zM129 223h1v1h-1zM123 225h1v1h-1zM117 228h1v1h-1zM116 229h1v1h-1zM144 229h1v1h-1zM112 234h1v1h-1zM142 238h1v1h-1zM111 240h1v1h-1zM109 245h1v1h-1zM141 245h1v1h-1zM107 247h1v1h-1zM107 248h1v1h-1zM105 250h1v1h-1zM104 251h1v1h-1zM121 256h1v1h-1zM122 256h1v1h-1zM119 257h1v1h-1zM125 259h1v1h-1zM99 260h1v1h-1zM99 261h1v1h-1zM111 261h1v1h-1zM99 263h1v1h-1zM100 263h1v1h-1zM101 263h1v1h-1zM102 263h1v1h-1zM138 263h1v1h-1zM136 264h1v1h-1z" fill="#7788ff" opacity="0.5"/><path d="M131 223h1v1h-1zM133 223h1v1h-1zM134 223h1v1h-1zM130 224h1v1h-1zM141 224h1v1h-1zM142 224h1v1h-1zM127 225h1v1h-1zM123 226h1v1h-1zM126 226h1v1h-1zM124 227h1v1h-1zM121 228h1v1h-1zM117 230h1v1h-1zM143 230h1v1h-1zM117 231h1v1h-1zM142 231h1v1h-1zM117 232h1v1h-1zM115 233h1v1h-1zM141 234h1v1h-1zM113 236h1v1h-1zM114 236h1v1h-1zM114 238h1v1h-1zM115 238h1v1h-1zM115 239h1v1h-1zM140 239h1v1h-1zM139 240h1v1h-1zM140 240h1v1h-1zM139 241h1v1h-1zM112 242h1v1h-1zM113 242h1v1h-1zM139 242h1v1h-1zM112 243h1v1h-1zM114 243h1v1h-1zM140 243h1v1h-1zM113 244h1v1h-1zM113 245h1v1h-1zM139 245h1v1h-1zM113 246h1v1h-1zM113 247h1v1h-1zM140 247h1v1h-1zM111 248h1v1h-1zM112 248h1v1h-1zM113 248h1v1h-1zM109 249h1v1h-1zM110 249h1v1h-1zM111 250h1v1h-1zM112 250h1v1h-1zM113 251h1v1h-1zM120 251h1v1h-1zM106 252h1v1h-1zM107 252h1v1h-1zM116 252h1v1h-1zM121 252h1v1h-1zM104 253h1v1h-1zM106 253h1v1h-1zM111 253h1v1h-1zM112 253h1v1h-1zM117 253h1v1h-1zM119 253h1v1h-1zM123 253h1v1h-1zM126 253h1v1h-1zM105 254h1v1h-1zM107 254h1v1h-1zM117 254h1v1h-1zM122 254h1v1h-1zM123 254h1v1h-1zM106 255h1v1h-1zM108 255h1v1h-1zM110 255h1v1h-1zM111 255h1v1h-1zM112 255h1v1h-1zM114 255h1v1h-1zM103 256h1v1h-1zM104 256h1v1h-1zM109 256h1v1h-1zM111 256h1v1h-1zM112 257h1v1h-1zM101 258h1v1h-1zM102 258h1v1h-1zM106 258h1v1h-1zM109 258h1v1h-1zM112 258h1v1h-1zM126 258h1v1h-1zM127 258h1v1h-1zM106 259h1v1h-1zM107 259h1v1h-1zM126 259h1v1h-1zM127 259h1v1h-1zM128 259h1v1h-1zM139 259h1v1h-1zM140 259h1v1h-1zM105 260h1v1h-1zM106 260h1v1h-1zM109 260h1v1h-1zM110 260h1v1h-1zM128 260h1v1h-1zM140 260h1v1h-1zM106 261h1v1h-1zM107 261h1v1h-1zM109 261h1v1h-1zM128 261h1v1h-1zM139 261h1v1h-1zM101 262h1v1h-1zM103 263h1v1h-1zM133 263h1v1h-1zM134 263h1v1h-1zM132 264h1v1h-1zM134 264h1v1h-1z" fill="#7788ee" opacity="0.5"/><path d="M138 224h1v1h-1zM130 225h1v1h-1zM123 228h1v1h-1zM142 229h1v1h-1zM118 233h1v1h-1zM140 236h1v1h-1zM139 238h1v1h-1zM115 244h1v1h-1zM115 245h1v1h-1zM138 245h1v1h-1zM139 246h1v1h-1zM114 247h1v1h-1zM114 248h1v1h-1zM140 248h1v1h-1zM117 249h1v1h-1zM116 250h1v1h-1zM117 250h1v1h-1zM119 250h1v1h-1zM120 250h1v1h-1zM127 256h1v1h-1zM129 260h1v1h-1zM138 260h1v1h-1zM133 262h1v1h-1zM134 262h1v1h-1z" fill="#6677ee" opacity="0.5"/><path d="M131 225h1v1h-1zM134 225h1v1h-1zM138 225h1v1h-1zM127 227h1v1h-1zM125 228h1v1h-1zM123 229h1v1h-1zM124 229h1v1h-1zM121 230h1v1h-1zM121 231h1v1h-1zM141 231h1v1h-1zM121 232h1v1h-1zM140 233h1v1h-1zM139 235h1v1h-1zM117 236h1v1h-1zM118 236h1v1h-1zM138 237h1v1h-1zM139 237h1v1h-1zM117 238h1v1h-1zM138 238h1v1h-1zM136 240h1v1h-1zM116 241h1v1h-1zM137 241h1v1h-1zM135 243h1v1h-1zM136 243h1v1h-1zM118 244h1v1h-1zM136 244h1v1h-1zM137 245h1v1h-1zM116 246h1v1h-1zM120 246h1v1h-1zM137 246h1v1h-1zM138 246h1v1h-1zM116 247h1v1h-1zM117 247h1v1h-1zM120 247h1v1h-1zM124 247h1v1h-1zM127 247h1v1h-1zM118 248h1v1h-1zM123 248h1v1h-1zM125 248h1v1h-1zM139 248h1v1h-1zM120 249h1v1h-1zM123 249h1v1h-1zM124 249h1v1h-1zM125 249h1v1h-1zM128 249h1v1h-1zM127 250h1v1h-1zM127 253h1v1h-1zM140 255h1v1h-1zM130 260h1v1h-1zM136 260h1v1h-1zM137 260h1v1h-1zM131 261h1v1h-1z" fill="#6677ee" opacity="0.6"/><path d="M120 226h1v1h-1zM113 231h1v1h-1zM111 239h1v1h-1zM106 248h1v1h-1zM120 257h1v1h-1zM98 260h1v1h-1zM103 265h1v1h-1zM133 265h1v1h-1z" fill="#8888ff" opacity="0.5"/><path d="M133 226h1v1h-1zM130 227h1v1h-1zM126 229h1v1h-1zM140 229h1v1h-1zM140 230h1v1h-1zM124 231h1v1h-1zM140 231h1v1h-1zM123 232h1v1h-1zM122 233h1v1h-1zM121 234h1v1h-1zM120 236h1v1h-1zM119 238h1v1h-1zM119 240h1v1h-1zM134 240h1v1h-1zM119 241h1v1h-1zM133 241h1v1h-1zM132 242h1v1h-1zM120 243h1v1h-1zM130 243h1v1h-1zM121 244h1v1h-1zM122 244h1v1h-1zM127 244h1v1h-1zM129 244h1v1h-1zM133 247h1v1h-1zM136 247h1v1h-1zM138 249h1v1h-1zM130 250h1v1h-1zM139 253h1v1h-1zM139 254h1v1h-1zM137 258h1v1h-1zM131 259h1v1h-1zM136 259h1v1h-1zM133 260h1v1h-1zM134 260h1v1h-1z" fill="#5566ee" opacity="0.7"/><path d="M134 226h1v1h-1zM123 244h1v1h-1zM126 244h1v1h-1zM134 247h1v1h-1zM137 248h1v1h-1zM131 249h1v1h-1zM130 251h1v1h-1zM130 257h1v1h-1z" fill="#4466ee" opacity="0.7"/><path d="M136 226h1v1h-1zM137 226h1v1h-1zM131 227h1v1h-1zM132 227h1v1h-1zM139 227h1v1h-1zM129 228h1v1h-1zM139 228h1v1h-1zM127 229h1v1h-1zM126 230h1v1h-1zM123 233h1v1h-1zM138 234h1v1h-1zM121 235h1v1h-1zM121 236h1v1h-1zM137 236h1v1h-1zM120 237h1v1h-1zM135 238h1v1h-1zM120 239h1v1h-1zM134 239h1v1h-1zM120 240h1v1h-1zM133 240h1v1h-1zM120 241h1v1h-1zM120 242h1v1h-1zM130 242h1v1h-1zM123 243h1v1h-1zM126 243h1v1h-1zM127 243h1v1h-1zM128 243h1v1h-1zM129 243h1v1h-1zM124 244h1v1h-1zM125 244h1v1h-1zM132 248h1v1h-1zM133 248h1v1h-1zM134 248h1v1h-1zM135 248h1v1h-1zM136 248h1v1h-1zM132 249h1v1h-1zM137 249h1v1h-1zM138 250h1v1h-1zM138 251h1v1h-1zM130 253h1v1h-1zM138 255h1v1h-1zM130 256h1v1h-1zM131 258h1v1h-1zM136 258h1v1h-1zM132 259h1v1h-1zM133 259h1v1h-1zM134 259h1v1h-1z" fill="#4455ee" opacity="0.7"/><path d="M133 227h1v1h-1zM135 227h1v1h-1zM136 227h1v1h-1zM137 227h1v1h-1zM131 228h1v1h-1zM138 228h1v1h-1zM129 229h1v1h-1zM127 230h1v1h-1zM139 230h1v1h-1zM126 231h1v1h-1zM125 232h1v1h-1zM124 233h1v1h-1zM138 233h1v1h-1zM123 234h1v1h-1zM122 236h1v1h-1zM136 236h1v1h-1zM135 237h1v1h-1zM121 238h1v1h-1zM134 238h1v1h-1zM121 239h1v1h-1zM133 239h1v1h-1zM121 240h1v1h-1zM131 240h1v1h-1zM132 240h1v1h-1zM122 241h1v1h-1zM129 241h1v1h-1zM130 241h1v1h-1zM123 242h1v1h-1zM125 242h1v1h-1zM126 242h1v1h-1zM127 242h1v1h-1zM133 249h1v1h-1zM134 249h1v1h-1zM135 249h1v1h-1zM136 249h1v1h-1zM132 250h1v1h-1zM137 250h1v1h-1zM137 251h1v1h-1zM131 253h1v1h-1zM131 254h1v1h-1zM131 255h1v1h-1zM137 255h1v1h-1zM131 256h1v1h-1zM137 256h1v1h-1zM132 257h1v1h-1zM136 257h1v1h-1zM133 258h1v1h-1zM134 258h1v1h-1z" fill="#3344ee" opacity="0.8"/><path d="M130 228h1v1h-1zM139 229h1v1h-1zM122 235h1v1h-1zM122 242h1v1h-1zM138 252h1v1h-1zM138 253h1v1h-1zM132 258h1v1h-1z" fill="#3355ee" opacity="0.8"/><path d="M132 228h1v1h-1zM134 228h1v1h-1zM130 229h1v1h-1zM138 229h1v1h-1zM128 230h1v1h-1zM129 230h1v1h-1zM130 230h1v1h-1zM138 230h1v1h-1zM127 231h1v1h-1zM126 232h1v1h-1zM127 232h1v1h-1zM137 232h1v1h-1zM138 232h1v1h-1zM125 233h1v1h-1zM126 233h1v1h-1zM137 233h1v1h-1zM124 234h1v1h-1zM125 234h1v1h-1zM136 234h1v1h-1zM137 234h1v1h-1zM123 235h1v1h-1zM124 235h1v1h-1zM125 235h1v1h-1zM136 235h1v1h-1zM123 236h1v1h-1zM124 236h1v1h-1zM134 236h1v1h-1zM135 236h1v1h-1zM122 237h1v1h-1zM123 237h1v1h-1zM124 237h1v1h-1zM133 237h1v1h-1zM134 237h1v1h-1zM122 238h1v1h-1zM123 238h1v1h-1zM124 238h1v1h-1zM132 238h1v1h-1zM133 238h1v1h-1zM122 239h1v1h-1zM123 239h1v1h-1zM124 239h1v1h-1zM129 239h1v1h-1zM130 239h1v1h-1zM131 239h1v1h-1zM132 239h1v1h-1zM122 240h1v1h-1zM123 240h1v1h-1zM124 240h1v1h-1zM125 240h1v1h-1zM126 240h1v1h-1zM127 240h1v1h-1zM128 240h1v1h-1zM129 240h1v1h-1zM130 240h1v1h-1zM124 241h1v1h-1zM125 241h1v1h-1zM126 241h1v1h-1zM127 241h1v1h-1zM128 241h1v1h-1zM133 250h1v1h-1zM134 250h1v1h-1zM136 250h1v1h-1zM132 251h1v1h-1zM133 251h1v1h-1zM134 251h1v1h-1zM136 251h1v1h-1zM132 252h1v1h-1zM137 252h1v1h-1zM132 253h1v1h-1zM136 253h1v1h-1zM137 253h1v1h-1zM132 254h1v1h-1zM137 254h1v1h-1zM132 255h1v1h-1zM133 255h1v1h-1zM136 255h1v1h-1zM132 256h1v1h-1zM133 256h1v1h-1zM134 256h1v1h-1zM135 256h1v1h-1zM136 256h1v1h-1zM133 257h1v1h-1zM134 257h1v1h-1zM135 257h1v1h-1z" fill="#2244ee" opacity="0.8"/><path d="M133 228h1v1h-1zM137 228h1v1h-1zM135 250h1v1h-1z" fill="#0044ff"/><path d="M135 228h1v1h-1zM136 228h1v1h-1zM131 238h1v1h-1zM125 239h1v1h-1zM135 251h1v1h-1zM133 252h1v1h-1zM136 252h1v1h-1z" fill="#0066ff"/><path d="M125 229h1v1h-1zM123 231h1v1h-1zM122 232h1v1h-1zM140 232h1v1h-1zM120 234h1v1h-1zM139 234h1v1h-1zM120 235h1v1h-1zM136 239h1v1h-1zM118 241h1v1h-1zM134 241h1v1h-1zM135 241h1v1h-1zM119 244h1v1h-1zM132 244h1v1h-1zM134 244h1v1h-1zM123 245h1v1h-1zM127 245h1v1h-1zM132 245h1v1h-1zM134 245h1v1h-1zM135 245h1v1h-1zM121 246h1v1h-1zM122 246h1v1h-1zM124 246h1v1h-1zM126 246h1v1h-1zM132 246h1v1h-1zM136 246h1v1h-1zM129 247h1v1h-1zM130 247h1v1h-1zM131 247h1v1h-1zM137 247h1v1h-1zM139 249h1v1h-1zM129 250h1v1h-1zM139 250h1v1h-1zM129 251h1v1h-1zM139 255h1v1h-1zM139 256h1v1h-1zM138 258h1v1h-1zM130 259h1v1h-1zM131 260h1v1h-1zM132 260h1v1h-1zM135 260h1v1h-1z" fill="#5566ee" opacity="0.6"/><path d="M131 229h1v1h-1zM128 231h1v1h-1zM135 235h1v1h-1z" fill="#0055ff"/><path d="M132 229h1v1h-1zM137 230h1v1h-1zM137 231h1v1h-1zM136 233h1v1h-1zM127 239h1v1h-1zM135 253h1v1h-1zM135 254h1v1h-1zM134 255h1v1h-1z" fill="#0099ff"/><path d="M133 229h1v1h-1zM128 232h1v1h-1zM127 233h1v1h-1zM135 234h1v1h-1zM134 235h1v1h-1zM133 236h1v1h-1z" fill="#00ccff"/><path d="M134 229h1v1h-1zM135 229h1v1h-1zM131 230h1v1h-1zM136 232h1v1h-1zM126 238h1v1h-1z" fill="#00ddff"/><path d="M136 229h1v1h-1zM129 231h1v1h-1zM126 234h1v1h-1zM125 237h1v1h-1zM130 238h1v1h-1z" fill="#00bbff"/><path d="M137 229h1v1h-1zM136 254h1v1h-1z" fill="#0077ff"/><path d="M132 230h1v1h-1zM135 230h1v1h-1zM127 234h1v1h-1zM132 236h1v1h-1z" fill="#33ffcc"/><path d="M133 230h1v1h-1zM134 230h1v1h-1zM135 231h1v1h-1zM135 232h1v1h-1zM128 233h1v1h-1zM133 235h1v1h-1zM127 237h1v1h-1zM130 237h1v1h-1z" fill="#55ffaa"/><path d="M136 230h1v1h-1zM129 238h1v1h-1z" fill="#00eeff"/><path d="M130 231h1v1h-1zM135 233h1v1h-1zM126 236h1v1h-1zM126 237h1v1h-1z" fill="#22ffdd"/><path d="M131 231h1v1h-1zM127 235h1v1h-1zM128 237h1v1h-1zM129 237h1v1h-1z" fill="#77ff88"/><path d="M132 231h1v1h-1zM130 232h1v1h-1zM128 234h1v1h-1z" fill="#aaff55"/><path d="M133 231h1v1h-1zM134 232h1v1h-1zM129 233h1v1h-1zM133 234h1v1h-1zM132 235h1v1h-1z" fill="#bbff44"/><path d="M134 231h1v1h-1zM134 233h1v1h-1zM131 236h1v1h-1z" fill="#99ff66"/><path d="M136 231h1v1h-1zM126 235h1v1h-1zM131 237h1v1h-1z" fill="#00ffff"/><path d="M138 231h1v1h-1z" fill="#0033ff"/><path d="M139 231h1v1h-1zM121 237h1v1h-1zM129 242h1v1h-1zM131 251h1v1h-1zM138 254h1v1h-1zM131 257h1v1h-1z" fill="#4455ee" opacity="0.8"/><path d="M129 232h1v1h-1zM134 234h1v1h-1z" fill="#44ffbb"/><path d="M131 232h1v1h-1z" fill="#ffee00"/><path d="M132 232h1v1h-1zM129 234h1v1h-1z" fill="#ffbb00"/><path d="M133 232h1v1h-1zM133 233h1v1h-1z" fill="#ffdd00"/><path d="M130 233h1v1h-1zM132 234h1v1h-1zM129 235h1v1h-1z" fill="#ffaa00"/><path d="M131 233h1v1h-1z" fill="#ff4400"/><path d="M132 233h1v1h-1z" fill="#ff5500"/><path d="M130 234h1v1h-1zM131 234h1v1h-1z" fill="#ff3300"/><path d="M128 235h1v1h-1zM129 236h1v1h-1z" fill="#eeff11"/><path d="M130 235h1v1h-1z" fill="#ff7700"/><path d="M131 235h1v1h-1z" fill="#ffcc00"/><path d="M125 236h1v1h-1zM132 237h1v1h-1zM125 238h1v1h-1zM134 253h1v1h-1zM134 254h1v1h-1z" fill="#00aaff"/><path d="M127 236h1v1h-1z" fill="#88ff77"/><path d="M128 236h1v1h-1z" fill="#ccff33"/><path d="M130 236h1v1h-1z" fill="#ddff22"/><path d="M111 238h1v1h-1zM100 255h1v1h-1zM121 257h1v1h-1z" fill="#8888ff" opacity="0.4"/><path d="M127 238h1v1h-1zM128 238h1v1h-1z" fill="#11ffee"/><path d="M126 239h1v1h-1zM128 239h1v1h-1zM134 252h1v1h-1zM135 252h1v1h-1zM133 253h1v1h-1zM133 254h1v1h-1zM135 255h1v1h-1z" fill="#0088ff"/><path d="M114 245h1v1h-1zM118 251h1v1h-1z" fill="#7777ee" opacity="0.5"/><path d="M119 245h1v1h-1zM129 248h1v1h-1z" fill="#5577ee" opacity="0.6"/><path d="M148 245h1v1h-1zM94 246h1v1h-1z" fill="#9999ff" opacity="0.4"/><path d="M147 266h1v1h-1zM121 270h1v1h-1zM140 272h1v1h-1zM131 275h1v1h-1zM143 275h1v1h-1zM113 276h1v1h-1zM128 276h1v1h-1z" fill="#99aaff" opacity="0.4"/></g>
<line x1="93.1" y1="239.2" x2="117.2" y2="239.2" stroke="#3a3a3a" stroke-width="1"/>
<line x1="117.2" y1="239.2" x2="126.9" y2="221.1" stroke="#3a3a3a" stroke-width="1"/>
<line x1="117.2" y1="239.2" x2="127.3" y2="248.5" stroke="#3a3a3a" stroke-width="1"/>
<line x1="127.3" y1="248.5" x2="149.3" y2="230.1" stroke="#3a3a3a" stroke-width="1"/>
<line x1="127.3" y1="248.5" x2="127.3" y2="277.8" stroke="#3a3a3a" stroke-width="1"/>
<rect x="93.65" y="221.65" width="55.1" height="55.6" fill="none" stroke="#6a6a6a" stroke-width="1.1"/>
<text x="95" y="226.5" font-size="4.8" text-anchor="start" fill="#333">1</text>
<text x="147.6" y="226.5" font-size="4.8" text-anchor="end" fill="#333">81</text>
<text x="95" y="275.3" font-size="4.8" text-anchor="start" fill="#333">5</text>
<text x="147.8" y="275.3" font-size="4.8" text-anchor="end" fill="#333">12</text>
<line x1="86.7" y1="185.5" x2="86.7" y2="285.7" stroke="#1a1a1a" stroke-width="1.3"/>
<line x1="86.05" y1="285.7" x2="129.5" y2="285.7" stroke="#1a1a1a" stroke-width="1.3"/>
<path d="M86.7,180.8 L84.4,186.6 L89.0,186.6 Z" fill="#111"/>
<path d="M133.6,285.7 L128.0,283.3 L128.0,288.1 Z" fill="#111"/>
<text x="89" y="170.2" font-size="9" text-anchor="middle" textLength="10.2" lengthAdjust="spacingAndGlyphs" transform="rotate(-90 89 170.2)" stroke="#111" stroke-width="0.2">CD4</text>
<text x="144.4" y="288.8" font-size="9.6" text-anchor="middle" textLength="10.6" lengthAdjust="spacingAndGlyphs" stroke="#111" stroke-width="0.2">CD8</text>
<line x1="188" y1="172.8" x2="188" y2="255.2" stroke="#111" stroke-width="1.1"/>
<line x1="187.5" y1="254.7" x2="240" y2="254.7" stroke="#111" stroke-width="1.1"/>
<line x1="185.5" y1="254.7" x2="188" y2="254.7" stroke="#111" stroke-width="1"/>
<text x="181.7" y="257.25" font-size="6.7" text-anchor="end" textLength="3.54" lengthAdjust="spacingAndGlyphs" stroke="#111" stroke-width="0.12">0</text>
<line x1="185.5" y1="228.3" x2="188" y2="228.3" stroke="#111" stroke-width="1"/>
<text x="181.7" y="230.85" font-size="6.7" text-anchor="end" textLength="7.08" lengthAdjust="spacingAndGlyphs" stroke="#111" stroke-width="0.12">20</text>
<line x1="185.5" y1="201.9" x2="188" y2="201.9" stroke="#111" stroke-width="1"/>
<text x="181.7" y="204.45" font-size="6.7" text-anchor="end" textLength="7.08" lengthAdjust="spacingAndGlyphs" stroke="#111" stroke-width="0.12">40</text>
<line x1="185.5" y1="175.5" x2="188" y2="175.5" stroke="#111" stroke-width="1"/>
<text x="181.7" y="178.05" font-size="6.7" text-anchor="end" textLength="7.08" lengthAdjust="spacingAndGlyphs" stroke="#111" stroke-width="0.12">60</text>
<text x="214" y="167.8" font-size="8.2" text-anchor="middle" stroke="#111" stroke-width="0.12">DP cells</text>
<rect x="195.45" y="232.26" width="14.2" height="22.44" fill="#cdd2e6" stroke="#3b5b9b" stroke-width="1.1"/>
<line x1="202.55" y1="238.86" x2="202.55" y2="225" stroke="#3b5b9b" stroke-width="1"/>
<line x1="199.3" y1="238.86" x2="205.8" y2="238.86" stroke="#3b5b9b" stroke-width="1.3"/>
<line x1="199.3" y1="225" x2="205.8" y2="225" stroke="#3b5b9b" stroke-width="1.3"/>
<rect x="201.65" y="216.84" width="1.8" height="1.8" fill="#3b5b9b"/>
<rect x="200.15" y="222.12" width="1.8" height="1.8" fill="#3b5b9b"/>
<rect x="203.15" y="223.44" width="1.8" height="1.8" fill="#3b5b9b"/>
<rect x="201.65" y="236.64" width="1.8" height="1.8" fill="#3b5b9b"/>
<rect x="201.65" y="251.16" width="1.8" height="1.8" fill="#3b5b9b"/>
<rect x="217.95" y="215.1" width="14.2" height="39.6" fill="#e9c4bf" stroke="#bf2e48" stroke-width="1.1"/>
<line x1="225.05" y1="225.66" x2="225.05" y2="204.54" stroke="#bf2e48" stroke-width="1"/>
<line x1="221.8" y1="225.66" x2="228.3" y2="225.66" stroke="#bf2e48" stroke-width="1.3"/>
<line x1="221.8" y1="204.54" x2="228.3" y2="204.54" stroke="#bf2e48" stroke-width="1.3"/>
<rect x="224.15" y="187.8" width="1.8" height="1.8" fill="#bf2e48"/>
<rect x="224.15" y="199.68" width="1.8" height="1.8" fill="#bf2e48"/>
<rect x="224.15" y="204.96" width="1.8" height="1.8" fill="#bf2e48"/>
<rect x="225.15" y="237.96" width="1.8" height="1.8" fill="#bf2e48"/>
<rect x="223.15" y="239.28" width="1.8" height="1.8" fill="#bf2e48"/>
<line x1="201.8" y1="183.2" x2="224.5" y2="183.2" stroke="#333" stroke-width="1.1"/>
<text x="213.2" y="181" font-size="4.6" text-anchor="middle">ns</text>
<text x="206" y="263.9" font-size="6.7" text-anchor="end" fill="#111" transform="rotate(-45 206 263.9)">PD-1<tspan font-size="4.02" dy="-2.68">+/+</tspan><tspan dy="2.68"> CY+</tspan></text>
<text x="228.5" y="263.9" font-size="6.7" text-anchor="end" fill="#111" transform="rotate(-45 228.5 263.9)">PD-1<tspan font-size="4.02" dy="-2.68">-/-</tspan><tspan dy="2.68"> CY+</tspan></text>
<line x1="202.5" y1="254.7" x2="202.5" y2="257.3" stroke="#333" stroke-width="1"/>
<line x1="225" y1="254.7" x2="225" y2="257.3" stroke="#333" stroke-width="1"/>
<text x="169.4" y="213.2" font-size="7.6" text-anchor="middle" transform="rotate(-90 169.4 213.2)" stroke="#111" stroke-width="0.2" textLength="26.7" lengthAdjust="spacingAndGlyphs">Cells x10<tspan font-size="4.4" dy="-3">6</tspan></text>
<text x="363.5" y="168" font-size="8.3" text-anchor="middle" textLength="72.8" lengthAdjust="spacingAndGlyphs" stroke="#111" stroke-width="0.12">Single-positive cells</text>
<rect x="293.5" y="185.68" width="16.4" height="68.92" fill="#5cb83c" stroke="none" stroke-width="1"/>
<rect x="293.5" y="186.65" width="16.4" height="67.95" fill="#a8002c" stroke="none" stroke-width="1"/>
<rect x="293.5" y="233.15" width="16.4" height="21.45" fill="#2e4f88" stroke="none" stroke-width="1"/>
<line x1="301.7" y1="233.15" x2="301.7" y2="230.73" stroke="#3a5aa8" stroke-width="1"/>
<line x1="298.2" y1="230.73" x2="305.2" y2="230.73" stroke="#3a5aa8" stroke-width="1.2"/>
<line x1="301.7" y1="254.6" x2="301.7" y2="257.1" stroke="#111" stroke-width="0.9"/>
<rect x="318.6" y="185.68" width="16.4" height="68.92" fill="#5cb83c" stroke="none" stroke-width="1"/>
<rect x="318.6" y="186.65" width="16.4" height="67.95" fill="#a8002c" stroke="none" stroke-width="1"/>
<rect x="318.6" y="227.96" width="16.4" height="26.64" fill="#2e4f88" stroke="none" stroke-width="1"/>
<line x1="326.8" y1="227.96" x2="326.8" y2="223.46" stroke="#3a5aa8" stroke-width="1"/>
<line x1="323.3" y1="223.46" x2="330.3" y2="223.46" stroke="#3a5aa8" stroke-width="1.2"/>
<line x1="326.8" y1="254.6" x2="326.8" y2="257.1" stroke="#111" stroke-width="0.9"/>
<line x1="285.6" y1="183.3" x2="285.6" y2="255.1" stroke="#111" stroke-width="1.1"/>
<line x1="285.1" y1="254.6" x2="342.5" y2="254.6" stroke="#111" stroke-width="1.1"/>
<line x1="283.1" y1="254.6" x2="285.6" y2="254.6" stroke="#111" stroke-width="1"/>
<text x="279.6" y="257.15" font-size="6.7" text-anchor="end" textLength="3.54" lengthAdjust="spacingAndGlyphs" stroke="#111" stroke-width="0.12">0</text>
<line x1="283.1" y1="220" x2="285.6" y2="220" stroke="#111" stroke-width="1"/>
<text x="279.6" y="222.55" font-size="6.7" text-anchor="end" textLength="7.08" lengthAdjust="spacingAndGlyphs" stroke="#111" stroke-width="0.12">50</text>
<line x1="283.1" y1="185.4" x2="285.6" y2="185.4" stroke="#111" stroke-width="1"/>
<text x="279.6" y="187.95" font-size="6.7" text-anchor="end" textLength="10.62" lengthAdjust="spacingAndGlyphs" stroke="#111" stroke-width="0.12">100</text>
<line x1="301.8" y1="181.3" x2="326.8" y2="181.3" stroke="#333" stroke-width="1.1"/>
<text x="314.3" y="179.1" font-size="4.6" text-anchor="middle">ns</text>
<text x="304.9" y="264.4" font-size="6.7" text-anchor="end" fill="#111" transform="rotate(-45 304.9 264.4)">PD-1<tspan font-size="4.02" dy="-2.68">+/+</tspan><tspan dy="2.68"> CY+</tspan></text>
<text x="330" y="264.4" font-size="6.7" text-anchor="end" fill="#111" transform="rotate(-45 330 264.4)">PD-1<tspan font-size="4.02" dy="-2.68">-/-</tspan><tspan dy="2.68"> CY+</tspan></text>
<text x="262.7" y="219.3" font-size="8" text-anchor="middle" textLength="31.8" lengthAdjust="spacingAndGlyphs" stroke="#111" stroke-width="0.2" transform="rotate(-90 262.7 219.3)">% of CD8SP</text>
<rect x="391.6" y="185.68" width="16.4" height="68.92" fill="#5cb83c" stroke="none" stroke-width="1"/>
<rect x="391.6" y="186.65" width="16.4" height="67.95" fill="#a8002c" stroke="none" stroke-width="1"/>
<rect x="391.6" y="233.15" width="16.4" height="21.45" fill="#2e4f88" stroke="none" stroke-width="1"/>
<line x1="399.8" y1="233.15" x2="399.8" y2="230.73" stroke="#3a5aa8" stroke-width="1"/>
<line x1="396.3" y1="230.73" x2="403.3" y2="230.73" stroke="#3a5aa8" stroke-width="1.2"/>
<line x1="399.8" y1="254.6" x2="399.8" y2="257.1" stroke="#111" stroke-width="0.9"/>
<rect x="416.7" y="185.68" width="16.4" height="68.92" fill="#5cb83c" stroke="none" stroke-width="1"/>
<rect x="416.7" y="186.65" width="16.4" height="67.95" fill="#a8002c" stroke="none" stroke-width="1"/>
<rect x="416.7" y="227.96" width="16.4" height="26.64" fill="#2e4f88" stroke="none" stroke-width="1"/>
<line x1="424.9" y1="227.96" x2="424.9" y2="223.46" stroke="#3a5aa8" stroke-width="1"/>
<line x1="421.4" y1="223.46" x2="428.4" y2="223.46" stroke="#3a5aa8" stroke-width="1.2"/>
<line x1="424.9" y1="254.6" x2="424.9" y2="257.1" stroke="#111" stroke-width="0.9"/>
<line x1="382.7" y1="183.3" x2="382.7" y2="255.1" stroke="#111" stroke-width="1.1"/>
<line x1="382.2" y1="254.6" x2="441.5" y2="254.6" stroke="#111" stroke-width="1.1"/>
<line x1="380.2" y1="254.6" x2="382.7" y2="254.6" stroke="#111" stroke-width="1"/>
<text x="376.7" y="257.15" font-size="6.7" text-anchor="end" textLength="3.54" lengthAdjust="spacingAndGlyphs" stroke="#111" stroke-width="0.12">0</text>
<line x1="380.2" y1="220" x2="382.7" y2="220" stroke="#111" stroke-width="1"/>
<text x="376.7" y="222.55" font-size="6.7" text-anchor="end" textLength="7.08" lengthAdjust="spacingAndGlyphs" stroke="#111" stroke-width="0.12">50</text>
<line x1="380.2" y1="185.4" x2="382.7" y2="185.4" stroke="#111" stroke-width="1"/>
<text x="376.7" y="187.95" font-size="6.7" text-anchor="end" textLength="10.62" lengthAdjust="spacingAndGlyphs" stroke="#111" stroke-width="0.12">100</text>
<line x1="400" y1="181.4" x2="424.9" y2="181.4" stroke="#333" stroke-width="1.1"/>
<text x="412.45" y="179.2" font-size="4.6" text-anchor="middle">ns</text>
<text x="403" y="264.4" font-size="6.7" text-anchor="end" fill="#111" transform="rotate(-45 403 264.4)">PD-1<tspan font-size="4.02" dy="-2.68">+/+</tspan><tspan dy="2.68"> CY+</tspan></text>
<text x="428.1" y="264.4" font-size="6.7" text-anchor="end" fill="#111" transform="rotate(-45 428.1 264.4)">PD-1<tspan font-size="4.02" dy="-2.68">-/-</tspan><tspan dy="2.68"> CY+</tspan></text>
<text x="359.9" y="219" font-size="8" text-anchor="middle" textLength="38.9" lengthAdjust="spacingAndGlyphs" stroke="#111" stroke-width="0.2" transform="rotate(-90 359.9 219)">% of CD4Tcon</text>
<path d="M50.8,389.61 L75.9,389.07 L119.6,362.46" fill="none" stroke="#2f4d8c" stroke-width="1.5"/>
<path d="M50.8,387.01 L53.53,391.69 L48.07,391.69 Z" fill="#2f4d8c"/>
<path d="M75.9,386.47 L78.63,391.15 L73.17,391.15 Z" fill="#2f4d8c"/>
<path d="M119.6,359.86 L122.33,364.54 L116.87,364.54 Z" fill="#2f4d8c"/>
<path d="M50.8,389.22 L75.9,386.89 L119.6,344.88" fill="none" stroke="#b0173a" stroke-width="1.5"/>
<line x1="119.6" y1="354.21" x2="119.6" y2="337.1" stroke="#b0173a" stroke-width="1"/>
<line x1="117.35" y1="354.21" x2="121.85" y2="354.21" stroke="#b0173a" stroke-width="1.2"/>
<line x1="117.35" y1="337.1" x2="121.85" y2="337.1" stroke="#b0173a" stroke-width="1.2"/>
<path d="M50.8,391.82 L53.53,387.14 L48.07,387.14 Z" fill="#b0173a"/>
<path d="M75.9,389.49 L78.63,384.81 L73.17,384.81 Z" fill="#b0173a"/>
<path d="M119.6,347.48 L122.33,342.8 L116.87,342.8 Z" fill="#b0173a"/>
<line x1="32.5" y1="325" x2="32.5" y2="390.5" stroke="#111" stroke-width="1.6"/>
<line x1="32" y1="390" x2="126.3" y2="390" stroke="#111" stroke-width="1.6"/>
<line x1="30" y1="390" x2="32.5" y2="390" stroke="#111" stroke-width="1"/>
<text x="26.3" y="392.55" font-size="6.7" text-anchor="end" textLength="3.54" lengthAdjust="spacingAndGlyphs" stroke="#111" stroke-width="0.12">0</text>
<line x1="30" y1="374.44" x2="32.5" y2="374.44" stroke="#111" stroke-width="1"/>
<text x="26.3" y="376.99" font-size="6.7" text-anchor="end" textLength="3.54" lengthAdjust="spacingAndGlyphs" stroke="#111" stroke-width="0.12">2</text>
<line x1="30" y1="358.88" x2="32.5" y2="358.88" stroke="#111" stroke-width="1"/>
<text x="26.3" y="361.43" font-size="6.7" text-anchor="end" textLength="3.54" lengthAdjust="spacingAndGlyphs" stroke="#111" stroke-width="0.12">4</text>
<line x1="30" y1="343.32" x2="32.5" y2="343.32" stroke="#111" stroke-width="1"/>
<text x="26.3" y="345.87" font-size="6.7" text-anchor="end" textLength="3.54" lengthAdjust="spacingAndGlyphs" stroke="#111" stroke-width="0.12">6</text>
<line x1="30" y1="327.76" x2="32.5" y2="327.76" stroke="#111" stroke-width="1"/>
<text x="26.3" y="330.31" font-size="6.7" text-anchor="end" textLength="3.54" lengthAdjust="spacingAndGlyphs" stroke="#111" stroke-width="0.12">8</text>
<text x="50.8" y="399.6" font-size="6.6" text-anchor="middle" stroke="#111" stroke-width="0.1">3</text>
<text x="75.9" y="399.6" font-size="6.6" text-anchor="middle" stroke="#111" stroke-width="0.1">7</text>
<text x="119.6" y="399.6" font-size="6.6" text-anchor="middle" stroke="#111" stroke-width="0.1">14</text>
<line x1="35" y1="333.2" x2="44" y2="333.2" stroke="#2f4d8c" stroke-width="1.5"/>
<path d="M39.2,330.6 L41.93,335.28 L36.47,335.28 Z" fill="#2f4d8c"/>
<line x1="35" y1="341.6" x2="44" y2="341.6" stroke="#b0173a" stroke-width="1.5"/>
<path d="M39.2,344.2 L41.93,339.52 L36.47,339.52 Z" fill="#b0173a"/>
<text x="46.8" y="334.9" font-size="5.9" fill="#222" textLength="28.2" lengthAdjust="spacingAndGlyphs">PD-1<tspan font-size="3.2" dy="-2.2">+/+</tspan><tspan dy="2.2"> CY+</tspan></text>
<text x="46.8" y="343.3" font-size="5.9" fill="#222" textLength="26" lengthAdjust="spacingAndGlyphs">PD-1<tspan font-size="3.2" dy="-2.2">-/-</tspan><tspan dy="2.2"> CY+</tspan></text>
<text x="58.8" y="410.3" font-size="9" text-anchor="start" textLength="40.6" lengthAdjust="spacingAndGlyphs" stroke="#111" stroke-width="0.2">Days after BMT</text>
<text x="17.4" y="356.6" font-size="8.6" text-anchor="middle" stroke="#111" stroke-width="0.2" transform="rotate(-90 17.4 356.6)" textLength="61.5" lengthAdjust="spacingAndGlyphs">Number of Tcons (x10<tspan font-size="5" dy="-3.2">6</tspan><tspan dy="3.2">)</tspan></text>
<text x="119.6" y="336" font-size="5.5" text-anchor="middle">*</text>
<path d="M184.3,389.48 L209.5,389.07 L253.2,365.29" fill="none" stroke="#2f4d8c" stroke-width="1.5"/>
<line x1="253.2" y1="373.21" x2="253.2" y2="356.52" stroke="#2f4d8c" stroke-width="1"/>
<line x1="250.95" y1="373.21" x2="255.45" y2="373.21" stroke="#2f4d8c" stroke-width="1.2"/>
<line x1="250.95" y1="356.52" x2="255.45" y2="356.52" stroke="#2f4d8c" stroke-width="1.2"/>
<path d="M184.3,386.88 L187.03,391.56 L181.57,391.56 Z" fill="#2f4d8c"/>
<path d="M209.5,386.47 L212.23,391.15 L206.77,391.15 Z" fill="#2f4d8c"/>
<path d="M253.2,362.69 L255.93,367.37 L250.47,367.37 Z" fill="#2f4d8c"/>
<path d="M184.3,389.27 L209.5,388.65 L253.2,349.01" fill="none" stroke="#b0173a" stroke-width="1.5"/>
<line x1="253.2" y1="360.7" x2="253.2" y2="338.79" stroke="#b0173a" stroke-width="1"/>
<line x1="250.95" y1="360.7" x2="255.45" y2="360.7" stroke="#b0173a" stroke-width="1.2"/>
<line x1="250.95" y1="338.79" x2="255.45" y2="338.79" stroke="#b0173a" stroke-width="1.2"/>
<path d="M184.3,391.87 L187.03,387.19 L181.57,387.19 Z" fill="#b0173a"/>
<path d="M209.5,391.25 L212.23,386.57 L206.77,386.57 Z" fill="#b0173a"/>
<path d="M253.2,351.61 L255.93,346.93 L250.47,346.93 Z" fill="#b0173a"/>
<line x1="165" y1="324.5" x2="165" y2="390.4" stroke="#111" stroke-width="1.6"/>
<line x1="164.5" y1="389.9" x2="258.8" y2="389.9" stroke="#111" stroke-width="1.6"/>
<line x1="162.5" y1="389.9" x2="165" y2="389.9" stroke="#111" stroke-width="1"/>
<text x="158.8" y="392.45" font-size="6.7" text-anchor="end" textLength="8.85" lengthAdjust="spacingAndGlyphs" stroke="#111" stroke-width="0.12">0.0</text>
<line x1="162.5" y1="369.04" x2="165" y2="369.04" stroke="#111" stroke-width="1"/>
<text x="158.8" y="371.59" font-size="6.7" text-anchor="end" textLength="8.85" lengthAdjust="spacingAndGlyphs" stroke="#111" stroke-width="0.12">0.1</text>
<line x1="162.5" y1="348.18" x2="165" y2="348.18" stroke="#111" stroke-width="1"/>
<text x="158.8" y="350.73" font-size="6.7" text-anchor="end" textLength="8.85" lengthAdjust="spacingAndGlyphs" stroke="#111" stroke-width="0.12">0.2</text>
<line x1="162.5" y1="327.32" x2="165" y2="327.32" stroke="#111" stroke-width="1"/>
<text x="158.8" y="329.87" font-size="6.7" text-anchor="end" textLength="8.85" lengthAdjust="spacingAndGlyphs" stroke="#111" stroke-width="0.12">0.3</text>
<text x="184.3" y="399.5" font-size="6.6" text-anchor="middle" stroke="#111" stroke-width="0.1">3</text>
<text x="209.5" y="399.5" font-size="6.6" text-anchor="middle" stroke="#111" stroke-width="0.1">7</text>
<text x="253.2" y="399.5" font-size="6.6" text-anchor="middle" stroke="#111" stroke-width="0.1">14</text>
<line x1="168.4" y1="333" x2="177.4" y2="333" stroke="#2f4d8c" stroke-width="1.5"/>
<path d="M172.6,330.4 L175.33,335.08 L169.87,335.08 Z" fill="#2f4d8c"/>
<line x1="168.4" y1="341.4" x2="177.4" y2="341.4" stroke="#b0173a" stroke-width="1.5"/>
<path d="M172.6,344 L175.33,339.32 L169.87,339.32 Z" fill="#b0173a"/>
<text x="180.2" y="334.7" font-size="5.9" fill="#222" textLength="28.2" lengthAdjust="spacingAndGlyphs">PD-1<tspan font-size="3.2" dy="-2.2">+/+</tspan><tspan dy="2.2"> CY+</tspan></text>
<text x="180.2" y="343.1" font-size="5.9" fill="#222" textLength="26" lengthAdjust="spacingAndGlyphs">PD-1<tspan font-size="3.2" dy="-2.2">-/-</tspan><tspan dy="2.2"> CY+</tspan></text>
<text x="192" y="410.3" font-size="9" text-anchor="start" textLength="40.6" lengthAdjust="spacingAndGlyphs" stroke="#111" stroke-width="0.2">Days after BMT</text>
<text x="146" y="355.3" font-size="8.6" text-anchor="middle" stroke="#111" stroke-width="0.2" transform="rotate(-90 146 355.3)" textLength="63.0" lengthAdjust="spacingAndGlyphs">Number of Tregs (x10<tspan font-size="5" dy="-3.2">6</tspan><tspan dy="3.2">)</tspan></text>
<line x1="303.8" y1="325" x2="303.8" y2="388.53" stroke="#111" stroke-width="1.1"/>
<line x1="303.3" y1="388.03" x2="387.5" y2="388.03" stroke="#111" stroke-width="1.1"/>
<line x1="301.3" y1="376.25" x2="303.8" y2="376.25" stroke="#111" stroke-width="1"/>
<text x="298.2" y="378.55" font-size="6.4" text-anchor="end">40</text>
<line x1="301.3" y1="360" x2="303.8" y2="360" stroke="#111" stroke-width="1"/>
<text x="298.2" y="362.3" font-size="6.4" text-anchor="end">60</text>
<line x1="301.3" y1="343.75" x2="303.8" y2="343.75" stroke="#111" stroke-width="1"/>
<text x="298.2" y="346.05" font-size="6.4" text-anchor="end">80</text>
<line x1="301.3" y1="327.5" x2="303.8" y2="327.5" stroke="#111" stroke-width="1"/>
<text x="298.2" y="329.8" font-size="6.4" text-anchor="end">100</text>
<rect x="317" y="337.66" width="26.8" height="28.84" fill="none" stroke="#3d5b98" stroke-width="1.1"/>
<line x1="317" y1="359.19" x2="343.8" y2="359.19" stroke="#3d5b98" stroke-width="1.3"/>
<line x1="330.4" y1="337.66" x2="330.4" y2="336.84" stroke="#3d5b98" stroke-width="1.1"/>
<line x1="330.4" y1="366.5" x2="330.4" y2="371.78" stroke="#3d5b98" stroke-width="1.1"/>
<line x1="324.9" y1="336.84" x2="335.9" y2="336.84" stroke="#3d5b98" stroke-width="1.2"/>
<line x1="324.9" y1="371.78" x2="335.9" y2="371.78" stroke="#3d5b98" stroke-width="1.2"/>
<line x1="330.4" y1="388.03" x2="330.4" y2="390.63" stroke="#111" stroke-width="1"/>
<rect x="356.3" y="351.06" width="26.2" height="18.69" fill="none" stroke="#bb2a4a" stroke-width="1.1"/>
<line x1="356.3" y1="360.81" x2="382.5" y2="360.81" stroke="#bb2a4a" stroke-width="1.3"/>
<line x1="369.4" y1="351.06" x2="369.4" y2="345.38" stroke="#bb2a4a" stroke-width="1.1"/>
<line x1="369.4" y1="369.75" x2="369.4" y2="377.47" stroke="#bb2a4a" stroke-width="1.1"/>
<line x1="363.9" y1="345.38" x2="374.9" y2="345.38" stroke="#bb2a4a" stroke-width="1.2"/>
<line x1="363.9" y1="377.47" x2="374.9" y2="377.47" stroke="#bb2a4a" stroke-width="1.2"/>
<line x1="369.4" y1="388.03" x2="369.4" y2="390.63" stroke="#111" stroke-width="1"/>
<line x1="330.5" y1="326.5" x2="369.5" y2="326.5" stroke="#222" stroke-width="1.1"/>
<text x="350" y="324.2" font-size="6" text-anchor="middle" stroke="#111" stroke-width="0.05">ns</text>
<text x="333" y="399.2" font-size="6.6" text-anchor="end" fill="#111" transform="rotate(-45 333 399.2)">PD-1<tspan font-size="3.96" dy="-2.64">+/+</tspan><tspan dy="2.64"> CY+</tspan></text>
<text x="372" y="399.2" font-size="6.6" text-anchor="end" fill="#111" transform="rotate(-45 372 399.2)">PD-1<tspan font-size="3.96" dy="-2.64">-/-</tspan><tspan dy="2.64"> CY+</tspan></text>
<text x="282.2" y="356.6" font-size="8" text-anchor="middle" textLength="54.3" lengthAdjust="spacingAndGlyphs" stroke="#111" stroke-width="0.2" transform="rotate(-90 282.2 356.6)">%annexin V of Tcons</text>
<line x1="429.4" y1="325" x2="429.4" y2="388.69" stroke="#111" stroke-width="1.1"/>
<line x1="428.9" y1="388.19" x2="512.3" y2="388.19" stroke="#111" stroke-width="1.1"/>
<line x1="426.9" y1="376.4" x2="429.4" y2="376.4" stroke="#111" stroke-width="1"/>
<text x="423.8" y="378.7" font-size="6.4" text-anchor="end">40</text>
<line x1="426.9" y1="360.13" x2="429.4" y2="360.13" stroke="#111" stroke-width="1"/>
<text x="423.8" y="362.43" font-size="6.4" text-anchor="end">60</text>
<line x1="426.9" y1="343.87" x2="429.4" y2="343.87" stroke="#111" stroke-width="1"/>
<text x="423.8" y="346.17" font-size="6.4" text-anchor="end">80</text>
<line x1="426.9" y1="327.6" x2="429.4" y2="327.6" stroke="#111" stroke-width="1"/>
<text x="423.8" y="329.9" font-size="6.4" text-anchor="end">100</text>
<rect x="442.6" y="333.29" width="25.2" height="22.77" fill="none" stroke="#3d5b98" stroke-width="1.1"/>
<line x1="442.6" y1="355.25" x2="467.8" y2="355.25" stroke="#3d5b98" stroke-width="1.3"/>
<line x1="455.2" y1="333.29" x2="455.2" y2="330.04" stroke="#3d5b98" stroke-width="1.1"/>
<line x1="455.2" y1="356.07" x2="455.2" y2="356.88" stroke="#3d5b98" stroke-width="1.1"/>
<line x1="449.7" y1="330.04" x2="460.7" y2="330.04" stroke="#3d5b98" stroke-width="1.2"/>
<line x1="449.7" y1="356.88" x2="460.7" y2="356.88" stroke="#3d5b98" stroke-width="1.2"/>
<line x1="455.2" y1="388.19" x2="455.2" y2="390.79" stroke="#111" stroke-width="1"/>
<rect x="481.5" y="345.9" width="25.8" height="20.74" fill="none" stroke="#bb2a4a" stroke-width="1.1"/>
<line x1="481.5" y1="352.41" x2="507.3" y2="352.41" stroke="#bb2a4a" stroke-width="1.3"/>
<line x1="494.4" y1="345.9" x2="494.4" y2="341.43" stroke="#bb2a4a" stroke-width="1.1"/>
<line x1="494.4" y1="366.64" x2="494.4" y2="372.74" stroke="#bb2a4a" stroke-width="1.1"/>
<line x1="488.9" y1="341.43" x2="499.9" y2="341.43" stroke="#bb2a4a" stroke-width="1.2"/>
<line x1="488.9" y1="372.74" x2="499.9" y2="372.74" stroke="#bb2a4a" stroke-width="1.2"/>
<line x1="494.4" y1="388.19" x2="494.4" y2="390.79" stroke="#111" stroke-width="1"/>
<line x1="455" y1="326.6" x2="494" y2="326.6" stroke="#222" stroke-width="1.1"/>
<text x="474.5" y="324.3" font-size="6" text-anchor="middle" stroke="#111" stroke-width="0.05">ns</text>
<text x="457.8" y="399.2" font-size="6.6" text-anchor="end" fill="#111" transform="rotate(-45 457.8 399.2)">PD-1<tspan font-size="3.96" dy="-2.64">+/+</tspan><tspan dy="2.64"> CY+</tspan></text>
<text x="497" y="399.2" font-size="6.6" text-anchor="end" fill="#111" transform="rotate(-45 497 399.2)">PD-1<tspan font-size="3.96" dy="-2.64">-/-</tspan><tspan dy="2.64"> CY+</tspan></text>
<text x="406.6" y="356.6" font-size="8" text-anchor="middle" textLength="54.3" lengthAdjust="spacingAndGlyphs" stroke="#111" stroke-width="0.2" transform="rotate(-90 406.6 356.6)">%annexin V of Tregs</text>
<rect x="0.5" y="0.5" width="519" height="430" fill="none" stroke="#000" stroke-width="1"/>
</svg>
</body></html>
